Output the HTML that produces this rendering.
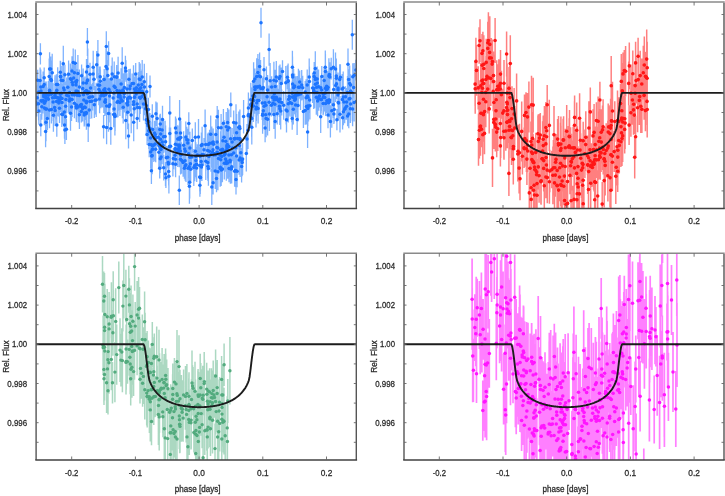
<!DOCTYPE html>
<html><head><meta charset="utf-8"><title>Transit light curves</title>
<style>html,body{margin:0;padding:0;background:#fff;width:725px;height:496px;overflow:hidden}svg{display:block}text{font-family:"Liberation Sans",sans-serif}</style>
</head><body>
<svg width="725" height="496" viewBox="0 0 725 496" font-family="Liberation Sans, sans-serif" font-size="10"><rect width="725" height="496" fill="#fff"/><filter id="bl" x="0" y="0" width="725" height="496" filterUnits="userSpaceOnUse"><feGaussianBlur stdDeviation="0.4"/></filter><g filter="url(#bl)"><clipPath id="cTL"><rect x="36.0" y="2.0" width="320.3" height="206.5"/></clipPath>
<g clip-path="url(#cTL)">
<path d="M35.7 91.1V113.4M36.7 91.5V116.6M37.2 85.4V110M37.7 69.8V90.6M38.6 87V120.4M38.7 79.3V105M38.9 97.3V124.7M40.1 67.6V93.6M40.4 43.2V64.4M40.8 69.4V104.6M40.8 113.9V136.3M40.9 88.1V113.3M41 74.6V107.6M41.8 93.6V119.8M41.9 86.6V115.8M42.9 87.6V113.6M43.1 71.4V101.5M43.7 82.1V107.9M43.8 82.7V110.9M44.2 74.5V94.7M44.2 67.5V87.8M44.3 81.4V110.5M44.4 90.6V125.3M44.4 84.3V122.3M45.1 83.8V118.3M45.4 86.5V115.9M45.6 115.6V147.2M45.7 81.6V113.7M45.7 92.4V125.6M46 103.4V141.2M46.2 81.6V107.8M46.4 83.7V111.8M46.5 92V126M47.4 106.4V130.3M47.9 87.6V109.3M48.3 81.1V117.3M48.4 85.1V105.4M49.2 58.4V94.5M49.5 91.9V128.3M49.6 78.7V101.7M49.6 52.2V85.8M49.7 79.2V104.4M50.7 56.4V81.3M50.9 60.5V98.2M51.2 76.2V112.2M51.4 63.7V97.5M51.4 95.6V123.4M52.2 53.8V91.5M52.6 82.7V112.9M53.1 83.3V120.9M53.4 98.7V131.7M54.6 97V117.8M54.9 80.2V114.6M54.9 77.6V112.7M55 75.2V111.1M55.1 94.9V126.1M56.4 74.2V94.8M56.5 83.8V119.4M56.7 78.9V106.5M56.7 85.8V109.3M56.8 78.4V102.1M56.8 113.2V136.8M57.7 67.2V101.9M57.7 87.1V108.4M58 79.8V116.3M58.8 92.7V113M59.1 84.1V117.1M59.5 88.1V112.3M59.5 93.7V122.9M60.3 60.7V83.8M60.4 76.1V112.3M60.5 64.8V87.6M60.5 83.2V111.6M60.6 61.4V92.4M61.2 66.1V94.2M61.3 81.3V105.1M61.8 101.7V126.9M61.9 84V120.9M62 87.3V109.5M62.7 104.3V124.6M62.8 62.2V98.6M63.3 45.8V81.7M63.7 71.8V104.1M64.2 75.8V104.3M64.3 93.4V130.6M64.5 111.4V138.8M64.9 64.7V84.9M64.9 116.1V143.9M65.5 102V131.5M65.6 91.3V121.2M65.9 81.4V117.4M66.4 118.7V139.9M66.7 77.6V113M67.8 72.5V101.9M68.6 79.5V112.7M68.6 60.5V88M69.5 88.3V113.6M69.7 79.5V105.5M69.9 86.4V111.4M70.4 85.2V113.4M70.4 63.4V94.1M70.5 95.7V130.7M71.3 67.8V91M71.5 92.9V121M72 56.2V85.8M72.1 82.1V116.9M72.2 65.8V98.6M72.2 79.1V110.3M72.8 68.6V100.7M73.2 48.4V76.5M73.7 60.7V95.2M74.3 77.6V112.7M74.4 88.1V118.3M74.4 61.8V83.9M75.3 49.5V77.1M75.8 69.1V93.9M76 79.3V102.8M76 72.3V97.6M76.1 65V99.8M76.2 93.3V119.6M76.4 94.3V122M76.5 91.4V118.3M76.8 68.9V92.2M77.1 80.1V110.4M77.8 77.6V105.1M77.9 55V91.9M78.2 91.4V122.5M79.4 76.6V114.2M79.4 69.4V104.8M79.4 100.3V129.1M80.2 95.1V115.3M81.2 94.6V118.5M81.3 100.4V122.6M81.4 87.9V121.2M81.6 64.5V87M82.6 72.7V104.3M82.6 95.8V121.6M83.2 68.6V97.3M83.5 77.8V111.5M83.8 87.2V112.6M84.2 103.5V126.6M84.3 100.4V125.5M84.5 88.6V125.6M84.9 76.4V106.4M85.3 94.8V120M86.2 90.4V113.1M86.2 81.1V102.4M86.2 100.8V126.8M86.3 85.7V116.8M86.4 69V97.2M86.4 95.1V129.8M86.4 71.4V109.3M86.4 87.6V117.8M86.5 58.9V85.1M87.4 76.6V110.9M87.4 69.6V91.2M87.5 63.1V96.8M87.8 48.4V84.3M88.2 108.2V142.1M88.5 81V102.8M88.9 82.3V112.7M89.2 92.9V127.3M89.2 78.6V106M89.9 83.9V119.1M90 62.8V85.8M90.1 82.1V111.6M90.6 73V103.1M91.7 84.2V118.4M92.6 83V110.4M93.1 61.6V86.3M93.2 50.8V83.6M94 68.3V90.3M94.3 91.4V118M95 86V114.4M96.2 82.8V117M96.7 50.9V78.6M97.9 40V70.1M98 68.9V101.1M98.9 73.1V105.3M99.5 66.6V103.9M99.6 85V113.3M100.1 76.4V106.7M100.2 66.6V87M100.4 69.5V92.9M100.9 83.8V108.3M101.8 83.1V106.9M102.5 78.2V107.6M103.6 115V138.6M103.7 75V105.3M103.8 78.3V113.1M104.2 68.9V90.2M104.9 76.6V100.9M104.9 87.1V116M105.2 91.7V112.6M105.2 80.4V102.9M105.4 84.5V114.8M105.7 81.1V108.3M106 48.5V84.8M106.3 31.3V61.6M106.6 110.6V144.2M106.7 92.8V119.1M106.9 79.7V106.5M107.1 51V86.4M107.8 59.9V90.9M108.5 95.3V131.8M108.6 41.2V65.7M108.9 78.2V100.2M109.1 90.4V122.6M109.6 84.9V107.1M109.8 94.2V115.5M110.1 78.5V105.5M110.8 112.4V144.8M111.4 65.8V92.2M112.2 57.4V90.9M113.1 83.8V112M113.7 102.1V127.2M113.9 78.3V107.9M114.1 93.7V124.6M114.2 74.9V97.6M114.2 61.4V92M114.6 102.7V125.7M114.9 97.9V135.4M115.1 101.3V130.9M115.2 75.7V99.4M116.6 66.8V87.5M116.7 65V88.9M117 77.8V103.5M117.2 87.2V117.5M118 85.3V117.3M118.1 56.7V89.5M118.3 82.8V110.7M118.9 78.5V109.8M119.1 80.2V110.2M119.6 80.9V106.2M119.7 79V102.9M119.9 88.9V116.1M120 79.5V111.9M120.1 86V108.4M121.1 68.2V99.6M121.1 89.5V109.8M121.5 80.5V103.8M122.2 47.2V79.3M122.4 83.6V118.2M122.8 73.2V107M123.2 91.2V123.5M123.5 79.3V103.8M123.6 73.6V111.4M124.2 81.6V112.4M124.3 75.5V111.9M124.4 69V105.8M125.4 55.8V80M125.8 101.9V139.3M125.9 60.3V81.7M126.9 73.2V104.7M127 91.1V115.7M127.5 88.6V110.3M127.7 87V117.3M127.7 93.1V117M127.7 95.1V129.3M127.8 84.1V112.4M128.5 123.6V148.5M128.9 69.1V89.3M129.3 81V113.4M129.8 72.9V104.4M130.3 68.7V103.2M130.6 84.6V111.5M131.2 96.8V133.3M132.1 73.4V93.8M133.5 65.3V101.9M133.5 87.5V121.3M133.6 90.9V112.7M133.7 103.4V141.2M134.2 98V119.6M134.4 80.5V114M134.4 76.9V101.3M134.7 80.8V113.2M135.2 73.8V108.9M135.7 63V85.2M136.1 81.1V106.9M136.2 73.3V109.4M136.5 76.2V104.8M136.5 76.3V99.1M137.2 107.6V129.2M137.2 92.9V115.1M137.6 96.5V118.4M138.3 71.9V98.3M139.2 62.1V96.1M139.5 75.7V103.9M139.6 86.6V108.3M139.6 75.7V102.1M139.6 76.8V105.5M139.6 93.8V121.9M140.2 82.5V114M140.2 63.5V95.8M140.8 71V104.4M141.9 69.5V99.2M141.9 86.3V106.8M142.2 60V93.9M142.2 74.3V108.4M143.5 87.4V120.5M143.6 80.4V108.3M144.3 63.8V99.7M144.5 76.1V97.9M144.7 82V115.3M145.5 93.4V124.1M146.3 103.4V136M146.3 95V116.2M146.7 73V110.5M147.1 124.3V144.9M147.4 109.1V132.2M147.5 109V138.3M148 110.6V140.9M148.4 97.8V121M148.6 108.8V134M148.8 112.6V149.1M149.2 131.6V157.3M149.6 117.4V145.5M150 75.4V97.4M150 113V143.3M150.6 121.8V154.4M150.7 135.4V168.7M151.3 132.7V156.9M151.4 157.5V184.1M151.7 140V171.8M152.1 136.8V174.3M152.2 132.9V166.8M152.3 104.3V128.2M152.6 138.5V159.7M152.6 132.6V158.5M152.6 114.6V144.1M152.7 133.2V158.1M153.8 127.8V162M154.5 120.8V145.4M154.9 127.4V149.6M154.9 121.1V152M155.2 127.2V160.9M155.2 122.7V146.4M155.7 136.2V162.2M155.9 101.4V126.1M156.2 127.6V148.1M157.1 102.4V134.7M158.3 126.7V147.6M158.9 136.7V167.7M158.9 129.4V160.7M159 128.4V158M159.3 135.7V156.4M159.7 157.9V178.5M159.8 114.8V144.1M160.2 144.3V173.1M160.3 113.8V134.1M160.5 129.2V149.4M160.6 131.6V165.5M160.7 121V146.8M161 133V165.9M161.1 145.3V168.9M162.1 117.6V142.3M162.1 128.1V164.3M162.3 130.2V153.7M162.5 105.7V133.1M162.9 130.7V159.6M163.5 120.2V153.1M163.7 154.9V180.6M165.1 120.7V152.4M165.5 162.1V186.1M165.6 125.6V157.9M165.9 167.6V188M166.3 146V169.4M167.7 146.7V167.8M168.2 151.6V173.5M168.4 147.3V180.8M168.7 157.3V185.6M168.9 159.3V193.4M169.4 127.6V165.2M169.8 121.8V145.1M169.8 96V129.8M170.6 127.6V165.1M172.9 151.1V176.6M173.4 147.8V169.2M175.1 141.1V169.4M175.3 133.6V163.4M175.4 128.2V160.5M175.4 134.4V164.7M175.5 146.6V172M175.5 116.6V139.5M175.6 151.2V177.3M176.2 118.5V146.9M177.3 140.2V163.6M177.7 132.4V157.7M177.7 131V166.9M177.7 125.3V152.9M179.2 126.7V149M179.2 135.3V167.3M179.2 125.7V152.1M179.3 175.6V204.9M179.3 135V162.1M179.4 134.1V156.1M179.4 130V163.3M179.5 124V154.2M179.6 100.1V137.9M180.3 141V161.1M180.5 144.1V174.5M180.5 119.2V146.9M180.6 141V168.8M180.8 120.9V153.9M181.4 142.3V166.7M181.5 146.6V173.8M183 151.2V173.6M183.1 146.5V176.7M183.6 131.3V159.1M184.4 157.9V178.7M184.7 137V161.2M185.1 147.2V174.3M185.2 151.1V180.7M185.4 140.5V162.1M185.8 121.6V152.7M186 147.3V182M186.8 126.7V152.7M187.8 132.5V153.7M187.8 128.7V151.3M188 151.4V185.1M188.6 138.9V168.5M188.8 112.3V134.7M189.2 155.3V178.3M189.4 168.7V203.7M189.7 166.2V198.4M189.9 131.7V164.3M189.9 146.1V168.6M190.4 144.7V182.6M190.7 157V181.5M191.9 143.7V170.1M192.3 128.4V152.7M193.8 149V185.9M194.7 149.8V181.2M195.3 122.3V152.3M195.4 137.5V165M195.8 144V176.9M195.8 142.3V170.8M196.3 150V178.4M196.6 156.8V179.5M196.7 147V181.9M197.3 144.3V165.5M198.5 118.9V155.2M199.7 147.3V183.8M199.7 162.2V191.6M199.9 173.8V196.7M200 144.2V168.1M200 144.8V167.4M200.3 161.3V193.9M200.4 164.2V190.7M201.2 142.7V180.4M201.4 153.8V180M201.4 132.6V158.5M201.9 148.9V181.1M202.1 126.7V162.5M202.1 139.7V169.2M203.7 143.6V165.8M204 138.1V161.2M205.1 109.4V142.2M205.7 127.5V161.3M205.8 142.3V180.1M207.4 140.2V170.5M207.6 133.5V167.5M207.7 146.4V178.5M207.9 151.2V181.1M208.4 151.2V185.7M208.4 132.6V156.3M209 145V167.8M209.4 138.4V164M209.6 129.8V156.7M210.7 115.6V152.7M211 137V171.8M211.8 126.4V159.8M211.8 168.9V205M212.3 140.8V167.7M212.6 133.5V171.2M213 131.6V168M213.1 171.1V194.4M213.2 128.5V155.3M213.3 140.4V165.9M213.5 132.6V156.1M213.7 135.2V172.1M213.8 141.4V168.4M215.2 153.3V188.9M215.8 119.2V149.9M215.8 144.2V165.3M216.5 164.5V192.3M216.9 130.4V164.5M217 139.4V165.1M217.1 129.3V154.6M217.2 106V127.7M217.9 138.9V167.4M217.9 153.2V190.2M217.9 137.7V158M218.4 109.8V145.7M218.5 143V173.8M220.2 142.7V167.8M220.2 150.5V186.7M220.3 148.9V185.6M220.6 131.3V168.8M220.7 145.6V173.9M221.1 114V141.5M221.2 154V186M221.6 138.4V174.4M221.8 156.3V182.6M222.4 155.9V181.9M222.5 135.6V163M222.8 141V161.4M222.9 123.1V158.2M223.4 109.1V137.3M223.8 137V165.4M224.1 139.5V170.9M224.1 119.9V154.5M224.3 146.9V179.6M225.2 141V167M225.5 146.4V171.7M225.8 128.2V154.2M226.2 111.9V141.5M226.3 146.2V180.8M226.3 151V171.1M226.5 135.1V166M226.8 128.3V163.5M226.9 132.9V163M227.1 136.5V163.3M227.3 130.2V158.7M227.6 107.9V137.2M227.7 147.4V178.7M227.7 119.3V140.6M228.7 129.3V163.5M228.7 131.8V161.7M228.9 142.4V167.4M228.9 109.5V146M229 155V182.2M230 143.2V177.1M230.1 149.1V174.5M230.4 153.9V183.8M230.6 127.1V150.5M230.8 92.4V117.3M231.4 141.9V167.8M231.4 157.7V180.3M231.7 149.8V183.5M232.1 127.9V156M232.6 134.9V161.2M233.7 137.7V168.2M233.7 110.5V134.6M234.4 124.7V152.6M234.4 124V154.2M234.6 155.6V186.7M235.2 124.6V152.2M235.5 153.8V187.1M235.6 129.9V165.5M236 104.3V141.7M236 164.4V194.5M236.6 114.1V151.5M236.6 137.4V174.3M237.1 155.4V187.2M237.6 127.2V149.6M238.8 111.5V143.1M239.1 145.2V174.8M239.3 129.3V162M239.6 114.2V139.1M239.9 109.5V147.4M239.9 125.4V151.6M240.1 138.9V176.9M240.1 127.3V152.3M240.8 138.5V167.1M241.6 150.2V182.5M241.9 148.1V172.8M242.2 148.9V176.2M242.6 143.1V175M243.6 99.9V133.4M246.3 135.1V171.6M247 124V153.9M248 111.6V148.9M248.2 103.3V128.3M248.4 92.4V123.4M248.6 97.6V131.2M250.7 106.3V127.8M250.8 82.7V116.9M250.9 86.9V121.7M251 90.5V120.6M251.7 100.2V136.8M251.8 87.5V120.1M251.8 92.6V119.2M251.8 109.9V144.4M252.8 81.3V110.6M253.4 89.8V122.1M253.6 62.3V100.1M253.7 84.3V116.8M254.3 78.8V112.8M254.6 79.1V113.8M254.7 75.3V98.9M254.9 68.6V89.3M255 78.9V100.2M255.8 72.9V101.3M256 90.2V127.6M256.4 93V121.1M256.7 58.2V94.8M256.7 90.4V115.6M257.3 75.7V98.2M257.5 86.9V114.2M257.7 69.3V104.5M257.9 53.9V91.3M258.1 93.8V123.5M259 87V113.9M259.1 59V93.2M259.6 52.6V80.3M259.6 73.4V98.9M260.5 60V93.6M260.8 77.9V99.4M262.2 85.9V119.9M262.6 96.6V133.8M262.6 77.8V99.7M262.7 96.8V130.9M263.3 100.6V121M263.3 76.5V98.7M264 57.1V82.4M264.1 87.3V125.3M265 92.3V113.2M265.1 113.9V142.2M265.7 100.7V128.6M265.9 93.7V116.9M266.1 99.6V137.2M266.4 66.6V90.9M267.1 78.6V114.9M267.6 75.1V104.9M267.6 102.8V135.6M269.1 85.5V118.9M269.1 33.5V65.7M269.4 96.6V131.1M270.1 62.9V98.8M271.3 94V116.6M271.6 76.3V97.9M272.5 83.5V111.7M273 92.3V114.2M273 81.6V112.2M273.9 61.8V98.7M273.9 99.7V129M274 88.3V111.4M274.3 82.8V104.9M274.8 89.6V119.1M275.2 69.7V103M275.2 104.2V138.7M275.2 80.6V114.2M275.4 85.3V113.6M275.4 81.3V117.1M276.3 66V95.8M276.3 61V93.3M276.4 87.3V107.3M277.2 84.9V113.7M277.2 102.9V124.5M278.3 88.8V112.6M279.1 65.7V91.1M279.4 86.6V117M279.5 95.5V116.9M279.8 92.3V125.1M279.9 85.5V112.6M280 64.5V88.4M280.7 92.4V129.6M281.3 67.6V99.5M281.7 89.5V115.5M282.5 60.3V82.5M283.7 90.9V119.7M285.8 65.9V99.7M286.1 95.3V124.5M286.5 107V132.5M287.1 100.1V122.1M287.4 65.2V89.2M288.1 63.4V97.6M288.2 70.1V93M288.3 84.9V122.6M288.7 82.6V115.7M289.3 82.8V110.1M289.3 86.9V110.3M290.1 88.4V116.7M291.7 85V122.2M292.2 107.6V129.7M292.2 81.1V105.5M292.4 86.4V107.8M292.4 50.7V83.7M292.5 56.4V93.5M292.6 69V99.1M292.7 64.2V89.6M293.2 78.6V116M293.3 93.9V124.5M293.6 69.1V106.4M294.1 73.6V100.4M294.3 75.3V97.9M294.5 85.3V106.6M294.6 73.7V98.5M294.7 86.3V114.1M295.2 81.5V115.2M295.4 84.8V113.2M295.6 92.6V117.5M295.9 76.3V112.5M296 80.9V111.2M297.1 104V134.9M297.3 75.9V110.7M298 89.5V121.5M298.4 82.5V106.9M298.4 68.7V105.8M299.5 75.8V98.7M299.7 70.6V93.4M300.5 78.2V109.9M301.7 69.9V100.4M302.7 75.7V99.8M303.4 95.2V127.9M305.2 81.1V102.8M305.2 96.1V124.7M306.1 79.2V116.3M306.5 88.3V124.4M307.2 69.6V100.5M307.4 78.9V113.1M307.6 116.1V148.1M307.8 93.8V118M307.8 90.7V126.1M307.9 81.7V112.7M308.5 90.9V121.6M309.2 58.4V95.6M309.4 66.5V96.5M309.6 87.1V113M309.9 91.9V119.5M312.6 72.9V102.9M313.7 73.2V108.9M313.8 71V106.1M313.8 77.5V104.7M314.2 62V90.8M314.3 62.6V83.4M314.6 76.8V108.3M315.3 51.3V85.8M315.3 67.8V91.3M315.4 68.4V99.9M315.5 67.2V89.7M316.3 79.6V114.7M316.7 70.6V103.8M317 74.1V110.9M317.2 66.4V91.6M317.3 71.3V94.4M317.6 85.9V116.2M318.3 88.3V109.4M318.5 69.5V104.2M318.8 87V110.7M319.3 85.1V107.5M319.5 84.5V107.2M320.7 100.3V133M320.8 77.3V98.2M321.1 85.8V113.4M321.4 88V111.2M321.7 73.1V107.1M321.8 66.1V87.1M323.1 91.7V115.2M323.4 80.3V114.2M323.4 79.5V108.8M323.5 82.7V104.8M323.6 74.8V112.6M324.2 67.1V93.8M324.8 83.8V111.4M325.3 50.5V83.9M325.3 78.5V107.4M325.4 54.1V89.1M325.5 73.4V103M325.6 91.4V115.9M326.4 74.7V104.3M326.6 68.7V103.8M326.8 88.1V113.2M327.1 73.6V105M327.8 72.1V102.5M327.8 71.2V103.7M328 101.9V128.3M328.5 90.8V114.8M328.7 84.1V116.1M328.9 58.2V93.5M329.4 87.9V116.3M329.4 63.1V85.6M329.6 82.8V117.3M329.8 62.2V91.7M330.4 105.2V137.5M331.2 57.7V79.6M331.8 93.7V127.8M333.4 91.3V118M333.4 49.3V85.3M333.7 77.3V101.8M333.9 103.9V124M334.2 96.6V122.4M335.5 52.5V85.5M335.7 69V102M336.3 58.4V93.6M336.4 66.3V90M336.5 68.3V99M336.9 109V130.3M338 82.9V106.9M338 79.3V100.1M338 72.5V103.8M338.2 84.6V120.7M338.6 87.6V118.4M339.7 64.2V95.1M340 96.1V132.4M340.4 64.3V90.2M342.2 73.9V104M342.4 82.2V116.8M342.6 106V129.5M343.2 71.6V104.3M343.3 86.4V107.8M343.4 98.5V125.2M343.9 90.3V113.7M344.7 95.4V123.2M345.2 96.2V119.8M345.5 86.2V107.3M346.6 88.1V116.1M346.6 92.7V119.8M347.5 75.9V109.2M347.6 106V126.3M348 48.4V79.9M348.6 69.2V90M348.8 99.5V128.3M349 89V109.3M349.7 65.4V101.8M350 84.1V112.8M350.4 94.4V123M350.6 74.2V95.5M350.7 87V121.2M350.7 78.8V103.6M350.9 77.1V105.6M350.9 75.5V108.5M352.6 92V126.2M352.8 63.3V90.2M353.6 77.1V98.2M354.1 83.7V121.5M354.2 63V87.6M355.9 59.7V80.4M356.6 85.6V116.8M261 7.8V37.8M352.3 19.8V49.8M87.4 28V56" stroke="#2a7fff" stroke-opacity="0.6" stroke-width="1.3" fill="none"/>
<g fill="#1f74ff"><circle cx="35.7" cy="102.2" r="1.75"/><circle cx="36.7" cy="104.1" r="1.75"/><circle cx="37.2" cy="97.7" r="1.75"/><circle cx="37.7" cy="80.2" r="1.75"/><circle cx="38.6" cy="103.7" r="1.75"/><circle cx="38.7" cy="92.1" r="1.75"/><circle cx="38.9" cy="111" r="1.75"/><circle cx="40.1" cy="80.6" r="1.75"/><circle cx="40.4" cy="53.8" r="1.75"/><circle cx="40.8" cy="87" r="1.75"/><circle cx="40.8" cy="125.1" r="1.75"/><circle cx="40.9" cy="100.7" r="1.75"/><circle cx="41" cy="91.1" r="1.75"/><circle cx="41.8" cy="106.7" r="1.75"/><circle cx="41.9" cy="101.2" r="1.75"/><circle cx="42.9" cy="100.6" r="1.75"/><circle cx="43.1" cy="86.5" r="1.75"/><circle cx="43.7" cy="95" r="1.75"/><circle cx="43.8" cy="96.8" r="1.75"/><circle cx="44.2" cy="84.6" r="1.75"/><circle cx="44.2" cy="77.7" r="1.75"/><circle cx="44.3" cy="95.9" r="1.75"/><circle cx="44.4" cy="107.9" r="1.75"/><circle cx="44.4" cy="103.3" r="1.75"/><circle cx="45.1" cy="101.1" r="1.75"/><circle cx="45.4" cy="101.2" r="1.75"/><circle cx="45.6" cy="131.4" r="1.75"/><circle cx="45.7" cy="97.7" r="1.75"/><circle cx="45.7" cy="109" r="1.75"/><circle cx="46" cy="122.3" r="1.75"/><circle cx="46.2" cy="94.7" r="1.75"/><circle cx="46.4" cy="97.7" r="1.75"/><circle cx="46.5" cy="109" r="1.75"/><circle cx="47.4" cy="118.4" r="1.75"/><circle cx="47.9" cy="98.4" r="1.75"/><circle cx="48.3" cy="99.2" r="1.75"/><circle cx="48.4" cy="95.2" r="1.75"/><circle cx="49.2" cy="76.4" r="1.75"/><circle cx="49.5" cy="110.1" r="1.75"/><circle cx="49.6" cy="90.2" r="1.75"/><circle cx="49.6" cy="69" r="1.75"/><circle cx="49.7" cy="91.8" r="1.75"/><circle cx="50.7" cy="68.9" r="1.75"/><circle cx="50.9" cy="79.3" r="1.75"/><circle cx="51.2" cy="94.2" r="1.75"/><circle cx="51.4" cy="80.6" r="1.75"/><circle cx="51.4" cy="109.5" r="1.75"/><circle cx="52.2" cy="72.7" r="1.75"/><circle cx="52.6" cy="97.8" r="1.75"/><circle cx="53.1" cy="102.1" r="1.75"/><circle cx="53.4" cy="115.2" r="1.75"/><circle cx="54.6" cy="107.4" r="1.75"/><circle cx="54.9" cy="97.4" r="1.75"/><circle cx="54.9" cy="95.2" r="1.75"/><circle cx="55" cy="93.2" r="1.75"/><circle cx="55.1" cy="110.5" r="1.75"/><circle cx="56.4" cy="84.5" r="1.75"/><circle cx="56.5" cy="101.6" r="1.75"/><circle cx="56.7" cy="92.7" r="1.75"/><circle cx="56.7" cy="97.5" r="1.75"/><circle cx="56.8" cy="90.2" r="1.75"/><circle cx="56.8" cy="125" r="1.75"/><circle cx="57.7" cy="84.5" r="1.75"/><circle cx="57.7" cy="97.7" r="1.75"/><circle cx="58" cy="98.1" r="1.75"/><circle cx="58.8" cy="102.9" r="1.75"/><circle cx="59.1" cy="100.6" r="1.75"/><circle cx="59.5" cy="100.2" r="1.75"/><circle cx="59.5" cy="108.3" r="1.75"/><circle cx="60.3" cy="72.2" r="1.75"/><circle cx="60.4" cy="94.2" r="1.75"/><circle cx="60.5" cy="76.2" r="1.75"/><circle cx="60.5" cy="97.4" r="1.75"/><circle cx="60.6" cy="76.9" r="1.75"/><circle cx="61.2" cy="80.2" r="1.75"/><circle cx="61.3" cy="93.2" r="1.75"/><circle cx="61.8" cy="114.3" r="1.75"/><circle cx="61.9" cy="102.5" r="1.75"/><circle cx="62" cy="98.4" r="1.75"/><circle cx="62.7" cy="114.4" r="1.75"/><circle cx="62.8" cy="80.4" r="1.75"/><circle cx="63.3" cy="63.8" r="1.75"/><circle cx="63.7" cy="87.9" r="1.75"/><circle cx="64.2" cy="90.1" r="1.75"/><circle cx="64.3" cy="112" r="1.75"/><circle cx="64.5" cy="125.1" r="1.75"/><circle cx="64.9" cy="74.8" r="1.75"/><circle cx="64.9" cy="130" r="1.75"/><circle cx="65.5" cy="116.8" r="1.75"/><circle cx="65.6" cy="106.3" r="1.75"/><circle cx="65.9" cy="99.4" r="1.75"/><circle cx="66.4" cy="129.3" r="1.75"/><circle cx="66.7" cy="95.3" r="1.75"/><circle cx="67.8" cy="87.2" r="1.75"/><circle cx="68.6" cy="96.1" r="1.75"/><circle cx="68.6" cy="74.2" r="1.75"/><circle cx="69.5" cy="100.9" r="1.75"/><circle cx="69.7" cy="92.5" r="1.75"/><circle cx="69.9" cy="98.9" r="1.75"/><circle cx="70.4" cy="99.3" r="1.75"/><circle cx="70.4" cy="78.8" r="1.75"/><circle cx="70.5" cy="113.2" r="1.75"/><circle cx="71.3" cy="79.4" r="1.75"/><circle cx="71.5" cy="107" r="1.75"/><circle cx="72" cy="71" r="1.75"/><circle cx="72.1" cy="99.5" r="1.75"/><circle cx="72.2" cy="82.2" r="1.75"/><circle cx="72.2" cy="94.7" r="1.75"/><circle cx="72.8" cy="84.7" r="1.75"/><circle cx="73.2" cy="62.5" r="1.75"/><circle cx="73.7" cy="78" r="1.75"/><circle cx="74.3" cy="95.1" r="1.75"/><circle cx="74.4" cy="103.2" r="1.75"/><circle cx="74.4" cy="72.8" r="1.75"/><circle cx="75.3" cy="63.3" r="1.75"/><circle cx="75.8" cy="81.5" r="1.75"/><circle cx="76" cy="91.1" r="1.75"/><circle cx="76" cy="84.9" r="1.75"/><circle cx="76.1" cy="82.4" r="1.75"/><circle cx="76.2" cy="106.5" r="1.75"/><circle cx="76.4" cy="108.1" r="1.75"/><circle cx="76.5" cy="104.9" r="1.75"/><circle cx="76.8" cy="80.5" r="1.75"/><circle cx="77.1" cy="95.2" r="1.75"/><circle cx="77.8" cy="91.3" r="1.75"/><circle cx="77.9" cy="73.4" r="1.75"/><circle cx="78.2" cy="106.9" r="1.75"/><circle cx="79.4" cy="95.4" r="1.75"/><circle cx="79.4" cy="87.1" r="1.75"/><circle cx="79.4" cy="114.7" r="1.75"/><circle cx="80.2" cy="105.2" r="1.75"/><circle cx="81.2" cy="106.5" r="1.75"/><circle cx="81.3" cy="111.5" r="1.75"/><circle cx="81.4" cy="104.5" r="1.75"/><circle cx="81.6" cy="75.8" r="1.75"/><circle cx="82.6" cy="88.5" r="1.75"/><circle cx="82.6" cy="108.7" r="1.75"/><circle cx="83.2" cy="83" r="1.75"/><circle cx="83.5" cy="94.7" r="1.75"/><circle cx="83.8" cy="99.9" r="1.75"/><circle cx="84.2" cy="115" r="1.75"/><circle cx="84.3" cy="112.9" r="1.75"/><circle cx="84.5" cy="107.1" r="1.75"/><circle cx="84.9" cy="91.4" r="1.75"/><circle cx="85.3" cy="107.4" r="1.75"/><circle cx="86.2" cy="101.8" r="1.75"/><circle cx="86.2" cy="91.8" r="1.75"/><circle cx="86.2" cy="113.8" r="1.75"/><circle cx="86.3" cy="101.3" r="1.75"/><circle cx="86.4" cy="83.1" r="1.75"/><circle cx="86.4" cy="112.5" r="1.75"/><circle cx="86.4" cy="90.4" r="1.75"/><circle cx="86.4" cy="102.7" r="1.75"/><circle cx="86.5" cy="72" r="1.75"/><circle cx="87.4" cy="93.8" r="1.75"/><circle cx="87.4" cy="80.4" r="1.75"/><circle cx="87.5" cy="80" r="1.75"/><circle cx="87.8" cy="66.4" r="1.75"/><circle cx="88.2" cy="125.1" r="1.75"/><circle cx="88.5" cy="91.9" r="1.75"/><circle cx="88.9" cy="97.5" r="1.75"/><circle cx="89.2" cy="110.1" r="1.75"/><circle cx="89.2" cy="92.3" r="1.75"/><circle cx="89.9" cy="101.5" r="1.75"/><circle cx="90" cy="74.3" r="1.75"/><circle cx="90.1" cy="96.9" r="1.75"/><circle cx="90.6" cy="88" r="1.75"/><circle cx="91.7" cy="101.3" r="1.75"/><circle cx="92.6" cy="96.7" r="1.75"/><circle cx="93.1" cy="73.9" r="1.75"/><circle cx="93.2" cy="67.2" r="1.75"/><circle cx="94" cy="79.3" r="1.75"/><circle cx="94.3" cy="104.7" r="1.75"/><circle cx="95" cy="100.2" r="1.75"/><circle cx="96.2" cy="99.9" r="1.75"/><circle cx="96.7" cy="64.7" r="1.75"/><circle cx="97.9" cy="55" r="1.75"/><circle cx="98" cy="85" r="1.75"/><circle cx="98.9" cy="89.2" r="1.75"/><circle cx="99.5" cy="85.2" r="1.75"/><circle cx="99.6" cy="99.1" r="1.75"/><circle cx="100.1" cy="91.5" r="1.75"/><circle cx="100.2" cy="76.8" r="1.75"/><circle cx="100.4" cy="81.2" r="1.75"/><circle cx="100.9" cy="96" r="1.75"/><circle cx="101.8" cy="95" r="1.75"/><circle cx="102.5" cy="92.9" r="1.75"/><circle cx="103.6" cy="126.8" r="1.75"/><circle cx="103.7" cy="90.1" r="1.75"/><circle cx="103.8" cy="95.7" r="1.75"/><circle cx="104.2" cy="79.5" r="1.75"/><circle cx="104.9" cy="88.7" r="1.75"/><circle cx="104.9" cy="101.5" r="1.75"/><circle cx="105.2" cy="102.2" r="1.75"/><circle cx="105.2" cy="91.6" r="1.75"/><circle cx="105.4" cy="99.7" r="1.75"/><circle cx="105.7" cy="94.7" r="1.75"/><circle cx="106" cy="66.6" r="1.75"/><circle cx="106.3" cy="46.4" r="1.75"/><circle cx="106.6" cy="127.4" r="1.75"/><circle cx="106.7" cy="105.9" r="1.75"/><circle cx="106.9" cy="93.1" r="1.75"/><circle cx="107.1" cy="68.7" r="1.75"/><circle cx="107.8" cy="75.4" r="1.75"/><circle cx="108.5" cy="113.6" r="1.75"/><circle cx="108.6" cy="53.5" r="1.75"/><circle cx="108.9" cy="89.2" r="1.75"/><circle cx="109.1" cy="106.5" r="1.75"/><circle cx="109.6" cy="96" r="1.75"/><circle cx="109.8" cy="104.8" r="1.75"/><circle cx="110.1" cy="92" r="1.75"/><circle cx="110.8" cy="128.6" r="1.75"/><circle cx="111.4" cy="79" r="1.75"/><circle cx="112.2" cy="74.1" r="1.75"/><circle cx="113.1" cy="97.9" r="1.75"/><circle cx="113.7" cy="114.6" r="1.75"/><circle cx="113.9" cy="93.1" r="1.75"/><circle cx="114.1" cy="109.1" r="1.75"/><circle cx="114.2" cy="86.2" r="1.75"/><circle cx="114.2" cy="76.7" r="1.75"/><circle cx="114.6" cy="114.2" r="1.75"/><circle cx="114.9" cy="116.6" r="1.75"/><circle cx="115.1" cy="116.1" r="1.75"/><circle cx="115.2" cy="87.5" r="1.75"/><circle cx="116.6" cy="77.1" r="1.75"/><circle cx="116.7" cy="76.9" r="1.75"/><circle cx="117" cy="90.6" r="1.75"/><circle cx="117.2" cy="102.3" r="1.75"/><circle cx="118" cy="101.3" r="1.75"/><circle cx="118.1" cy="73.1" r="1.75"/><circle cx="118.3" cy="96.7" r="1.75"/><circle cx="118.9" cy="94.2" r="1.75"/><circle cx="119.1" cy="95.2" r="1.75"/><circle cx="119.6" cy="93.6" r="1.75"/><circle cx="119.7" cy="91" r="1.75"/><circle cx="119.9" cy="102.5" r="1.75"/><circle cx="120" cy="95.7" r="1.75"/><circle cx="120.1" cy="97.2" r="1.75"/><circle cx="121.1" cy="83.9" r="1.75"/><circle cx="121.1" cy="99.6" r="1.75"/><circle cx="121.5" cy="92.1" r="1.75"/><circle cx="122.2" cy="63.2" r="1.75"/><circle cx="122.4" cy="100.9" r="1.75"/><circle cx="122.8" cy="90.1" r="1.75"/><circle cx="123.2" cy="107.3" r="1.75"/><circle cx="123.5" cy="91.5" r="1.75"/><circle cx="123.6" cy="92.5" r="1.75"/><circle cx="124.2" cy="97" r="1.75"/><circle cx="124.3" cy="93.7" r="1.75"/><circle cx="124.4" cy="87.4" r="1.75"/><circle cx="125.4" cy="67.9" r="1.75"/><circle cx="125.8" cy="120.6" r="1.75"/><circle cx="125.9" cy="71" r="1.75"/><circle cx="126.9" cy="88.9" r="1.75"/><circle cx="127" cy="103.4" r="1.75"/><circle cx="127.5" cy="99.4" r="1.75"/><circle cx="127.7" cy="102.1" r="1.75"/><circle cx="127.7" cy="105.1" r="1.75"/><circle cx="127.7" cy="112.2" r="1.75"/><circle cx="127.8" cy="98.2" r="1.75"/><circle cx="128.5" cy="136" r="1.75"/><circle cx="128.9" cy="79.2" r="1.75"/><circle cx="129.3" cy="97.2" r="1.75"/><circle cx="129.8" cy="88.7" r="1.75"/><circle cx="130.3" cy="86" r="1.75"/><circle cx="130.6" cy="98.1" r="1.75"/><circle cx="131.2" cy="115" r="1.75"/><circle cx="132.1" cy="83.6" r="1.75"/><circle cx="133.5" cy="83.6" r="1.75"/><circle cx="133.5" cy="104.4" r="1.75"/><circle cx="133.6" cy="101.8" r="1.75"/><circle cx="133.7" cy="122.3" r="1.75"/><circle cx="134.2" cy="108.8" r="1.75"/><circle cx="134.4" cy="97.2" r="1.75"/><circle cx="134.4" cy="89.1" r="1.75"/><circle cx="134.7" cy="97" r="1.75"/><circle cx="135.2" cy="91.4" r="1.75"/><circle cx="135.7" cy="74.1" r="1.75"/><circle cx="136.1" cy="94" r="1.75"/><circle cx="136.2" cy="91.4" r="1.75"/><circle cx="136.5" cy="90.5" r="1.75"/><circle cx="136.5" cy="87.7" r="1.75"/><circle cx="137.2" cy="118.4" r="1.75"/><circle cx="137.2" cy="104" r="1.75"/><circle cx="137.6" cy="107.5" r="1.75"/><circle cx="138.3" cy="85.1" r="1.75"/><circle cx="139.2" cy="79.1" r="1.75"/><circle cx="139.5" cy="89.8" r="1.75"/><circle cx="139.6" cy="97.4" r="1.75"/><circle cx="139.6" cy="88.9" r="1.75"/><circle cx="139.6" cy="91.2" r="1.75"/><circle cx="139.6" cy="107.8" r="1.75"/><circle cx="140.2" cy="98.2" r="1.75"/><circle cx="140.2" cy="79.6" r="1.75"/><circle cx="140.8" cy="87.7" r="1.75"/><circle cx="141.9" cy="84.4" r="1.75"/><circle cx="141.9" cy="96.5" r="1.75"/><circle cx="142.2" cy="77" r="1.75"/><circle cx="142.2" cy="91.3" r="1.75"/><circle cx="143.5" cy="103.9" r="1.75"/><circle cx="143.6" cy="94.3" r="1.75"/><circle cx="144.3" cy="81.7" r="1.75"/><circle cx="144.5" cy="87" r="1.75"/><circle cx="144.7" cy="98.6" r="1.75"/><circle cx="145.5" cy="108.7" r="1.75"/><circle cx="146.3" cy="119.7" r="1.75"/><circle cx="146.3" cy="105.6" r="1.75"/><circle cx="146.7" cy="91.8" r="1.75"/><circle cx="147.1" cy="134.6" r="1.75"/><circle cx="147.4" cy="120.6" r="1.75"/><circle cx="147.5" cy="123.7" r="1.75"/><circle cx="148" cy="125.8" r="1.75"/><circle cx="148.4" cy="109.4" r="1.75"/><circle cx="148.6" cy="121.4" r="1.75"/><circle cx="148.8" cy="130.8" r="1.75"/><circle cx="149.2" cy="144.5" r="1.75"/><circle cx="149.6" cy="131.5" r="1.75"/><circle cx="150" cy="86.4" r="1.75"/><circle cx="150" cy="128.2" r="1.75"/><circle cx="150.6" cy="138.1" r="1.75"/><circle cx="150.7" cy="152.1" r="1.75"/><circle cx="151.3" cy="144.8" r="1.75"/><circle cx="151.4" cy="170.8" r="1.75"/><circle cx="151.7" cy="155.9" r="1.75"/><circle cx="152.1" cy="155.5" r="1.75"/><circle cx="152.2" cy="149.8" r="1.75"/><circle cx="152.3" cy="116.3" r="1.75"/><circle cx="152.6" cy="149.1" r="1.75"/><circle cx="152.6" cy="145.5" r="1.75"/><circle cx="152.6" cy="129.4" r="1.75"/><circle cx="152.7" cy="145.7" r="1.75"/><circle cx="153.8" cy="144.9" r="1.75"/><circle cx="154.5" cy="133.1" r="1.75"/><circle cx="154.9" cy="138.5" r="1.75"/><circle cx="154.9" cy="136.6" r="1.75"/><circle cx="155.2" cy="144" r="1.75"/><circle cx="155.2" cy="134.6" r="1.75"/><circle cx="155.7" cy="149.2" r="1.75"/><circle cx="155.9" cy="113.8" r="1.75"/><circle cx="156.2" cy="137.8" r="1.75"/><circle cx="157.1" cy="118.5" r="1.75"/><circle cx="158.3" cy="137.2" r="1.75"/><circle cx="158.9" cy="152.2" r="1.75"/><circle cx="158.9" cy="145" r="1.75"/><circle cx="159" cy="143.2" r="1.75"/><circle cx="159.3" cy="146" r="1.75"/><circle cx="159.7" cy="168.2" r="1.75"/><circle cx="159.8" cy="129.4" r="1.75"/><circle cx="160.2" cy="158.7" r="1.75"/><circle cx="160.3" cy="124" r="1.75"/><circle cx="160.5" cy="139.3" r="1.75"/><circle cx="160.6" cy="148.5" r="1.75"/><circle cx="160.7" cy="133.9" r="1.75"/><circle cx="161" cy="149.4" r="1.75"/><circle cx="161.1" cy="157.1" r="1.75"/><circle cx="162.1" cy="130" r="1.75"/><circle cx="162.1" cy="146.2" r="1.75"/><circle cx="162.3" cy="142" r="1.75"/><circle cx="162.5" cy="119.4" r="1.75"/><circle cx="162.9" cy="145.2" r="1.75"/><circle cx="163.5" cy="136.7" r="1.75"/><circle cx="163.7" cy="167.8" r="1.75"/><circle cx="165.1" cy="136.5" r="1.75"/><circle cx="165.5" cy="174.1" r="1.75"/><circle cx="165.6" cy="141.8" r="1.75"/><circle cx="165.9" cy="177.8" r="1.75"/><circle cx="166.3" cy="157.7" r="1.75"/><circle cx="167.7" cy="157.2" r="1.75"/><circle cx="168.2" cy="162.6" r="1.75"/><circle cx="168.4" cy="164.1" r="1.75"/><circle cx="168.7" cy="171.4" r="1.75"/><circle cx="168.9" cy="176.3" r="1.75"/><circle cx="169.4" cy="146.4" r="1.75"/><circle cx="169.8" cy="133.5" r="1.75"/><circle cx="169.8" cy="112.9" r="1.75"/><circle cx="170.6" cy="146.3" r="1.75"/><circle cx="172.9" cy="163.8" r="1.75"/><circle cx="173.4" cy="158.5" r="1.75"/><circle cx="175.1" cy="155.2" r="1.75"/><circle cx="175.3" cy="148.5" r="1.75"/><circle cx="175.4" cy="144.3" r="1.75"/><circle cx="175.4" cy="149.5" r="1.75"/><circle cx="175.5" cy="159.3" r="1.75"/><circle cx="175.5" cy="128.1" r="1.75"/><circle cx="175.6" cy="164.3" r="1.75"/><circle cx="176.2" cy="132.7" r="1.75"/><circle cx="177.3" cy="151.9" r="1.75"/><circle cx="177.7" cy="145.1" r="1.75"/><circle cx="177.7" cy="148.9" r="1.75"/><circle cx="177.7" cy="139.1" r="1.75"/><circle cx="179.2" cy="137.9" r="1.75"/><circle cx="179.2" cy="151.3" r="1.75"/><circle cx="179.2" cy="138.9" r="1.75"/><circle cx="179.3" cy="190.3" r="1.75"/><circle cx="179.3" cy="148.6" r="1.75"/><circle cx="179.4" cy="145.1" r="1.75"/><circle cx="179.4" cy="146.6" r="1.75"/><circle cx="179.5" cy="139.1" r="1.75"/><circle cx="179.6" cy="119" r="1.75"/><circle cx="180.3" cy="151.1" r="1.75"/><circle cx="180.5" cy="159.3" r="1.75"/><circle cx="180.5" cy="133" r="1.75"/><circle cx="180.6" cy="154.9" r="1.75"/><circle cx="180.8" cy="137.4" r="1.75"/><circle cx="181.4" cy="154.5" r="1.75"/><circle cx="181.5" cy="160.2" r="1.75"/><circle cx="183" cy="162.4" r="1.75"/><circle cx="183.1" cy="161.6" r="1.75"/><circle cx="183.6" cy="145.2" r="1.75"/><circle cx="184.4" cy="168.3" r="1.75"/><circle cx="184.7" cy="149.1" r="1.75"/><circle cx="185.1" cy="160.7" r="1.75"/><circle cx="185.2" cy="165.9" r="1.75"/><circle cx="185.4" cy="151.3" r="1.75"/><circle cx="185.8" cy="137.1" r="1.75"/><circle cx="186" cy="164.7" r="1.75"/><circle cx="186.8" cy="139.7" r="1.75"/><circle cx="187.8" cy="143.1" r="1.75"/><circle cx="187.8" cy="140" r="1.75"/><circle cx="188" cy="168.3" r="1.75"/><circle cx="188.6" cy="153.7" r="1.75"/><circle cx="188.8" cy="123.5" r="1.75"/><circle cx="189.2" cy="166.8" r="1.75"/><circle cx="189.4" cy="186.2" r="1.75"/><circle cx="189.7" cy="182.3" r="1.75"/><circle cx="189.9" cy="148" r="1.75"/><circle cx="189.9" cy="157.3" r="1.75"/><circle cx="190.4" cy="163.7" r="1.75"/><circle cx="190.7" cy="169.3" r="1.75"/><circle cx="191.9" cy="156.9" r="1.75"/><circle cx="192.3" cy="140.5" r="1.75"/><circle cx="193.8" cy="167.4" r="1.75"/><circle cx="194.7" cy="165.5" r="1.75"/><circle cx="195.3" cy="137.3" r="1.75"/><circle cx="195.4" cy="151.2" r="1.75"/><circle cx="195.8" cy="160.5" r="1.75"/><circle cx="195.8" cy="156.5" r="1.75"/><circle cx="196.3" cy="164.2" r="1.75"/><circle cx="196.6" cy="168.1" r="1.75"/><circle cx="196.7" cy="164.5" r="1.75"/><circle cx="197.3" cy="154.9" r="1.75"/><circle cx="198.5" cy="137.1" r="1.75"/><circle cx="199.7" cy="165.5" r="1.75"/><circle cx="199.7" cy="176.9" r="1.75"/><circle cx="199.9" cy="185.3" r="1.75"/><circle cx="200" cy="156.1" r="1.75"/><circle cx="200" cy="156.1" r="1.75"/><circle cx="200.3" cy="177.6" r="1.75"/><circle cx="200.4" cy="177.5" r="1.75"/><circle cx="201.2" cy="161.5" r="1.75"/><circle cx="201.4" cy="166.9" r="1.75"/><circle cx="201.4" cy="145.5" r="1.75"/><circle cx="201.9" cy="165" r="1.75"/><circle cx="202.1" cy="144.6" r="1.75"/><circle cx="202.1" cy="154.4" r="1.75"/><circle cx="203.7" cy="154.7" r="1.75"/><circle cx="204" cy="149.7" r="1.75"/><circle cx="205.1" cy="125.8" r="1.75"/><circle cx="205.7" cy="144.4" r="1.75"/><circle cx="205.8" cy="161.2" r="1.75"/><circle cx="207.4" cy="155.4" r="1.75"/><circle cx="207.6" cy="150.5" r="1.75"/><circle cx="207.7" cy="162.4" r="1.75"/><circle cx="207.9" cy="166.2" r="1.75"/><circle cx="208.4" cy="168.4" r="1.75"/><circle cx="208.4" cy="144.4" r="1.75"/><circle cx="209" cy="156.4" r="1.75"/><circle cx="209.4" cy="151.2" r="1.75"/><circle cx="209.6" cy="143.3" r="1.75"/><circle cx="210.7" cy="134.2" r="1.75"/><circle cx="211" cy="154.4" r="1.75"/><circle cx="211.8" cy="143.1" r="1.75"/><circle cx="211.8" cy="186.9" r="1.75"/><circle cx="212.3" cy="154.2" r="1.75"/><circle cx="212.6" cy="152.3" r="1.75"/><circle cx="213" cy="149.8" r="1.75"/><circle cx="213.1" cy="182.7" r="1.75"/><circle cx="213.2" cy="141.9" r="1.75"/><circle cx="213.3" cy="153.2" r="1.75"/><circle cx="213.5" cy="144.3" r="1.75"/><circle cx="213.7" cy="153.6" r="1.75"/><circle cx="213.8" cy="154.9" r="1.75"/><circle cx="215.2" cy="171.1" r="1.75"/><circle cx="215.8" cy="134.5" r="1.75"/><circle cx="215.8" cy="154.8" r="1.75"/><circle cx="216.5" cy="178.4" r="1.75"/><circle cx="216.9" cy="147.5" r="1.75"/><circle cx="217" cy="152.3" r="1.75"/><circle cx="217.1" cy="142" r="1.75"/><circle cx="217.2" cy="116.8" r="1.75"/><circle cx="217.9" cy="153.1" r="1.75"/><circle cx="217.9" cy="171.7" r="1.75"/><circle cx="217.9" cy="147.9" r="1.75"/><circle cx="218.4" cy="127.8" r="1.75"/><circle cx="218.5" cy="158.4" r="1.75"/><circle cx="220.2" cy="155.3" r="1.75"/><circle cx="220.2" cy="168.6" r="1.75"/><circle cx="220.3" cy="167.3" r="1.75"/><circle cx="220.6" cy="150.1" r="1.75"/><circle cx="220.7" cy="159.8" r="1.75"/><circle cx="221.1" cy="127.8" r="1.75"/><circle cx="221.2" cy="170" r="1.75"/><circle cx="221.6" cy="156.4" r="1.75"/><circle cx="221.8" cy="169.4" r="1.75"/><circle cx="222.4" cy="168.9" r="1.75"/><circle cx="222.5" cy="149.3" r="1.75"/><circle cx="222.8" cy="151.2" r="1.75"/><circle cx="222.9" cy="140.7" r="1.75"/><circle cx="223.4" cy="123.2" r="1.75"/><circle cx="223.8" cy="151.2" r="1.75"/><circle cx="224.1" cy="155.2" r="1.75"/><circle cx="224.1" cy="137.2" r="1.75"/><circle cx="224.3" cy="163.2" r="1.75"/><circle cx="225.2" cy="154" r="1.75"/><circle cx="225.5" cy="159.1" r="1.75"/><circle cx="225.8" cy="141.2" r="1.75"/><circle cx="226.2" cy="126.7" r="1.75"/><circle cx="226.3" cy="163.5" r="1.75"/><circle cx="226.3" cy="161.1" r="1.75"/><circle cx="226.5" cy="150.5" r="1.75"/><circle cx="226.8" cy="145.9" r="1.75"/><circle cx="226.9" cy="148" r="1.75"/><circle cx="227.1" cy="149.9" r="1.75"/><circle cx="227.3" cy="144.4" r="1.75"/><circle cx="227.6" cy="122.5" r="1.75"/><circle cx="227.7" cy="163" r="1.75"/><circle cx="227.7" cy="130" r="1.75"/><circle cx="228.7" cy="146.4" r="1.75"/><circle cx="228.7" cy="146.8" r="1.75"/><circle cx="228.9" cy="154.9" r="1.75"/><circle cx="228.9" cy="127.7" r="1.75"/><circle cx="229" cy="168.6" r="1.75"/><circle cx="230" cy="160.2" r="1.75"/><circle cx="230.1" cy="161.8" r="1.75"/><circle cx="230.4" cy="168.8" r="1.75"/><circle cx="230.6" cy="138.8" r="1.75"/><circle cx="230.8" cy="104.8" r="1.75"/><circle cx="231.4" cy="154.8" r="1.75"/><circle cx="231.4" cy="169" r="1.75"/><circle cx="231.7" cy="166.7" r="1.75"/><circle cx="232.1" cy="141.9" r="1.75"/><circle cx="232.6" cy="148" r="1.75"/><circle cx="233.7" cy="152.9" r="1.75"/><circle cx="233.7" cy="122.5" r="1.75"/><circle cx="234.4" cy="138.6" r="1.75"/><circle cx="234.4" cy="139.1" r="1.75"/><circle cx="234.6" cy="171.2" r="1.75"/><circle cx="235.2" cy="138.4" r="1.75"/><circle cx="235.5" cy="170.4" r="1.75"/><circle cx="235.6" cy="147.7" r="1.75"/><circle cx="236" cy="123" r="1.75"/><circle cx="236" cy="179.4" r="1.75"/><circle cx="236.6" cy="132.8" r="1.75"/><circle cx="236.6" cy="155.9" r="1.75"/><circle cx="237.1" cy="171.3" r="1.75"/><circle cx="237.6" cy="138.4" r="1.75"/><circle cx="238.8" cy="127.3" r="1.75"/><circle cx="239.1" cy="160" r="1.75"/><circle cx="239.3" cy="145.6" r="1.75"/><circle cx="239.6" cy="126.7" r="1.75"/><circle cx="239.9" cy="128.5" r="1.75"/><circle cx="239.9" cy="138.5" r="1.75"/><circle cx="240.1" cy="157.9" r="1.75"/><circle cx="240.1" cy="139.8" r="1.75"/><circle cx="240.8" cy="152.8" r="1.75"/><circle cx="241.6" cy="166.4" r="1.75"/><circle cx="241.9" cy="160.5" r="1.75"/><circle cx="242.2" cy="162.5" r="1.75"/><circle cx="242.6" cy="159" r="1.75"/><circle cx="243.6" cy="116.6" r="1.75"/><circle cx="246.3" cy="153.4" r="1.75"/><circle cx="247" cy="139" r="1.75"/><circle cx="248" cy="130.3" r="1.75"/><circle cx="248.2" cy="115.8" r="1.75"/><circle cx="248.4" cy="107.9" r="1.75"/><circle cx="248.6" cy="114.4" r="1.75"/><circle cx="250.7" cy="117" r="1.75"/><circle cx="250.8" cy="99.8" r="1.75"/><circle cx="250.9" cy="104.3" r="1.75"/><circle cx="251" cy="105.6" r="1.75"/><circle cx="251.7" cy="118.5" r="1.75"/><circle cx="251.8" cy="103.8" r="1.75"/><circle cx="251.8" cy="105.9" r="1.75"/><circle cx="251.8" cy="127.2" r="1.75"/><circle cx="252.8" cy="95.9" r="1.75"/><circle cx="253.4" cy="105.9" r="1.75"/><circle cx="253.6" cy="81.2" r="1.75"/><circle cx="253.7" cy="100.6" r="1.75"/><circle cx="254.3" cy="95.8" r="1.75"/><circle cx="254.6" cy="96.4" r="1.75"/><circle cx="254.7" cy="87.1" r="1.75"/><circle cx="254.9" cy="79" r="1.75"/><circle cx="255" cy="89.6" r="1.75"/><circle cx="255.8" cy="87.1" r="1.75"/><circle cx="256" cy="108.9" r="1.75"/><circle cx="256.4" cy="107.1" r="1.75"/><circle cx="256.7" cy="76.5" r="1.75"/><circle cx="256.7" cy="103" r="1.75"/><circle cx="257.3" cy="86.9" r="1.75"/><circle cx="257.5" cy="100.6" r="1.75"/><circle cx="257.7" cy="86.9" r="1.75"/><circle cx="257.9" cy="72.6" r="1.75"/><circle cx="258.1" cy="108.6" r="1.75"/><circle cx="259" cy="100.5" r="1.75"/><circle cx="259.1" cy="76.1" r="1.75"/><circle cx="259.6" cy="66.5" r="1.75"/><circle cx="259.6" cy="86.2" r="1.75"/><circle cx="260.5" cy="76.8" r="1.75"/><circle cx="260.8" cy="88.6" r="1.75"/><circle cx="262.2" cy="102.9" r="1.75"/><circle cx="262.6" cy="115.2" r="1.75"/><circle cx="262.6" cy="88.7" r="1.75"/><circle cx="262.7" cy="113.9" r="1.75"/><circle cx="263.3" cy="110.8" r="1.75"/><circle cx="263.3" cy="87.6" r="1.75"/><circle cx="264" cy="69.7" r="1.75"/><circle cx="264.1" cy="106.3" r="1.75"/><circle cx="265" cy="102.8" r="1.75"/><circle cx="265.1" cy="128" r="1.75"/><circle cx="265.7" cy="114.7" r="1.75"/><circle cx="265.9" cy="105.3" r="1.75"/><circle cx="266.1" cy="118.4" r="1.75"/><circle cx="266.4" cy="78.7" r="1.75"/><circle cx="267.1" cy="96.8" r="1.75"/><circle cx="267.6" cy="90" r="1.75"/><circle cx="267.6" cy="119.2" r="1.75"/><circle cx="269.1" cy="102.2" r="1.75"/><circle cx="269.1" cy="49.6" r="1.75"/><circle cx="269.4" cy="113.9" r="1.75"/><circle cx="270.1" cy="80.8" r="1.75"/><circle cx="271.3" cy="105.3" r="1.75"/><circle cx="271.6" cy="87.1" r="1.75"/><circle cx="272.5" cy="97.6" r="1.75"/><circle cx="273" cy="103.3" r="1.75"/><circle cx="273" cy="96.9" r="1.75"/><circle cx="273.9" cy="80.2" r="1.75"/><circle cx="273.9" cy="114.4" r="1.75"/><circle cx="274" cy="99.9" r="1.75"/><circle cx="274.3" cy="93.9" r="1.75"/><circle cx="274.8" cy="104.3" r="1.75"/><circle cx="275.2" cy="86.4" r="1.75"/><circle cx="275.2" cy="121.5" r="1.75"/><circle cx="275.2" cy="97.4" r="1.75"/><circle cx="275.4" cy="99.4" r="1.75"/><circle cx="275.4" cy="99.2" r="1.75"/><circle cx="276.3" cy="80.9" r="1.75"/><circle cx="276.3" cy="77.1" r="1.75"/><circle cx="276.4" cy="97.3" r="1.75"/><circle cx="277.2" cy="99.3" r="1.75"/><circle cx="277.2" cy="113.7" r="1.75"/><circle cx="278.3" cy="100.7" r="1.75"/><circle cx="279.1" cy="78.4" r="1.75"/><circle cx="279.4" cy="101.8" r="1.75"/><circle cx="279.5" cy="106.2" r="1.75"/><circle cx="279.8" cy="108.7" r="1.75"/><circle cx="279.9" cy="99" r="1.75"/><circle cx="280" cy="76.5" r="1.75"/><circle cx="280.7" cy="111" r="1.75"/><circle cx="281.3" cy="83.6" r="1.75"/><circle cx="281.7" cy="102.5" r="1.75"/><circle cx="282.5" cy="71.4" r="1.75"/><circle cx="283.7" cy="105.3" r="1.75"/><circle cx="285.8" cy="82.8" r="1.75"/><circle cx="286.1" cy="109.9" r="1.75"/><circle cx="286.5" cy="119.8" r="1.75"/><circle cx="287.1" cy="111.1" r="1.75"/><circle cx="287.4" cy="77.2" r="1.75"/><circle cx="288.1" cy="80.5" r="1.75"/><circle cx="288.2" cy="81.5" r="1.75"/><circle cx="288.3" cy="103.8" r="1.75"/><circle cx="288.7" cy="99.2" r="1.75"/><circle cx="289.3" cy="96.5" r="1.75"/><circle cx="289.3" cy="98.6" r="1.75"/><circle cx="290.1" cy="102.6" r="1.75"/><circle cx="291.7" cy="103.6" r="1.75"/><circle cx="292.2" cy="118.6" r="1.75"/><circle cx="292.2" cy="93.3" r="1.75"/><circle cx="292.4" cy="97.1" r="1.75"/><circle cx="292.4" cy="67.2" r="1.75"/><circle cx="292.5" cy="74.9" r="1.75"/><circle cx="292.6" cy="84" r="1.75"/><circle cx="292.7" cy="76.9" r="1.75"/><circle cx="293.2" cy="97.3" r="1.75"/><circle cx="293.3" cy="109.2" r="1.75"/><circle cx="293.6" cy="87.7" r="1.75"/><circle cx="294.1" cy="87" r="1.75"/><circle cx="294.3" cy="86.6" r="1.75"/><circle cx="294.5" cy="95.9" r="1.75"/><circle cx="294.6" cy="86.1" r="1.75"/><circle cx="294.7" cy="100.2" r="1.75"/><circle cx="295.2" cy="98.4" r="1.75"/><circle cx="295.4" cy="99" r="1.75"/><circle cx="295.6" cy="105.1" r="1.75"/><circle cx="295.9" cy="94.4" r="1.75"/><circle cx="296" cy="96" r="1.75"/><circle cx="297.1" cy="119.5" r="1.75"/><circle cx="297.3" cy="93.3" r="1.75"/><circle cx="298" cy="105.5" r="1.75"/><circle cx="298.4" cy="94.7" r="1.75"/><circle cx="298.4" cy="87.3" r="1.75"/><circle cx="299.5" cy="87.3" r="1.75"/><circle cx="299.7" cy="82" r="1.75"/><circle cx="300.5" cy="94.1" r="1.75"/><circle cx="301.7" cy="85.1" r="1.75"/><circle cx="302.7" cy="87.8" r="1.75"/><circle cx="303.4" cy="111.6" r="1.75"/><circle cx="305.2" cy="91.9" r="1.75"/><circle cx="305.2" cy="110.4" r="1.75"/><circle cx="306.1" cy="97.7" r="1.75"/><circle cx="306.5" cy="106.4" r="1.75"/><circle cx="307.2" cy="85" r="1.75"/><circle cx="307.4" cy="96" r="1.75"/><circle cx="307.6" cy="132.1" r="1.75"/><circle cx="307.8" cy="105.9" r="1.75"/><circle cx="307.8" cy="108.4" r="1.75"/><circle cx="307.9" cy="97.2" r="1.75"/><circle cx="308.5" cy="106.3" r="1.75"/><circle cx="309.2" cy="77" r="1.75"/><circle cx="309.4" cy="81.5" r="1.75"/><circle cx="309.6" cy="100" r="1.75"/><circle cx="309.9" cy="105.7" r="1.75"/><circle cx="312.6" cy="87.9" r="1.75"/><circle cx="313.7" cy="91.1" r="1.75"/><circle cx="313.8" cy="88.6" r="1.75"/><circle cx="313.8" cy="91.1" r="1.75"/><circle cx="314.2" cy="76.4" r="1.75"/><circle cx="314.3" cy="73" r="1.75"/><circle cx="314.6" cy="92.6" r="1.75"/><circle cx="315.3" cy="68.6" r="1.75"/><circle cx="315.3" cy="79.6" r="1.75"/><circle cx="315.4" cy="84.2" r="1.75"/><circle cx="315.5" cy="78.5" r="1.75"/><circle cx="316.3" cy="97.2" r="1.75"/><circle cx="316.7" cy="87.2" r="1.75"/><circle cx="317" cy="92.5" r="1.75"/><circle cx="317.2" cy="79" r="1.75"/><circle cx="317.3" cy="82.9" r="1.75"/><circle cx="317.6" cy="101" r="1.75"/><circle cx="318.3" cy="98.9" r="1.75"/><circle cx="318.5" cy="86.8" r="1.75"/><circle cx="318.8" cy="98.8" r="1.75"/><circle cx="319.3" cy="96.3" r="1.75"/><circle cx="319.5" cy="95.9" r="1.75"/><circle cx="320.7" cy="116.7" r="1.75"/><circle cx="320.8" cy="87.7" r="1.75"/><circle cx="321.1" cy="99.6" r="1.75"/><circle cx="321.4" cy="99.6" r="1.75"/><circle cx="321.7" cy="90.1" r="1.75"/><circle cx="321.8" cy="76.6" r="1.75"/><circle cx="323.1" cy="103.5" r="1.75"/><circle cx="323.4" cy="97.2" r="1.75"/><circle cx="323.4" cy="94.2" r="1.75"/><circle cx="323.5" cy="93.8" r="1.75"/><circle cx="323.6" cy="93.7" r="1.75"/><circle cx="324.2" cy="80.4" r="1.75"/><circle cx="324.8" cy="97.6" r="1.75"/><circle cx="325.3" cy="67.2" r="1.75"/><circle cx="325.3" cy="93" r="1.75"/><circle cx="325.4" cy="71.6" r="1.75"/><circle cx="325.5" cy="88.2" r="1.75"/><circle cx="325.6" cy="103.6" r="1.75"/><circle cx="326.4" cy="89.5" r="1.75"/><circle cx="326.6" cy="86.3" r="1.75"/><circle cx="326.8" cy="100.7" r="1.75"/><circle cx="327.1" cy="89.3" r="1.75"/><circle cx="327.8" cy="87.3" r="1.75"/><circle cx="327.8" cy="87.5" r="1.75"/><circle cx="328" cy="115.1" r="1.75"/><circle cx="328.5" cy="102.8" r="1.75"/><circle cx="328.7" cy="100.1" r="1.75"/><circle cx="328.9" cy="75.9" r="1.75"/><circle cx="329.4" cy="102.1" r="1.75"/><circle cx="329.4" cy="74.4" r="1.75"/><circle cx="329.6" cy="100.1" r="1.75"/><circle cx="329.8" cy="76.9" r="1.75"/><circle cx="330.4" cy="121.4" r="1.75"/><circle cx="331.2" cy="68.7" r="1.75"/><circle cx="331.8" cy="110.8" r="1.75"/><circle cx="333.4" cy="104.7" r="1.75"/><circle cx="333.4" cy="67.3" r="1.75"/><circle cx="333.7" cy="89.5" r="1.75"/><circle cx="333.9" cy="114" r="1.75"/><circle cx="334.2" cy="109.5" r="1.75"/><circle cx="335.5" cy="69" r="1.75"/><circle cx="335.7" cy="85.5" r="1.75"/><circle cx="336.3" cy="76" r="1.75"/><circle cx="336.4" cy="78.2" r="1.75"/><circle cx="336.5" cy="83.7" r="1.75"/><circle cx="336.9" cy="119.7" r="1.75"/><circle cx="338" cy="94.9" r="1.75"/><circle cx="338" cy="89.7" r="1.75"/><circle cx="338" cy="88.1" r="1.75"/><circle cx="338.2" cy="102.6" r="1.75"/><circle cx="338.6" cy="103" r="1.75"/><circle cx="339.7" cy="79.6" r="1.75"/><circle cx="340" cy="114.2" r="1.75"/><circle cx="340.4" cy="77.3" r="1.75"/><circle cx="342.2" cy="89" r="1.75"/><circle cx="342.4" cy="99.5" r="1.75"/><circle cx="342.6" cy="117.8" r="1.75"/><circle cx="343.2" cy="87.9" r="1.75"/><circle cx="343.3" cy="97.1" r="1.75"/><circle cx="343.4" cy="111.8" r="1.75"/><circle cx="343.9" cy="102" r="1.75"/><circle cx="344.7" cy="109.3" r="1.75"/><circle cx="345.2" cy="108" r="1.75"/><circle cx="345.5" cy="96.7" r="1.75"/><circle cx="346.6" cy="102.1" r="1.75"/><circle cx="346.6" cy="106.2" r="1.75"/><circle cx="347.5" cy="92.6" r="1.75"/><circle cx="347.6" cy="116.1" r="1.75"/><circle cx="348" cy="64.2" r="1.75"/><circle cx="348.6" cy="79.6" r="1.75"/><circle cx="348.8" cy="113.9" r="1.75"/><circle cx="349" cy="99.1" r="1.75"/><circle cx="349.7" cy="83.6" r="1.75"/><circle cx="350" cy="98.4" r="1.75"/><circle cx="350.4" cy="108.7" r="1.75"/><circle cx="350.6" cy="84.9" r="1.75"/><circle cx="350.7" cy="104.1" r="1.75"/><circle cx="350.7" cy="91.2" r="1.75"/><circle cx="350.9" cy="91.3" r="1.75"/><circle cx="350.9" cy="92" r="1.75"/><circle cx="352.6" cy="109.1" r="1.75"/><circle cx="352.8" cy="76.7" r="1.75"/><circle cx="353.6" cy="87.6" r="1.75"/><circle cx="354.1" cy="102.6" r="1.75"/><circle cx="354.2" cy="75.3" r="1.75"/><circle cx="355.9" cy="70.1" r="1.75"/><circle cx="356.6" cy="101.2" r="1.75"/><circle cx="261" cy="22.8" r="1.75"/><circle cx="352.3" cy="34.8" r="1.75"/><circle cx="87.4" cy="42" r="1.75"/></g>
<path d="M36.0 92.90 L36.8 92.90 L37.6 92.90 L38.4 92.90 L39.2 92.90 L40.0 92.90 L40.8 92.90 L41.6 92.90 L42.4 92.90 L43.2 92.90 L44.0 92.90 L44.8 92.90 L45.6 92.90 L46.4 92.90 L47.2 92.90 L48.0 92.90 L48.8 92.90 L49.6 92.90 L50.4 92.90 L51.3 92.90 L52.1 92.90 L52.9 92.90 L53.7 92.90 L54.5 92.90 L55.3 92.90 L56.1 92.90 L56.9 92.90 L57.7 92.90 L58.5 92.90 L59.3 92.90 L60.1 92.90 L60.9 92.90 L61.7 92.90 L62.5 92.90 L63.3 92.90 L64.1 92.90 L64.9 92.90 L65.7 92.90 L66.5 92.90 L67.3 92.90 L68.1 92.90 L68.9 92.90 L69.7 92.90 L70.5 92.90 L71.3 92.90 L72.1 92.90 L72.9 92.90 L73.7 92.90 L74.5 92.90 L75.3 92.90 L76.1 92.90 L76.9 92.90 L77.7 92.90 L78.5 92.90 L79.3 92.90 L80.2 92.90 L81.0 92.90 L81.8 92.90 L82.6 92.90 L83.4 92.90 L84.2 92.90 L85.0 92.90 L85.8 92.90 L86.6 92.90 L87.4 92.90 L88.2 92.90 L89.0 92.90 L89.8 92.90 L90.6 92.90 L91.4 92.90 L92.2 92.90 L93.0 92.90 L93.8 92.90 L94.6 92.90 L95.4 92.90 L96.2 92.90 L97.0 92.90 L97.8 92.90 L98.6 92.90 L99.4 92.90 L100.2 92.90 L101.0 92.90 L101.8 92.90 L102.6 92.90 L103.4 92.90 L104.2 92.90 L105.0 92.90 L105.8 92.90 L106.6 92.90 L107.4 92.90 L108.2 92.90 L109.1 92.90 L109.9 92.90 L110.7 92.90 L111.5 92.90 L112.3 92.90 L113.1 92.90 L113.9 92.90 L114.7 92.90 L115.5 92.90 L116.3 92.90 L117.1 92.90 L117.9 92.90 L118.7 92.90 L119.5 92.90 L120.3 92.90 L121.1 92.90 L121.9 92.90 L122.7 92.90 L123.5 92.90 L124.3 92.90 L125.1 92.90 L125.9 92.90 L126.7 92.90 L127.5 92.90 L128.3 92.90 L129.1 92.90 L129.9 92.90 L130.7 92.90 L131.5 92.90 L132.3 92.90 L133.1 92.90 L133.9 92.90 L134.7 92.90 L135.5 92.90 L136.3 92.90 L137.1 92.90 L138.0 92.90 L138.8 92.90 L139.6 92.90 L140.4 92.90 L141.2 92.90 L142.0 92.90 L142.8 92.90 L143.6 92.90 L144.4 94.39 L145.2 98.41 L146.0 103.93 L146.8 110.38 L147.6 117.17 L148.4 123.59 L149.2 128.35 L150.0 130.56 L150.8 132.45 L151.6 134.10 L152.4 135.57 L153.2 136.90 L154.0 138.11 L154.8 139.21 L155.6 140.23 L156.4 141.17 L157.2 142.05 L158.0 142.86 L158.8 143.63 L159.6 144.34 L160.4 145.01 L161.2 145.65 L162.0 146.24 L162.8 146.80 L163.6 147.34 L164.4 147.84 L165.2 148.32 L166.0 148.77 L166.8 149.20 L167.7 149.60 L168.5 149.99 L169.3 150.36 L170.1 150.71 L170.9 151.04 L171.7 151.35 L172.5 151.65 L173.3 151.94 L174.1 152.21 L174.9 152.46 L175.7 152.71 L176.5 152.94 L177.3 153.16 L178.1 153.37 L178.9 153.57 L179.7 153.76 L180.5 153.93 L181.3 154.10 L182.1 154.26 L182.9 154.41 L183.7 154.55 L184.5 154.68 L185.3 154.80 L186.1 154.92 L186.9 155.03 L187.7 155.13 L188.5 155.22 L189.3 155.30 L190.1 155.38 L190.9 155.45 L191.7 155.52 L192.5 155.57 L193.3 155.62 L194.1 155.67 L194.9 155.70 L195.7 155.73 L196.6 155.76 L197.4 155.77 L198.2 155.79 L199.0 155.79 L199.8 155.79 L200.6 155.78 L201.4 155.76 L202.2 155.74 L203.0 155.72 L203.8 155.68 L204.6 155.64 L205.4 155.59 L206.2 155.54 L207.0 155.48 L207.8 155.41 L208.6 155.33 L209.4 155.25 L210.2 155.16 L211.0 155.06 L211.8 154.96 L212.6 154.85 L213.4 154.73 L214.2 154.60 L215.0 154.46 L215.8 154.31 L216.6 154.16 L217.4 153.99 L218.2 153.82 L219.0 153.64 L219.8 153.44 L220.6 153.24 L221.4 153.02 L222.2 152.79 L223.0 152.55 L223.8 152.30 L224.6 152.03 L225.5 151.75 L226.3 151.46 L227.1 151.15 L227.9 150.82 L228.7 150.48 L229.5 150.12 L230.3 149.74 L231.1 149.34 L231.9 148.92 L232.7 148.48 L233.5 148.01 L234.3 147.52 L235.1 146.99 L235.9 146.44 L236.7 145.86 L237.5 145.24 L238.3 144.58 L239.1 143.88 L239.9 143.14 L240.7 142.34 L241.5 141.48 L242.3 140.57 L243.1 139.58 L243.9 138.50 L244.7 137.34 L245.5 136.05 L246.3 134.63 L247.1 133.05 L247.9 131.25 L248.7 129.16 L249.5 125.55 L250.3 119.50 L251.1 112.75 L251.9 106.11 L252.7 100.20 L253.5 95.58 L254.3 93.00 L255.2 92.90 L256.0 92.90 L256.8 92.90 L257.6 92.90 L258.4 92.90 L259.2 92.90 L260.0 92.90 L260.8 92.90 L261.6 92.90 L262.4 92.90 L263.2 92.90 L264.0 92.90 L264.8 92.90 L265.6 92.90 L266.4 92.90 L267.2 92.90 L268.0 92.90 L268.8 92.90 L269.6 92.90 L270.4 92.90 L271.2 92.90 L272.0 92.90 L272.8 92.90 L273.6 92.90 L274.4 92.90 L275.2 92.90 L276.0 92.90 L276.8 92.90 L277.6 92.90 L278.4 92.90 L279.2 92.90 L280.0 92.90 L280.8 92.90 L281.6 92.90 L282.4 92.90 L283.2 92.90 L284.1 92.90 L284.9 92.90 L285.7 92.90 L286.5 92.90 L287.3 92.90 L288.1 92.90 L288.9 92.90 L289.7 92.90 L290.5 92.90 L291.3 92.90 L292.1 92.90 L292.9 92.90 L293.7 92.90 L294.5 92.90 L295.3 92.90 L296.1 92.90 L296.9 92.90 L297.7 92.90 L298.5 92.90 L299.3 92.90 L300.1 92.90 L300.9 92.90 L301.7 92.90 L302.5 92.90 L303.3 92.90 L304.1 92.90 L304.9 92.90 L305.7 92.90 L306.5 92.90 L307.3 92.90 L308.1 92.90 L308.9 92.90 L309.7 92.90 L310.5 92.90 L311.3 92.90 L312.1 92.90 L313.0 92.90 L313.8 92.90 L314.6 92.90 L315.4 92.90 L316.2 92.90 L317.0 92.90 L317.8 92.90 L318.6 92.90 L319.4 92.90 L320.2 92.90 L321.0 92.90 L321.8 92.90 L322.6 92.90 L323.4 92.90 L324.2 92.90 L325.0 92.90 L325.8 92.90 L326.6 92.90 L327.4 92.90 L328.2 92.90 L329.0 92.90 L329.8 92.90 L330.6 92.90 L331.4 92.90 L332.2 92.90 L333.0 92.90 L333.8 92.90 L334.6 92.90 L335.4 92.90 L336.2 92.90 L337.0 92.90 L337.8 92.90 L338.6 92.90 L339.4 92.90 L340.2 92.90 L341.0 92.90 L341.9 92.90 L342.7 92.90 L343.5 92.90 L344.3 92.90 L345.1 92.90 L345.9 92.90 L346.7 92.90 L347.5 92.90 L348.3 92.90 L349.1 92.90 L349.9 92.90 L350.7 92.90 L351.5 92.90 L352.3 92.90 L353.1 92.90 L353.9 92.90 L354.7 92.90 L355.5 92.90 L356.3 92.90" stroke="#1a1a1a" stroke-width="1.9" fill="none" stroke-linejoin="round"/>
</g>
<path d="M35.3 2.0H357.0" stroke="#8a8a8a" stroke-width="1.6" fill="none"/>
<path d="M36.0 2.8V208.5" stroke="#555" stroke-width="1.4" fill="none"/>
<path d="M356.3 2.8V208.5" stroke="#555" stroke-width="1.4" fill="none"/>
<path d="M35.2 208.5H357.1" stroke="#424242" stroke-width="1.5" fill="none"/>
<path d="M71.7 208.5v-3.5M71.7 2.0v3.5M135.4 208.5v-3.5M135.4 2.0v3.5M199.1 208.5v-3.5M199.1 2.0v3.5M262.8 208.5v-3.5M262.8 2.0v3.5M326.5 208.5v-3.5M326.5 2.0v3.5M36.0 190.9h2.5M356.3 190.9h-2.5M36.0 171.3h2.5M356.3 171.3h-2.5M36.0 151.7h2.5M356.3 151.7h-2.5M36.0 132.1h2.5M356.3 132.1h-2.5M36.0 112.5h2.5M356.3 112.5h-2.5M36.0 92.9h2.5M356.3 92.9h-2.5M36.0 73.3h2.5M356.3 73.3h-2.5M36.0 53.7h2.5M356.3 53.7h-2.5M36.0 34.1h2.5M356.3 34.1h-2.5M36.0 14.5h2.5M356.3 14.5h-2.5" stroke="#666" stroke-width="0.9" fill="none"/>
<g fill="#2b2b2b" stroke="#2b2b2b" stroke-width="0.28" style="will-change:transform"><text x="71.7" y="224.1" font-size="9" text-anchor="middle" textLength="13.3" lengthAdjust="spacingAndGlyphs">-0.2</text><text x="135.4" y="224.1" font-size="9" text-anchor="middle" textLength="13.3" lengthAdjust="spacingAndGlyphs">-0.1</text><text x="199.1" y="224.1" font-size="9" text-anchor="middle" textLength="11.6" lengthAdjust="spacingAndGlyphs">0.0</text><text x="262.8" y="224.1" font-size="9" text-anchor="middle" textLength="11.6" lengthAdjust="spacingAndGlyphs">0.1</text><text x="326.5" y="224.1" font-size="9" text-anchor="middle" textLength="11.6" lengthAdjust="spacingAndGlyphs">0.2</text><text x="27.0" y="17.6" font-size="9" text-anchor="end" textLength="19.5" lengthAdjust="spacingAndGlyphs">1.004</text><text x="27.0" y="56.8" font-size="9" text-anchor="end" textLength="19.5" lengthAdjust="spacingAndGlyphs">1.002</text><text x="27.0" y="96.0" font-size="9" text-anchor="end" textLength="15.1" lengthAdjust="spacingAndGlyphs">1.00</text><text x="27.0" y="135.2" font-size="9" text-anchor="end" textLength="19.8" lengthAdjust="spacingAndGlyphs">0.998</text><text x="27.0" y="174.4" font-size="9" text-anchor="end" textLength="19.8" lengthAdjust="spacingAndGlyphs">0.996</text><text x="197.7" y="240.6" font-size="8.4" text-anchor="middle" textLength="45.8" lengthAdjust="spacingAndGlyphs">phase [days]</text><text transform="translate(9.1 105.2) rotate(-90)" font-size="8.2" text-anchor="middle" textLength="32.3" lengthAdjust="spacingAndGlyphs">Rel. Flux</text></g><clipPath id="cTR"><rect x="404.0" y="2.0" width="320.0" height="206.5"/></clipPath>
<g clip-path="url(#cTR)">
<path d="M475.1 62.3V105.9M475.2 63.9V113.7M475.9 37.7V85.1M476.5 45V95.8M478.2 66.2V109.5M478.5 113.4V165.8M479.1 27.2V63.7M479.1 80.3V126.1M479.4 102.1V158.4M480 19.3V62.4M480.2 108.8V145M480.5 96.2V155.8M480.7 63.1V108.6M481 92.7V133.8M481.5 111.2V147.3M481.9 54.5V106.9M481.9 74V110.4M482 34.1V72.8M482.2 39.4V90.9M482.4 63.8V112.5M482.7 59.5V108M482.8 105.6V163.9M482.8 59.3V100.8M482.9 31.7V69.7M483.2 85.2V141.8M483.4 96.5V132.9M483.5 74.9V123.5M483.7 57.7V109.2M483.8 35.2V93.2M483.8 39.9V97M484.5 112.5V154.2M484.6 90.7V132.3M485.8 68.1V116.7M485.8 76.1V127.3M486 56V102.7M486.2 38.7V86.1M487 53.1V99.6M487.7 64.7V113.5M487.8 23.3V62.1M487.8 21.8V75M488.4 12.3V68.7M488.8 53.5V102.2M489.2 84.5V133.4M489.6 31.2V73.7M489.6 39.4V76.4M489.8 16.2V72.7M490.8 50.9V105.9M491.3 37.9V78.1M492.1 45.3V82.9M492.4 39.6V83.6M492.5 128.8V186.9M493.2 71.6V111.2M493.5 51.6V99.6M493.6 54.8V108.3M493.8 89.7V149.1M493.8 100.2V144.7M493.9 80.9V124M495.1 18.1V63M495.3 97.3V151.4M495.6 109V145.1M495.7 92.9V145.1M496 88.2V133.4M496.2 80.4V119.2M496.7 106.9V157.2M496.7 60.3V119.3M497.8 106.6V151M497.8 64.3V108.2M498.5 64.6V114.9M498.8 59.2V117.7M499.3 60.3V111.6M500.2 69.6V108.4M500.3 101.9V145.4M500.4 125.4V166.4M500.4 58.6V107.9M500.5 50V98.2M500.7 117.3V158M501.4 70.8V118.7M502.8 88.8V137.4M503.9 84.7V137.2M503.9 104.1V158.5M504 60V106.6M504 115.7V159.8M505.8 111.2V150.7M506.6 31.4V76.6M506.6 87.3V127.8M506.9 75.9V128.7M506.9 103.4V141.1M507 90.8V130.7M507.1 63.5V122.6M507.3 83.7V124.3M507.3 96.1V148.2M507.5 86.2V142.9M507.7 87.7V132.4M508.9 151V195.9M509 102.5V158.2M509 67.1V109.4M509.4 94.2V147.1M509.6 105.2V147.6M509.7 65.5V120.9M509.8 93.5V149.5M510 72.1V123.1M510.3 35.3V91.8M511.1 103.5V156.6M511.1 116.5V158.1M511.5 110.5V165.1M511.5 98.3V139.1M512 86.3V130.8M512.5 107.6V153.3M512.8 111.4V160.3M513.3 130.8V166.9M513.3 134.1V184.5M513.4 120.1V172.9M514.1 88V140.2M514.7 106V150.3M516.6 73.6V128.2M517.8 126.4V181.5M518 124.7V177.9M519.1 142.7V193.4M519.5 123.8V181.7M520 157.4V200.2M521.7 101.4V161.4M522.4 138.1V174.6M524.1 127.6V167.9M524.3 130.3V167.1M524.5 94.5V136.3M524.8 110.3V166.7M526 92.3V132.8M526.4 125.8V171.9M526.6 116.5V165.4M526.9 133.2V185M527.5 93.1V140.6M527.7 119.1V171.3M527.8 129.9V172.2M528.9 81.5V132.6M529.3 172.4V213.5M530 147.4V189M530.9 121.4V161.7M531.2 179.7V219.1M531.2 167.2V208.4M531.5 75.8V133.7M531.5 133.8V170.3M531.8 119.3V170.9M531.8 135.1V184.1M532.5 112.1V164.7M532.5 125.2V181.7M533.1 133.9V188.4M533.2 77.8V132.5M533.3 143.8V180.7M533.5 170.4V210.2M533.9 138.5V186.9M534 161V209.3M534.5 169.2V220.9M534.6 138.8V195.1M534.9 147.4V191.6M535.6 151.1V189.5M535.8 132.7V172.2M536.1 181.8V241.3M536.6 148.9V195.2M536.6 149.4V200.1M537 159.1V208.1M537 176.6V213.7M537.9 115.5V152.1M538.3 114.2V168.6M538.3 144.3V189.6M539.1 148.7V202.8M539.4 113.9V162.4M540.3 112.9V157M540.9 159.7V203.9M541.1 156.7V204.8M541.9 140.4V177M542.5 135V182.4M542.6 121.3V180.8M543.2 116.3V162.1M543.3 115.6V175.6M543.7 145.3V191.5M543.7 135.2V186M544.3 156.9V214.6M544.4 106V165.3M545.9 101.9V153.1M545.9 155.7V198.2M545.9 122.7V165.1M546 134.5V180.5M546.4 144.9V185.1M546.6 113.5V160M546.7 106.5V154.9M547.1 152V188.2M547.2 85V124.5M547.3 151.9V203.3M549.3 99.7V151.1M549.4 159.8V203.8M549.8 149.8V192.2M551.8 150.8V188.3M552.9 146.4V204.2M553.4 140V195.4M554 105.9V163.6M554.5 152.9V212.8M554.9 143.2V192.3M555.3 153.4V196.8M555.6 135.2V189.2M556 134.1V184.8M557.1 158.7V212.1M557.2 158.7V212.9M557.2 143.8V197M557.6 118.9V159.3M558.5 116V174.2M558.5 123.6V163.5M558.6 165.3V215M559.5 152.9V201.2M559.7 149.5V185.8M560.6 138.9V187.6M560.6 122.7V178.2M560.8 162.7V206.3M560.9 116.5V171.6M561 125.7V171M561.3 157.3V213.7M562.1 152.9V209.1M562.6 140.3V191.5M563.1 118.7V161.1M563.6 116.3V163.8M563.7 167.4V205.2M564.4 151.4V200.8M564.6 178.4V222.6M564.8 136.1V179.7M565.2 137.5V195.4M565.3 128.8V166.6M566.1 183.5V225.1M566.7 105.1V157.6M567.5 154.3V208.9M567.6 181.1V225.7M568.3 125.9V168.4M569.2 118.3V154.6M569.3 119.3V172.3M569.5 110.1V163.3M569.9 156.5V194.3M570.6 137.7V193.6M570.6 127.3V168.3M571.1 142.5V180.5M571.1 181.1V220.3M571.4 133.7V190.5M572.3 140.6V177M572.9 185.8V234M573.1 126.6V169.2M573.7 139V175.1M574.1 170V228.8M574.5 149.6V186.2M574.5 101.3V149.1M574.5 127.8V167.9M574.6 95.4V139.5M575.3 130.1V174.8M576.6 144.1V202.8M576.7 102.4V158M576.9 177.9V221.8M577.2 173.1V214.5M577.2 165.2V202.3M577.3 126.2V173.9M578 146.2V187.1M578 151.3V205M578.1 158.3V215.8M579.4 167.1V220.7M579.6 93.3V143.3M580 122.2V178M580.4 119.7V160.7M580.7 133.2V183.2M581.5 142.2V198M581.9 194.7V237.2M582.3 139.2V187.4M582.7 160.5V210.2M582.7 138.6V197M583 140.2V189M583.2 179.7V227.8M583.2 121.7V159.9M583.2 156.3V204.1M583.9 186.4V235.4M584.2 216.8V264.5M584.9 129.5V178.1M585.7 118.1V171M585.8 111.2V163.4M587.5 136.5V175.1M587.7 135.6V193.9M587.8 142.2V187.9M588.5 163.9V215.2M588.6 138.2V177.2M588.7 153.3V189.9M588.9 101.3V154.8M590 129.7V169.8M590.1 138.2V183.5M590.3 87.5V136.4M590.7 144.7V188.3M590.7 157.8V208.7M591.3 143.2V187.1M592.4 148.2V186.7M592.9 140.9V183.6M593 109.3V162.5M593.5 136.2V189.8M593.5 130.1V168.9M593.9 137.9V189.7M594 135V191.4M594 140.1V188.3M594.1 103.9V160.9M594.6 135.1V184.7M594.7 176.1V223.4M594.7 152.1V211.4M595.1 133.8V177.7M595.2 126.6V162.7M595.5 156.7V208M596.3 141.7V178.1M596.4 102.2V139.1M596.7 126.8V172.7M597.7 170.3V221.8M598.1 96.4V146M598.4 139.6V179.8M598.9 111.6V170.8M599.5 132.8V179.1M599.6 126.9V169.2M599.7 108.9V166.4M599.9 81.7V118.2M599.9 128.7V175.3M600.2 134.8V179.7M601.1 133.9V172M601.2 109.3V155.1M601.3 120.6V163.6M602.2 182V226.3M602.5 105.4V154.5M602.7 124.9V170M603.1 99.3V154.2M603.2 124.2V174.6M604.2 135V183.4M604.2 153.5V207.6M604.2 140.2V177.1M604.8 126.7V180.3M604.9 141.2V181.4M605.2 135.5V195.4M606.2 123.3V177.6M607.8 120.8V175.4M607.9 149.7V201.6M608.2 103.4V160.7M608.3 117.9V174.1M608.6 106.6V147.2M609.9 105.3V162M610 148V207.6M610.6 98.8V157.4M610.9 125.3V184.1M610.9 163.3V217.4M611 134.2V175.4M611.1 111.3V167.5M611.1 106.1V144.9M611.2 55.9V115.6M611.5 99.6V142M611.7 100.7V141.4M612.4 133.5V190.8M612.4 131.6V180.6M612.5 81.8V140.2M614.2 131.1V172M614.8 101.3V141.7M615.8 148.6V204M616.2 149.2V185.5M617 123.6V170M617.5 90.6V150.4M617.7 150.3V192.1M617.8 131.2V169.4M617.8 129.2V185.1M618.7 120.9V160.1M618.8 97.3V145.4M619.3 117.2V173.6M620.5 83.9V123M620.9 116.4V167.1M621 101.1V152.3M621.3 54V108.7M621.5 103.4V162.3M621.6 90.8V148.1M621.8 90V131.5M621.8 92V143.9M622 111.3V166M622.3 63V118.3M622.5 67.4V116.1M622.7 109.2V162.1M622.7 100V144.1M623 52.4V95.5M623.4 95.8V141.2M624.3 50.1V91.1M624.7 105.1V153.6M624.8 89V148.4M625.1 97.1V149M625.6 46V96.5M628.7 61.6V105.3M629.1 105.3V145M629.3 42.6V89.2M630.9 88.6V136.8M631 64.4V122M632.4 75.3V124.8M632.8 50.5V97M633.5 85V134.7M633.7 84V124.4M634.3 96.1V134.1M634.7 136.2V178.4M635.2 60.9V110.2M635.2 67.1V119.4M635.6 41.8V84M635.6 115.7V158M636.1 57.6V103.6M637.6 83.2V132.2M638.1 37.7V74.7M638.2 51.5V107.6M639.3 75.7V125.1M639.7 74.5V118.6M640.2 50.7V100.5M640.8 79.4V133.1M641.8 58.6V109.4M641.9 85.6V132.9M643.3 45.8V99.6M644.1 71.2V119.7M644.3 36.5V93.6M645.4 90.1V131.2M645.5 51.9V100.7M646.1 51.8V102.1M646.7 29.5V88.7M647 77.8V125.1M647.1 51.9V104.7M647.2 41.7V93.9M647.2 81.4V137.6" stroke="#ff0000" stroke-opacity="0.5" stroke-width="1.5" fill="none"/>
<g fill="#ff1414"><circle cx="475.1" cy="84.1" r="1.8"/><circle cx="475.2" cy="88.8" r="1.8"/><circle cx="475.9" cy="61.4" r="1.8"/><circle cx="476.5" cy="70.4" r="1.8"/><circle cx="478.2" cy="87.9" r="1.8"/><circle cx="478.5" cy="139.6" r="1.8"/><circle cx="479.1" cy="45.5" r="1.8"/><circle cx="479.1" cy="103.2" r="1.8"/><circle cx="479.4" cy="130.2" r="1.8"/><circle cx="480" cy="40.8" r="1.8"/><circle cx="480.2" cy="126.9" r="1.8"/><circle cx="480.5" cy="126" r="1.8"/><circle cx="480.7" cy="85.9" r="1.8"/><circle cx="481" cy="113.2" r="1.8"/><circle cx="481.5" cy="129.2" r="1.8"/><circle cx="481.9" cy="80.7" r="1.8"/><circle cx="481.9" cy="92.2" r="1.8"/><circle cx="482" cy="53.4" r="1.8"/><circle cx="482.2" cy="65.2" r="1.8"/><circle cx="482.4" cy="88.2" r="1.8"/><circle cx="482.7" cy="83.7" r="1.8"/><circle cx="482.8" cy="134.7" r="1.8"/><circle cx="482.8" cy="80" r="1.8"/><circle cx="482.9" cy="50.7" r="1.8"/><circle cx="483.2" cy="113.5" r="1.8"/><circle cx="483.4" cy="114.7" r="1.8"/><circle cx="483.5" cy="99.2" r="1.8"/><circle cx="483.7" cy="83.5" r="1.8"/><circle cx="483.8" cy="64.2" r="1.8"/><circle cx="483.8" cy="68.5" r="1.8"/><circle cx="484.5" cy="133.4" r="1.8"/><circle cx="484.6" cy="111.5" r="1.8"/><circle cx="485.8" cy="92.4" r="1.8"/><circle cx="485.8" cy="101.7" r="1.8"/><circle cx="486" cy="79.4" r="1.8"/><circle cx="486.2" cy="62.4" r="1.8"/><circle cx="487" cy="76.4" r="1.8"/><circle cx="487.7" cy="89.1" r="1.8"/><circle cx="487.8" cy="42.7" r="1.8"/><circle cx="487.8" cy="48.4" r="1.8"/><circle cx="488.4" cy="40.5" r="1.8"/><circle cx="488.8" cy="77.9" r="1.8"/><circle cx="489.2" cy="108.9" r="1.8"/><circle cx="489.6" cy="52.4" r="1.8"/><circle cx="489.6" cy="57.9" r="1.8"/><circle cx="489.8" cy="44.4" r="1.8"/><circle cx="490.8" cy="78.4" r="1.8"/><circle cx="491.3" cy="58" r="1.8"/><circle cx="492.1" cy="64.1" r="1.8"/><circle cx="492.4" cy="61.6" r="1.8"/><circle cx="492.5" cy="157.9" r="1.8"/><circle cx="493.2" cy="91.4" r="1.8"/><circle cx="493.5" cy="75.6" r="1.8"/><circle cx="493.6" cy="81.5" r="1.8"/><circle cx="493.8" cy="119.4" r="1.8"/><circle cx="493.8" cy="122.4" r="1.8"/><circle cx="493.9" cy="102.5" r="1.8"/><circle cx="495.1" cy="40.5" r="1.8"/><circle cx="495.3" cy="124.4" r="1.8"/><circle cx="495.6" cy="127.1" r="1.8"/><circle cx="495.7" cy="119" r="1.8"/><circle cx="496" cy="110.8" r="1.8"/><circle cx="496.2" cy="99.8" r="1.8"/><circle cx="496.7" cy="132.1" r="1.8"/><circle cx="496.7" cy="89.8" r="1.8"/><circle cx="497.8" cy="128.8" r="1.8"/><circle cx="497.8" cy="86.2" r="1.8"/><circle cx="498.5" cy="89.8" r="1.8"/><circle cx="498.8" cy="88.5" r="1.8"/><circle cx="499.3" cy="85.9" r="1.8"/><circle cx="500.2" cy="89" r="1.8"/><circle cx="500.3" cy="123.6" r="1.8"/><circle cx="500.4" cy="145.9" r="1.8"/><circle cx="500.4" cy="83.3" r="1.8"/><circle cx="500.5" cy="74.1" r="1.8"/><circle cx="500.7" cy="137.6" r="1.8"/><circle cx="501.4" cy="94.8" r="1.8"/><circle cx="502.8" cy="113.1" r="1.8"/><circle cx="503.9" cy="110.9" r="1.8"/><circle cx="503.9" cy="131.3" r="1.8"/><circle cx="504" cy="83.3" r="1.8"/><circle cx="504" cy="137.7" r="1.8"/><circle cx="505.8" cy="131" r="1.8"/><circle cx="506.6" cy="54" r="1.8"/><circle cx="506.6" cy="107.6" r="1.8"/><circle cx="506.9" cy="102.3" r="1.8"/><circle cx="506.9" cy="122.3" r="1.8"/><circle cx="507" cy="110.8" r="1.8"/><circle cx="507.1" cy="93.1" r="1.8"/><circle cx="507.3" cy="104" r="1.8"/><circle cx="507.3" cy="122.1" r="1.8"/><circle cx="507.5" cy="114.6" r="1.8"/><circle cx="507.7" cy="110" r="1.8"/><circle cx="508.9" cy="173.4" r="1.8"/><circle cx="509" cy="130.3" r="1.8"/><circle cx="509" cy="88.2" r="1.8"/><circle cx="509.4" cy="120.6" r="1.8"/><circle cx="509.6" cy="126.4" r="1.8"/><circle cx="509.7" cy="93.2" r="1.8"/><circle cx="509.8" cy="121.5" r="1.8"/><circle cx="510" cy="97.6" r="1.8"/><circle cx="510.3" cy="63.6" r="1.8"/><circle cx="511.1" cy="130" r="1.8"/><circle cx="511.1" cy="137.3" r="1.8"/><circle cx="511.5" cy="137.8" r="1.8"/><circle cx="511.5" cy="118.7" r="1.8"/><circle cx="512" cy="108.6" r="1.8"/><circle cx="512.5" cy="130.5" r="1.8"/><circle cx="512.8" cy="135.8" r="1.8"/><circle cx="513.3" cy="148.8" r="1.8"/><circle cx="513.3" cy="159.3" r="1.8"/><circle cx="513.4" cy="146.5" r="1.8"/><circle cx="514.1" cy="114.1" r="1.8"/><circle cx="514.7" cy="128.1" r="1.8"/><circle cx="516.6" cy="100.9" r="1.8"/><circle cx="517.8" cy="154" r="1.8"/><circle cx="518" cy="151.3" r="1.8"/><circle cx="519.1" cy="168.1" r="1.8"/><circle cx="519.5" cy="152.8" r="1.8"/><circle cx="520" cy="178.8" r="1.8"/><circle cx="521.7" cy="131.4" r="1.8"/><circle cx="522.4" cy="156.3" r="1.8"/><circle cx="524.1" cy="147.7" r="1.8"/><circle cx="524.3" cy="148.7" r="1.8"/><circle cx="524.5" cy="115.4" r="1.8"/><circle cx="524.8" cy="138.5" r="1.8"/><circle cx="526" cy="112.5" r="1.8"/><circle cx="526.4" cy="148.8" r="1.8"/><circle cx="526.6" cy="140.9" r="1.8"/><circle cx="526.9" cy="159.1" r="1.8"/><circle cx="527.5" cy="116.9" r="1.8"/><circle cx="527.7" cy="145.2" r="1.8"/><circle cx="527.8" cy="151" r="1.8"/><circle cx="528.9" cy="107.1" r="1.8"/><circle cx="529.3" cy="192.9" r="1.8"/><circle cx="530" cy="168.2" r="1.8"/><circle cx="530.9" cy="141.6" r="1.8"/><circle cx="531.2" cy="199.4" r="1.8"/><circle cx="531.2" cy="187.8" r="1.8"/><circle cx="531.5" cy="104.7" r="1.8"/><circle cx="531.5" cy="152" r="1.8"/><circle cx="531.8" cy="145.1" r="1.8"/><circle cx="531.8" cy="159.6" r="1.8"/><circle cx="532.5" cy="138.4" r="1.8"/><circle cx="532.5" cy="153.4" r="1.8"/><circle cx="533.1" cy="161.2" r="1.8"/><circle cx="533.2" cy="105.1" r="1.8"/><circle cx="533.3" cy="162.2" r="1.8"/><circle cx="533.5" cy="190.3" r="1.8"/><circle cx="533.9" cy="162.7" r="1.8"/><circle cx="534" cy="185.2" r="1.8"/><circle cx="534.5" cy="195" r="1.8"/><circle cx="534.6" cy="167" r="1.8"/><circle cx="534.9" cy="169.5" r="1.8"/><circle cx="535.6" cy="170.3" r="1.8"/><circle cx="535.8" cy="152.4" r="1.8"/><circle cx="536.1" cy="211.6" r="1.8"/><circle cx="536.6" cy="172.1" r="1.8"/><circle cx="536.6" cy="174.7" r="1.8"/><circle cx="537" cy="183.6" r="1.8"/><circle cx="537" cy="195.2" r="1.8"/><circle cx="537.9" cy="133.8" r="1.8"/><circle cx="538.3" cy="141.4" r="1.8"/><circle cx="538.3" cy="166.9" r="1.8"/><circle cx="539.1" cy="175.7" r="1.8"/><circle cx="539.4" cy="138.1" r="1.8"/><circle cx="540.3" cy="135" r="1.8"/><circle cx="540.9" cy="181.8" r="1.8"/><circle cx="541.1" cy="180.7" r="1.8"/><circle cx="541.9" cy="158.7" r="1.8"/><circle cx="542.5" cy="158.7" r="1.8"/><circle cx="542.6" cy="151" r="1.8"/><circle cx="543.2" cy="139.2" r="1.8"/><circle cx="543.3" cy="145.6" r="1.8"/><circle cx="543.7" cy="168.4" r="1.8"/><circle cx="543.7" cy="160.6" r="1.8"/><circle cx="544.3" cy="185.7" r="1.8"/><circle cx="544.4" cy="135.7" r="1.8"/><circle cx="545.9" cy="127.5" r="1.8"/><circle cx="545.9" cy="177" r="1.8"/><circle cx="545.9" cy="143.9" r="1.8"/><circle cx="546" cy="157.5" r="1.8"/><circle cx="546.4" cy="165" r="1.8"/><circle cx="546.6" cy="136.8" r="1.8"/><circle cx="546.7" cy="130.7" r="1.8"/><circle cx="547.1" cy="170.1" r="1.8"/><circle cx="547.2" cy="104.8" r="1.8"/><circle cx="547.3" cy="177.6" r="1.8"/><circle cx="549.3" cy="125.4" r="1.8"/><circle cx="549.4" cy="181.8" r="1.8"/><circle cx="549.8" cy="171" r="1.8"/><circle cx="551.8" cy="169.6" r="1.8"/><circle cx="552.9" cy="175.3" r="1.8"/><circle cx="553.4" cy="167.7" r="1.8"/><circle cx="554" cy="134.7" r="1.8"/><circle cx="554.5" cy="182.9" r="1.8"/><circle cx="554.9" cy="167.7" r="1.8"/><circle cx="555.3" cy="175.1" r="1.8"/><circle cx="555.6" cy="162.2" r="1.8"/><circle cx="556" cy="159.4" r="1.8"/><circle cx="557.1" cy="185.4" r="1.8"/><circle cx="557.2" cy="185.8" r="1.8"/><circle cx="557.2" cy="170.4" r="1.8"/><circle cx="557.6" cy="139.1" r="1.8"/><circle cx="558.5" cy="145.1" r="1.8"/><circle cx="558.5" cy="143.6" r="1.8"/><circle cx="558.6" cy="190.1" r="1.8"/><circle cx="559.5" cy="177" r="1.8"/><circle cx="559.7" cy="167.7" r="1.8"/><circle cx="560.6" cy="163.2" r="1.8"/><circle cx="560.6" cy="150.5" r="1.8"/><circle cx="560.8" cy="184.5" r="1.8"/><circle cx="560.9" cy="144.1" r="1.8"/><circle cx="561" cy="148.4" r="1.8"/><circle cx="561.3" cy="185.5" r="1.8"/><circle cx="562.1" cy="181" r="1.8"/><circle cx="562.6" cy="165.9" r="1.8"/><circle cx="563.1" cy="139.9" r="1.8"/><circle cx="563.6" cy="140.1" r="1.8"/><circle cx="563.7" cy="186.3" r="1.8"/><circle cx="564.4" cy="176.1" r="1.8"/><circle cx="564.6" cy="200.5" r="1.8"/><circle cx="564.8" cy="157.9" r="1.8"/><circle cx="565.2" cy="166.5" r="1.8"/><circle cx="565.3" cy="147.7" r="1.8"/><circle cx="566.1" cy="204.3" r="1.8"/><circle cx="566.7" cy="131.3" r="1.8"/><circle cx="567.5" cy="181.6" r="1.8"/><circle cx="567.6" cy="203.4" r="1.8"/><circle cx="568.3" cy="147.1" r="1.8"/><circle cx="569.2" cy="136.4" r="1.8"/><circle cx="569.3" cy="145.8" r="1.8"/><circle cx="569.5" cy="136.7" r="1.8"/><circle cx="569.9" cy="175.4" r="1.8"/><circle cx="570.6" cy="165.7" r="1.8"/><circle cx="570.6" cy="147.8" r="1.8"/><circle cx="571.1" cy="161.5" r="1.8"/><circle cx="571.1" cy="200.7" r="1.8"/><circle cx="571.4" cy="162.1" r="1.8"/><circle cx="572.3" cy="158.8" r="1.8"/><circle cx="572.9" cy="209.9" r="1.8"/><circle cx="573.1" cy="147.9" r="1.8"/><circle cx="573.7" cy="157" r="1.8"/><circle cx="574.1" cy="199.4" r="1.8"/><circle cx="574.5" cy="167.9" r="1.8"/><circle cx="574.5" cy="125.2" r="1.8"/><circle cx="574.5" cy="147.9" r="1.8"/><circle cx="574.6" cy="117.4" r="1.8"/><circle cx="575.3" cy="152.4" r="1.8"/><circle cx="576.6" cy="173.4" r="1.8"/><circle cx="576.7" cy="130.2" r="1.8"/><circle cx="576.9" cy="199.8" r="1.8"/><circle cx="577.2" cy="193.8" r="1.8"/><circle cx="577.2" cy="183.7" r="1.8"/><circle cx="577.3" cy="150" r="1.8"/><circle cx="578" cy="166.6" r="1.8"/><circle cx="578" cy="178.2" r="1.8"/><circle cx="578.1" cy="187" r="1.8"/><circle cx="579.4" cy="193.9" r="1.8"/><circle cx="579.6" cy="118.3" r="1.8"/><circle cx="580" cy="150.1" r="1.8"/><circle cx="580.4" cy="140.2" r="1.8"/><circle cx="580.7" cy="158.2" r="1.8"/><circle cx="581.5" cy="170.1" r="1.8"/><circle cx="581.9" cy="216" r="1.8"/><circle cx="582.3" cy="163.3" r="1.8"/><circle cx="582.7" cy="185.3" r="1.8"/><circle cx="582.7" cy="167.8" r="1.8"/><circle cx="583" cy="164.6" r="1.8"/><circle cx="583.2" cy="203.8" r="1.8"/><circle cx="583.2" cy="140.8" r="1.8"/><circle cx="583.2" cy="180.2" r="1.8"/><circle cx="583.9" cy="210.9" r="1.8"/><circle cx="584.2" cy="240.7" r="1.8"/><circle cx="584.9" cy="153.8" r="1.8"/><circle cx="585.7" cy="144.6" r="1.8"/><circle cx="585.8" cy="137.3" r="1.8"/><circle cx="587.5" cy="155.8" r="1.8"/><circle cx="587.7" cy="164.8" r="1.8"/><circle cx="587.8" cy="165.1" r="1.8"/><circle cx="588.5" cy="189.5" r="1.8"/><circle cx="588.6" cy="157.7" r="1.8"/><circle cx="588.7" cy="171.6" r="1.8"/><circle cx="588.9" cy="128" r="1.8"/><circle cx="590" cy="149.8" r="1.8"/><circle cx="590.1" cy="160.8" r="1.8"/><circle cx="590.3" cy="111.9" r="1.8"/><circle cx="590.7" cy="166.5" r="1.8"/><circle cx="590.7" cy="183.3" r="1.8"/><circle cx="591.3" cy="165.1" r="1.8"/><circle cx="592.4" cy="167.5" r="1.8"/><circle cx="592.9" cy="162.2" r="1.8"/><circle cx="593" cy="135.9" r="1.8"/><circle cx="593.5" cy="163" r="1.8"/><circle cx="593.5" cy="149.5" r="1.8"/><circle cx="593.9" cy="163.8" r="1.8"/><circle cx="594" cy="163.2" r="1.8"/><circle cx="594" cy="164.2" r="1.8"/><circle cx="594.1" cy="132.4" r="1.8"/><circle cx="594.6" cy="159.9" r="1.8"/><circle cx="594.7" cy="199.8" r="1.8"/><circle cx="594.7" cy="181.8" r="1.8"/><circle cx="595.1" cy="155.7" r="1.8"/><circle cx="595.2" cy="144.6" r="1.8"/><circle cx="595.5" cy="182.4" r="1.8"/><circle cx="596.3" cy="159.9" r="1.8"/><circle cx="596.4" cy="120.6" r="1.8"/><circle cx="596.7" cy="149.7" r="1.8"/><circle cx="597.7" cy="196" r="1.8"/><circle cx="598.1" cy="121.2" r="1.8"/><circle cx="598.4" cy="159.7" r="1.8"/><circle cx="598.9" cy="141.2" r="1.8"/><circle cx="599.5" cy="155.9" r="1.8"/><circle cx="599.6" cy="148.1" r="1.8"/><circle cx="599.7" cy="137.7" r="1.8"/><circle cx="599.9" cy="100" r="1.8"/><circle cx="599.9" cy="152" r="1.8"/><circle cx="600.2" cy="157.2" r="1.8"/><circle cx="601.1" cy="152.9" r="1.8"/><circle cx="601.2" cy="132.2" r="1.8"/><circle cx="601.3" cy="142.1" r="1.8"/><circle cx="602.2" cy="204.1" r="1.8"/><circle cx="602.5" cy="129.9" r="1.8"/><circle cx="602.7" cy="147.4" r="1.8"/><circle cx="603.1" cy="126.8" r="1.8"/><circle cx="603.2" cy="149.4" r="1.8"/><circle cx="604.2" cy="159.2" r="1.8"/><circle cx="604.2" cy="180.6" r="1.8"/><circle cx="604.2" cy="158.7" r="1.8"/><circle cx="604.8" cy="153.5" r="1.8"/><circle cx="604.9" cy="161.3" r="1.8"/><circle cx="605.2" cy="165.4" r="1.8"/><circle cx="606.2" cy="150.5" r="1.8"/><circle cx="607.8" cy="148.1" r="1.8"/><circle cx="607.9" cy="175.7" r="1.8"/><circle cx="608.2" cy="132.1" r="1.8"/><circle cx="608.3" cy="146" r="1.8"/><circle cx="608.6" cy="126.9" r="1.8"/><circle cx="609.9" cy="133.6" r="1.8"/><circle cx="610" cy="177.8" r="1.8"/><circle cx="610.6" cy="128.1" r="1.8"/><circle cx="610.9" cy="154.7" r="1.8"/><circle cx="610.9" cy="190.3" r="1.8"/><circle cx="611" cy="154.8" r="1.8"/><circle cx="611.1" cy="139.4" r="1.8"/><circle cx="611.1" cy="125.5" r="1.8"/><circle cx="611.2" cy="85.7" r="1.8"/><circle cx="611.5" cy="120.8" r="1.8"/><circle cx="611.7" cy="121.1" r="1.8"/><circle cx="612.4" cy="162.2" r="1.8"/><circle cx="612.4" cy="156.1" r="1.8"/><circle cx="612.5" cy="111" r="1.8"/><circle cx="614.2" cy="151.6" r="1.8"/><circle cx="614.8" cy="121.5" r="1.8"/><circle cx="615.8" cy="176.3" r="1.8"/><circle cx="616.2" cy="167.3" r="1.8"/><circle cx="617" cy="146.8" r="1.8"/><circle cx="617.5" cy="120.5" r="1.8"/><circle cx="617.7" cy="171.2" r="1.8"/><circle cx="617.8" cy="150.3" r="1.8"/><circle cx="617.8" cy="157.1" r="1.8"/><circle cx="618.7" cy="140.5" r="1.8"/><circle cx="618.8" cy="121.4" r="1.8"/><circle cx="619.3" cy="145.4" r="1.8"/><circle cx="620.5" cy="103.5" r="1.8"/><circle cx="620.9" cy="141.7" r="1.8"/><circle cx="621" cy="126.7" r="1.8"/><circle cx="621.3" cy="81.4" r="1.8"/><circle cx="621.5" cy="132.9" r="1.8"/><circle cx="621.6" cy="119.4" r="1.8"/><circle cx="621.8" cy="110.7" r="1.8"/><circle cx="621.8" cy="118" r="1.8"/><circle cx="622" cy="138.6" r="1.8"/><circle cx="622.3" cy="90.7" r="1.8"/><circle cx="622.5" cy="91.8" r="1.8"/><circle cx="622.7" cy="135.7" r="1.8"/><circle cx="622.7" cy="122" r="1.8"/><circle cx="623" cy="73.9" r="1.8"/><circle cx="623.4" cy="118.5" r="1.8"/><circle cx="624.3" cy="70.6" r="1.8"/><circle cx="624.7" cy="129.4" r="1.8"/><circle cx="624.8" cy="118.7" r="1.8"/><circle cx="625.1" cy="123.1" r="1.8"/><circle cx="625.6" cy="71.2" r="1.8"/><circle cx="628.7" cy="83.4" r="1.8"/><circle cx="629.1" cy="125.1" r="1.8"/><circle cx="629.3" cy="65.9" r="1.8"/><circle cx="630.9" cy="112.7" r="1.8"/><circle cx="631" cy="93.2" r="1.8"/><circle cx="632.4" cy="100" r="1.8"/><circle cx="632.8" cy="73.8" r="1.8"/><circle cx="633.5" cy="109.9" r="1.8"/><circle cx="633.7" cy="104.2" r="1.8"/><circle cx="634.3" cy="115.1" r="1.8"/><circle cx="634.7" cy="157.3" r="1.8"/><circle cx="635.2" cy="85.6" r="1.8"/><circle cx="635.2" cy="93.2" r="1.8"/><circle cx="635.6" cy="62.9" r="1.8"/><circle cx="635.6" cy="136.8" r="1.8"/><circle cx="636.1" cy="80.6" r="1.8"/><circle cx="637.6" cy="107.7" r="1.8"/><circle cx="638.1" cy="56.2" r="1.8"/><circle cx="638.2" cy="79.6" r="1.8"/><circle cx="639.3" cy="100.4" r="1.8"/><circle cx="639.7" cy="96.6" r="1.8"/><circle cx="640.2" cy="75.6" r="1.8"/><circle cx="640.8" cy="106.3" r="1.8"/><circle cx="641.8" cy="84" r="1.8"/><circle cx="641.9" cy="109.2" r="1.8"/><circle cx="643.3" cy="72.7" r="1.8"/><circle cx="644.1" cy="95.4" r="1.8"/><circle cx="644.3" cy="65" r="1.8"/><circle cx="645.4" cy="110.6" r="1.8"/><circle cx="645.5" cy="76.3" r="1.8"/><circle cx="646.1" cy="77" r="1.8"/><circle cx="646.7" cy="59.1" r="1.8"/><circle cx="647" cy="101.4" r="1.8"/><circle cx="647.1" cy="78.3" r="1.8"/><circle cx="647.2" cy="67.8" r="1.8"/><circle cx="647.2" cy="109.5" r="1.8"/></g>
<path d="M404.0 92.90 L404.8 92.90 L405.6 92.90 L406.4 92.90 L407.2 92.90 L408.0 92.90 L408.8 92.90 L409.6 92.90 L410.4 92.90 L411.2 92.90 L412.0 92.90 L412.8 92.90 L413.6 92.90 L414.4 92.90 L415.2 92.90 L416.0 92.90 L416.8 92.90 L417.6 92.90 L418.4 92.90 L419.2 92.90 L420.0 92.90 L420.8 92.90 L421.6 92.90 L422.4 92.90 L423.2 92.90 L424.1 92.90 L424.9 92.90 L425.7 92.90 L426.5 92.90 L427.3 92.90 L428.1 92.90 L428.9 92.90 L429.7 92.90 L430.5 92.90 L431.3 92.90 L432.1 92.90 L432.9 92.90 L433.7 92.90 L434.5 92.90 L435.3 92.90 L436.1 92.90 L436.9 92.90 L437.7 92.90 L438.5 92.90 L439.3 92.90 L440.1 92.90 L440.9 92.90 L441.7 92.90 L442.5 92.90 L443.3 92.90 L444.1 92.90 L444.9 92.90 L445.7 92.90 L446.5 92.90 L447.3 92.90 L448.1 92.90 L448.9 92.90 L449.7 92.90 L450.5 92.90 L451.3 92.90 L452.1 92.90 L452.9 92.90 L453.7 92.90 L454.5 92.90 L455.3 92.90 L456.1 92.90 L456.9 92.90 L457.7 92.90 L458.5 92.90 L459.3 92.90 L460.1 92.90 L460.9 92.90 L461.7 92.90 L462.5 92.90 L463.3 92.90 L464.2 92.90 L465.0 92.90 L465.8 92.90 L466.6 92.90 L467.4 92.90 L468.2 92.90 L469.0 92.90 L469.8 92.90 L470.6 92.90 L471.4 92.90 L472.2 92.90 L473.0 92.90 L473.8 92.90 L474.6 92.90 L475.4 92.90 L476.2 92.90 L477.0 92.90 L477.8 92.90 L478.6 92.90 L479.4 92.90 L480.2 92.90 L481.0 92.90 L481.8 92.90 L482.6 92.90 L483.4 92.90 L484.2 92.90 L485.0 92.90 L485.8 92.90 L486.6 92.90 L487.4 92.90 L488.2 92.90 L489.0 92.90 L489.8 92.90 L490.6 92.90 L491.4 92.90 L492.2 92.90 L493.0 92.90 L493.8 92.90 L494.6 92.90 L495.4 92.90 L496.2 92.90 L497.0 92.90 L497.8 92.90 L498.6 92.90 L499.4 92.90 L500.2 92.90 L501.0 92.90 L501.8 92.90 L502.6 92.90 L503.4 92.90 L504.3 92.90 L505.1 92.90 L505.9 92.90 L506.7 92.90 L507.5 92.90 L508.3 92.90 L509.1 92.90 L509.9 92.90 L510.7 92.90 L511.5 93.02 L512.3 95.66 L513.1 100.31 L513.9 106.24 L514.7 112.88 L515.5 119.62 L516.3 125.64 L517.1 129.20 L517.9 131.28 L518.7 133.07 L519.5 134.66 L520.3 136.07 L521.1 137.35 L521.9 138.52 L522.7 139.59 L523.5 140.58 L524.3 141.49 L525.1 142.34 L525.9 143.14 L526.7 143.88 L527.5 144.58 L528.3 145.24 L529.1 145.86 L529.9 146.44 L530.7 146.99 L531.5 147.52 L532.3 148.01 L533.1 148.48 L533.9 148.92 L534.7 149.34 L535.5 149.74 L536.3 150.12 L537.1 150.48 L537.9 150.82 L538.7 151.15 L539.5 151.46 L540.3 151.75 L541.1 152.03 L541.9 152.30 L542.7 152.55 L543.5 152.79 L544.4 153.02 L545.2 153.23 L546.0 153.44 L546.8 153.63 L547.6 153.82 L548.4 153.99 L549.2 154.15 L550.0 154.31 L550.8 154.46 L551.6 154.59 L552.4 154.72 L553.2 154.84 L554.0 154.96 L554.8 155.06 L555.6 155.16 L556.4 155.25 L557.2 155.33 L558.0 155.41 L558.8 155.47 L559.6 155.54 L560.4 155.59 L561.2 155.64 L562.0 155.68 L562.8 155.71 L563.6 155.74 L564.4 155.76 L565.2 155.78 L566.0 155.79 L566.8 155.79 L567.6 155.79 L568.4 155.78 L569.2 155.76 L570.0 155.74 L570.8 155.71 L571.6 155.67 L572.4 155.63 L573.2 155.58 L574.0 155.52 L574.8 155.46 L575.6 155.39 L576.4 155.31 L577.2 155.22 L578.0 155.13 L578.8 155.03 L579.6 154.93 L580.4 154.81 L581.2 154.69 L582.0 154.56 L582.8 154.42 L583.6 154.27 L584.5 154.11 L585.3 153.94 L586.1 153.77 L586.9 153.58 L587.7 153.38 L588.5 153.18 L589.3 152.96 L590.1 152.73 L590.9 152.48 L591.7 152.23 L592.5 151.96 L593.3 151.67 L594.1 151.38 L594.9 151.06 L595.7 150.73 L596.5 150.38 L597.3 150.02 L598.1 149.64 L598.9 149.23 L599.7 148.80 L600.5 148.35 L601.3 147.88 L602.1 147.38 L602.9 146.85 L603.7 146.29 L604.5 145.70 L605.3 145.07 L606.1 144.40 L606.9 143.69 L607.7 142.93 L608.5 142.12 L609.3 141.25 L610.1 140.32 L610.9 139.31 L611.7 138.21 L612.5 137.02 L613.3 135.71 L614.1 134.25 L614.9 132.62 L615.7 130.76 L616.5 128.59 L617.3 124.17 L618.1 117.85 L618.9 111.07 L619.7 104.57 L620.5 98.92 L621.3 94.72 L622.1 92.90 L622.9 92.90 L623.7 92.90 L624.6 92.90 L625.4 92.90 L626.2 92.90 L627.0 92.90 L627.8 92.90 L628.6 92.90 L629.4 92.90 L630.2 92.90 L631.0 92.90 L631.8 92.90 L632.6 92.90 L633.4 92.90 L634.2 92.90 L635.0 92.90 L635.8 92.90 L636.6 92.90 L637.4 92.90 L638.2 92.90 L639.0 92.90 L639.8 92.90 L640.6 92.90 L641.4 92.90 L642.2 92.90 L643.0 92.90 L643.8 92.90 L644.6 92.90 L645.4 92.90 L646.2 92.90 L647.0 92.90 L647.8 92.90 L648.6 92.90 L649.4 92.90 L650.2 92.90 L651.0 92.90 L651.8 92.90 L652.6 92.90 L653.4 92.90 L654.2 92.90 L655.0 92.90 L655.8 92.90 L656.6 92.90 L657.4 92.90 L658.2 92.90 L659.0 92.90 L659.8 92.90 L660.6 92.90 L661.4 92.90 L662.2 92.90 L663.0 92.90 L663.8 92.90 L664.7 92.90 L665.5 92.90 L666.3 92.90 L667.1 92.90 L667.9 92.90 L668.7 92.90 L669.5 92.90 L670.3 92.90 L671.1 92.90 L671.9 92.90 L672.7 92.90 L673.5 92.90 L674.3 92.90 L675.1 92.90 L675.9 92.90 L676.7 92.90 L677.5 92.90 L678.3 92.90 L679.1 92.90 L679.9 92.90 L680.7 92.90 L681.5 92.90 L682.3 92.90 L683.1 92.90 L683.9 92.90 L684.7 92.90 L685.5 92.90 L686.3 92.90 L687.1 92.90 L687.9 92.90 L688.7 92.90 L689.5 92.90 L690.3 92.90 L691.1 92.90 L691.9 92.90 L692.7 92.90 L693.5 92.90 L694.3 92.90 L695.1 92.90 L695.9 92.90 L696.7 92.90 L697.5 92.90 L698.3 92.90 L699.1 92.90 L699.9 92.90 L700.7 92.90 L701.5 92.90 L702.3 92.90 L703.1 92.90 L703.9 92.90 L704.8 92.90 L705.6 92.90 L706.4 92.90 L707.2 92.90 L708.0 92.90 L708.8 92.90 L709.6 92.90 L710.4 92.90 L711.2 92.90 L712.0 92.90 L712.8 92.90 L713.6 92.90 L714.4 92.90 L715.2 92.90 L716.0 92.90 L716.8 92.90 L717.6 92.90 L718.4 92.90 L719.2 92.90 L720.0 92.90 L720.8 92.90 L721.6 92.90 L722.4 92.90 L723.2 92.90 L724.0 92.90" stroke="#1a1a1a" stroke-width="1.9" fill="none" stroke-linejoin="round"/>
</g>
<path d="M403.3 2.0H724.7" stroke="#8a8a8a" stroke-width="1.6" fill="none"/>
<path d="M404.0 2.8V208.5" stroke="#555" stroke-width="1.4" fill="none"/>
<path d="M724.0 2.8V208.5" stroke="#555" stroke-width="1.4" fill="none"/>
<path d="M403.2 208.5H724.8" stroke="#424242" stroke-width="1.5" fill="none"/>
<path d="M439.3 208.5v-3.5M439.3 2.0v3.5M503.0 208.5v-3.5M503.0 2.0v3.5M566.7 208.5v-3.5M566.7 2.0v3.5M630.4 208.5v-3.5M630.4 2.0v3.5M694.1 208.5v-3.5M694.1 2.0v3.5M404.0 190.9h2.5M724.0 190.9h-2.5M404.0 171.3h2.5M724.0 171.3h-2.5M404.0 151.7h2.5M724.0 151.7h-2.5M404.0 132.1h2.5M724.0 132.1h-2.5M404.0 112.5h2.5M724.0 112.5h-2.5M404.0 92.9h2.5M724.0 92.9h-2.5M404.0 73.3h2.5M724.0 73.3h-2.5M404.0 53.7h2.5M724.0 53.7h-2.5M404.0 34.1h2.5M724.0 34.1h-2.5M404.0 14.5h2.5M724.0 14.5h-2.5" stroke="#666" stroke-width="0.9" fill="none"/>
<g fill="#2b2b2b" stroke="#2b2b2b" stroke-width="0.28" style="will-change:transform"><text x="439.3" y="224.1" font-size="9" text-anchor="middle" textLength="13.3" lengthAdjust="spacingAndGlyphs">-0.2</text><text x="503.0" y="224.1" font-size="9" text-anchor="middle" textLength="13.3" lengthAdjust="spacingAndGlyphs">-0.1</text><text x="566.7" y="224.1" font-size="9" text-anchor="middle" textLength="11.6" lengthAdjust="spacingAndGlyphs">0.0</text><text x="630.4" y="224.1" font-size="9" text-anchor="middle" textLength="11.6" lengthAdjust="spacingAndGlyphs">0.1</text><text x="694.1" y="224.1" font-size="9" text-anchor="middle" textLength="11.6" lengthAdjust="spacingAndGlyphs">0.2</text><text x="395.0" y="17.6" font-size="9" text-anchor="end" textLength="19.5" lengthAdjust="spacingAndGlyphs">1.004</text><text x="395.0" y="56.8" font-size="9" text-anchor="end" textLength="19.5" lengthAdjust="spacingAndGlyphs">1.002</text><text x="395.0" y="96.0" font-size="9" text-anchor="end" textLength="15.1" lengthAdjust="spacingAndGlyphs">1.00</text><text x="395.0" y="135.2" font-size="9" text-anchor="end" textLength="19.8" lengthAdjust="spacingAndGlyphs">0.998</text><text x="395.0" y="174.4" font-size="9" text-anchor="end" textLength="19.8" lengthAdjust="spacingAndGlyphs">0.996</text><text x="565.5" y="240.6" font-size="8.4" text-anchor="middle" textLength="45.8" lengthAdjust="spacingAndGlyphs">phase [days]</text><text transform="translate(377.1 105.2) rotate(-90)" font-size="8.2" text-anchor="middle" textLength="32.3" lengthAdjust="spacingAndGlyphs">Rel. Flux</text></g><clipPath id="cBL"><rect x="36.1" y="253.2" width="320.2" height="206.8"/></clipPath>
<g clip-path="url(#cBL)">
<path d="M102.5 255.9V312.6M103.1 315.6V375.2M103.2 323.2V372.4M103.8 271.4V330.7M103.9 336.6V402.2M104 352.8V404.9M104.5 313.3V381.1M104.5 273.1V319.4M104.5 348.7V400.4M104.6 300.6V353.7M104.6 310.3V350.9M104.8 322.9V379.1M104.9 283.7V345.4M106.6 352.3V413.1M107.2 289V344.5M107.5 340.7V397.1M107.9 338.5V381.2M108 366.8V414.6M108.1 324.1V379.1M108.9 331.7V393.7M109.1 292V356M109.1 300.3V357.5M111.2 296.5V338.1M111.3 328.5V390.3M111.4 282.3V349.9M112.5 362.1V403.6M112.9 309.9V355.8M113.2 271.2V328.1M113.4 290V341.6M114.9 342V402.2M115.7 288.3V354.6M116.7 324.4V384.7M118.8 261.6V313.6M120 318.2V382.1M120.9 333.8V386.5M121.8 328.2V375.8M122.4 329V392.3M122.9 280.6V331.6M123.8 252.4V318.6M125.9 269.8V322.3M126 330.3V394.6M126.1 324.4V373.6M126.2 333.2V389.7M126.7 289.4V349.5M127.5 339.4V383.7M128.8 265.8V312.7M129.3 323.1V375.8M129.4 278.2V331.5M129.6 297.7V349.7M129.9 332.8V381.6M130.2 333.6V394.3M130.3 307.6V356.8M130.7 293V359.3M130.7 352.1V405.5M131 348.2V390.3M131.1 285.4V347.6M131.7 325.2V367.5M131.7 310.3V351.6M131.9 336.8V397.8M132.3 318.5V384.7M132.5 324.7V377.3M132.5 313.8V367.4M132.9 294.4V348M133.6 347.2V395.9M134.5 321.1V379.7M134.6 242.6V290.7M135.2 302V350.3M137.1 316.6V375.2M137.1 281V348.9M138.6 276.9V341.6M138.6 287.9V348.3M139.5 318.5V378.1M139.5 287.1V329.3M140 319V378.6M140 355.3V403.4M140.5 347.2V389.7M141.5 347.7V398.7M142.3 314.5V364.4M142.6 359.8V406.7M143.1 327.2V371.4M143.4 348.8V403.9M144.6 291.4V352.1M144.8 360.1V419.4M145.1 312.8V366.7M146.6 333.2V399.3M146.7 360.9V425.4M146.7 333V399.8M147.1 330.9V382.4M147.1 333.1V396.2M147.2 373.8V418.7M147.2 366.1V427.4M148.1 370.1V411.1M148.4 340.6V384.5M149.1 347.5V397.4M149.3 370.1V423.2M149.4 365.5V433.1M150.1 349.1V395.3M150.3 348.3V396.9M150.3 370.8V432.6M150.3 378.2V441.6M151.1 367.1V412.3M151.4 343.3V383.7M151.5 397.7V445.2M151.8 367.5V411.5M151.9 373.5V423.2M152.3 321.9V367M153.4 352.9V397.3M153.7 365.3V407.5M153.8 368.6V425.1M153.8 346.6V397M153.9 337.3V379.4M154.3 333.5V379.1M154.3 354.4V410.4M154.7 375.9V417.3M155.4 376.1V416.7M156.7 326.5V387.1M157 354.9V401.2M157.2 365.8V415.7M158.4 383.9V445M158.5 381V429.9M159 375.8V423.7M159 329.7V390.1M159.2 383.3V450.5M159.2 360.4V425.1M159.5 365.7V432.8M159.5 353.2V408.9M159.5 369.3V412M160.9 361.8V416.8M161.2 367.4V409M162.1 348.1V410.6M162.7 390.9V433M162.9 396.3V437.2M163.6 364.4V411.8M164 357.3V407.7M164.1 354.1V411.6M164.3 371V416.1M164.3 394.8V462.7M165.1 377.6V418.1M165.2 404.1V471.7M165.6 348.5V402.3M165.8 353.4V405M166.1 361.1V410.4M166.7 359.6V410M167.3 388.7V430.3M167.7 410V467.2M168 368V409.5M169.6 389.8V434.9M170.2 411.6V453.7M170.3 432.2V476.6M170.6 384.3V436.1M170.8 392.6V459.2M171.1 403.5V462.2M171.3 386.4V429.8M172.5 385.1V450.4M172.6 374.2V424.3M172.8 363.6V413.5M172.8 363.9V425.1M173.1 397.6V461.8M174 409.6V457.5M174 388.6V434.7M174.4 358V406.3M175.2 409.6V453.5M175.2 381.4V432.2M175.4 412.6V461.3M175.5 383.7V434.2M176 362.9V404.9M176.3 370.3V432.4M176.9 362.4V425.1M177 415.4V462.6M177 330.1V393.2M177.3 363V427.8M178.5 371.8V430.3M179 335.3V397.9M179.3 382.8V449.1M179.5 395V444.5M179.7 403.9V445M179.7 395.1V453.2M179.8 380V431.2M180 400V452.7M180 369.7V427.6M181.4 374.9V441.7M182.1 383.3V441.1M182.3 380.3V438.1M183.1 394.3V441.8M183.6 369.6V420.1M185.4 381.6V429.7M185.5 366V426.8M186.2 376.6V442.4M186.6 392.8V436M186.9 363.9V422.8M187 405.4V468.5M187.9 417.4V476.1M188.7 388.7V450.3M188.8 378.3V442.6M188.9 375.8V416.7M188.9 374.4V436.1M189 372.2V436.6M189.3 389.8V454.9M191 388.7V428.8M191 396.2V449.4M191.2 391.5V448.7M191.5 379.3V419.7M192 350.5V415.4M192.5 365.2V406.8M193.1 367V409.6M193.7 382.1V435.4M193.9 412.4V452.6M195 361.7V421M195.3 388.3V456.1M195.5 379.4V432.8M195.7 406.7V461.8M195.7 427.9V479.2M195.9 398.4V462.5M196.1 395.7V436.9M196.9 391V448.4M197 404.1V466.9M197.9 370.5V438.2M198.1 368.9V421M198.2 388.9V438M198.3 408.9V474.2M198.5 372V420.8M199.3 405.8V458.2M199.6 394.9V459.9M199.9 380.6V431.5M200.1 372.5V417.4M200.2 353.8V403.3M200.8 363.1V412.4M201.2 391.4V435.7M202.1 401.1V448.3M202.2 369.2V427M202.8 365.8V432.7M203.1 375.3V415.3M203.1 432.2V483.1M204.2 352.1V415.2M204.4 359.7V403.5M204.8 406.8V454.9M206.7 362.7V415.5M206.8 408.6V450.7M206.9 371.6V416.8M207.2 400.1V460.1M207.3 409.2V464.6M207.4 380V422.4M207.8 388.7V430.8M208.1 370.4V411.6M208.1 405.8V448.5M208.1 380.8V427.3M209.6 368.3V415.6M209.8 390.2V447.2M210 395.1V439.6M210 386.5V432.1M210.1 379.5V424.1M210.5 401.4V456.1M211.4 368.3V426.9M211.9 373V414.3M212.1 382.3V428.7M212.5 386.9V453.6M212.5 372.5V433M212.6 370.5V425.6M213.2 360.4V420.6M214 374.2V415.6M214.5 377.1V417.8M215 423.5V473.7M215.6 349.5V402.6M215.6 368.4V434.6M216.2 390.9V432.3M217.1 362.8V424.1M217.2 359.9V415.3M217.6 391.8V450.6M217.6 412.6V461.4M218.7 400.1V463.4M219.1 379.4V442.6M219.6 377.1V427.4M219.7 395.2V451.6M221.6 355.9V402.9M221.8 374.2V415.5M221.8 414.2V463.8M221.9 399V439.4M222 390.5V437.7M222 374.7V440.1M222.3 380.5V427M222.8 364.4V425.5M222.9 397.8V446.5M223.4 389.1V452.6M224 387.8V454.5M224.1 343.6V385.9M225.2 404.1V467.6M227.2 396.2V459.6M227.4 418V464.9M227.8 378.9V423.1M229.9 337V404.4" stroke="#45a877" stroke-opacity="0.45" stroke-width="1.5" fill="none"/>
<g fill="#52ab7e"><circle cx="102.5" cy="284.2" r="1.7"/><circle cx="103.1" cy="345.4" r="1.7"/><circle cx="103.2" cy="347.8" r="1.7"/><circle cx="103.8" cy="301" r="1.7"/><circle cx="103.9" cy="369.4" r="1.7"/><circle cx="104" cy="378.8" r="1.7"/><circle cx="104.5" cy="347.2" r="1.7"/><circle cx="104.5" cy="296.2" r="1.7"/><circle cx="104.5" cy="374.5" r="1.7"/><circle cx="104.6" cy="327.2" r="1.7"/><circle cx="104.6" cy="330.6" r="1.7"/><circle cx="104.8" cy="351" r="1.7"/><circle cx="104.9" cy="314.5" r="1.7"/><circle cx="106.6" cy="382.7" r="1.7"/><circle cx="107.2" cy="316.7" r="1.7"/><circle cx="107.5" cy="368.9" r="1.7"/><circle cx="107.9" cy="359.8" r="1.7"/><circle cx="108" cy="390.7" r="1.7"/><circle cx="108.1" cy="351.6" r="1.7"/><circle cx="108.9" cy="362.7" r="1.7"/><circle cx="109.1" cy="324" r="1.7"/><circle cx="109.1" cy="328.9" r="1.7"/><circle cx="111.2" cy="317.3" r="1.7"/><circle cx="111.3" cy="359.4" r="1.7"/><circle cx="111.4" cy="316.1" r="1.7"/><circle cx="112.5" cy="382.8" r="1.7"/><circle cx="112.9" cy="332.8" r="1.7"/><circle cx="113.2" cy="299.7" r="1.7"/><circle cx="113.4" cy="315.8" r="1.7"/><circle cx="114.9" cy="372.1" r="1.7"/><circle cx="115.7" cy="321.4" r="1.7"/><circle cx="116.7" cy="354.6" r="1.7"/><circle cx="118.8" cy="287.6" r="1.7"/><circle cx="120" cy="350.1" r="1.7"/><circle cx="120.9" cy="360.1" r="1.7"/><circle cx="121.8" cy="352" r="1.7"/><circle cx="122.4" cy="360.6" r="1.7"/><circle cx="122.9" cy="306.1" r="1.7"/><circle cx="123.8" cy="285.5" r="1.7"/><circle cx="125.9" cy="296.1" r="1.7"/><circle cx="126" cy="362.4" r="1.7"/><circle cx="126.1" cy="349" r="1.7"/><circle cx="126.2" cy="361.4" r="1.7"/><circle cx="126.7" cy="319.5" r="1.7"/><circle cx="127.5" cy="361.6" r="1.7"/><circle cx="128.8" cy="289.2" r="1.7"/><circle cx="129.3" cy="349.4" r="1.7"/><circle cx="129.4" cy="304.9" r="1.7"/><circle cx="129.6" cy="323.7" r="1.7"/><circle cx="129.9" cy="357.2" r="1.7"/><circle cx="130.2" cy="364" r="1.7"/><circle cx="130.3" cy="332.2" r="1.7"/><circle cx="130.7" cy="326.2" r="1.7"/><circle cx="130.7" cy="378.8" r="1.7"/><circle cx="131" cy="369.2" r="1.7"/><circle cx="131.1" cy="316.5" r="1.7"/><circle cx="131.7" cy="346.4" r="1.7"/><circle cx="131.7" cy="331" r="1.7"/><circle cx="131.9" cy="367.3" r="1.7"/><circle cx="132.3" cy="351.6" r="1.7"/><circle cx="132.5" cy="351" r="1.7"/><circle cx="132.5" cy="340.6" r="1.7"/><circle cx="132.9" cy="321.2" r="1.7"/><circle cx="133.6" cy="371.6" r="1.7"/><circle cx="134.5" cy="350.4" r="1.7"/><circle cx="134.6" cy="266.6" r="1.7"/><circle cx="135.2" cy="326.1" r="1.7"/><circle cx="137.1" cy="345.9" r="1.7"/><circle cx="137.1" cy="315" r="1.7"/><circle cx="138.6" cy="309.3" r="1.7"/><circle cx="138.6" cy="318.1" r="1.7"/><circle cx="139.5" cy="348.3" r="1.7"/><circle cx="139.5" cy="308.2" r="1.7"/><circle cx="140" cy="348.8" r="1.7"/><circle cx="140" cy="379.3" r="1.7"/><circle cx="140.5" cy="368.4" r="1.7"/><circle cx="141.5" cy="373.2" r="1.7"/><circle cx="142.3" cy="339.4" r="1.7"/><circle cx="142.6" cy="383.2" r="1.7"/><circle cx="143.1" cy="349.3" r="1.7"/><circle cx="143.4" cy="376.4" r="1.7"/><circle cx="144.6" cy="321.8" r="1.7"/><circle cx="144.8" cy="389.8" r="1.7"/><circle cx="145.1" cy="339.8" r="1.7"/><circle cx="146.6" cy="366.2" r="1.7"/><circle cx="146.7" cy="393.1" r="1.7"/><circle cx="146.7" cy="366.4" r="1.7"/><circle cx="147.1" cy="356.7" r="1.7"/><circle cx="147.1" cy="364.7" r="1.7"/><circle cx="147.2" cy="396.2" r="1.7"/><circle cx="147.2" cy="396.7" r="1.7"/><circle cx="148.1" cy="390.6" r="1.7"/><circle cx="148.4" cy="362.5" r="1.7"/><circle cx="149.1" cy="372.5" r="1.7"/><circle cx="149.3" cy="396.7" r="1.7"/><circle cx="149.4" cy="399.3" r="1.7"/><circle cx="150.1" cy="372.2" r="1.7"/><circle cx="150.3" cy="372.6" r="1.7"/><circle cx="150.3" cy="401.7" r="1.7"/><circle cx="150.3" cy="409.9" r="1.7"/><circle cx="151.1" cy="389.7" r="1.7"/><circle cx="151.4" cy="363.5" r="1.7"/><circle cx="151.5" cy="421.5" r="1.7"/><circle cx="151.8" cy="389.5" r="1.7"/><circle cx="151.9" cy="398.3" r="1.7"/><circle cx="152.3" cy="344.4" r="1.7"/><circle cx="153.4" cy="375.1" r="1.7"/><circle cx="153.7" cy="386.4" r="1.7"/><circle cx="153.8" cy="396.8" r="1.7"/><circle cx="153.8" cy="371.8" r="1.7"/><circle cx="153.9" cy="358.3" r="1.7"/><circle cx="154.3" cy="356.3" r="1.7"/><circle cx="154.3" cy="382.4" r="1.7"/><circle cx="154.7" cy="396.6" r="1.7"/><circle cx="155.4" cy="396.4" r="1.7"/><circle cx="156.7" cy="356.8" r="1.7"/><circle cx="157" cy="378.1" r="1.7"/><circle cx="157.2" cy="390.7" r="1.7"/><circle cx="158.4" cy="414.5" r="1.7"/><circle cx="158.5" cy="405.5" r="1.7"/><circle cx="159" cy="399.8" r="1.7"/><circle cx="159" cy="359.9" r="1.7"/><circle cx="159.2" cy="416.9" r="1.7"/><circle cx="159.2" cy="392.8" r="1.7"/><circle cx="159.5" cy="399.3" r="1.7"/><circle cx="159.5" cy="381.1" r="1.7"/><circle cx="159.5" cy="390.7" r="1.7"/><circle cx="160.9" cy="389.3" r="1.7"/><circle cx="161.2" cy="388.2" r="1.7"/><circle cx="162.1" cy="379.4" r="1.7"/><circle cx="162.7" cy="411.9" r="1.7"/><circle cx="162.9" cy="416.8" r="1.7"/><circle cx="163.6" cy="388.1" r="1.7"/><circle cx="164" cy="382.5" r="1.7"/><circle cx="164.1" cy="382.8" r="1.7"/><circle cx="164.3" cy="393.5" r="1.7"/><circle cx="164.3" cy="428.7" r="1.7"/><circle cx="165.1" cy="397.8" r="1.7"/><circle cx="165.2" cy="437.9" r="1.7"/><circle cx="165.6" cy="375.4" r="1.7"/><circle cx="165.8" cy="379.2" r="1.7"/><circle cx="166.1" cy="385.7" r="1.7"/><circle cx="166.7" cy="384.8" r="1.7"/><circle cx="167.3" cy="409.5" r="1.7"/><circle cx="167.7" cy="438.6" r="1.7"/><circle cx="168" cy="388.8" r="1.7"/><circle cx="169.6" cy="412.3" r="1.7"/><circle cx="170.2" cy="432.7" r="1.7"/><circle cx="170.3" cy="454.4" r="1.7"/><circle cx="170.6" cy="410.2" r="1.7"/><circle cx="170.8" cy="425.9" r="1.7"/><circle cx="171.1" cy="432.8" r="1.7"/><circle cx="171.3" cy="408.1" r="1.7"/><circle cx="172.5" cy="417.7" r="1.7"/><circle cx="172.6" cy="399.3" r="1.7"/><circle cx="172.8" cy="388.5" r="1.7"/><circle cx="172.8" cy="394.5" r="1.7"/><circle cx="173.1" cy="429.7" r="1.7"/><circle cx="174" cy="433.5" r="1.7"/><circle cx="174" cy="411.6" r="1.7"/><circle cx="174.4" cy="382.1" r="1.7"/><circle cx="175.2" cy="431.5" r="1.7"/><circle cx="175.2" cy="406.8" r="1.7"/><circle cx="175.4" cy="437" r="1.7"/><circle cx="175.5" cy="409" r="1.7"/><circle cx="176" cy="383.9" r="1.7"/><circle cx="176.3" cy="401.4" r="1.7"/><circle cx="176.9" cy="393.8" r="1.7"/><circle cx="177" cy="439" r="1.7"/><circle cx="177" cy="361.6" r="1.7"/><circle cx="177.3" cy="395.4" r="1.7"/><circle cx="178.5" cy="401.1" r="1.7"/><circle cx="179" cy="366.6" r="1.7"/><circle cx="179.3" cy="416" r="1.7"/><circle cx="179.5" cy="419.8" r="1.7"/><circle cx="179.7" cy="424.5" r="1.7"/><circle cx="179.7" cy="424.2" r="1.7"/><circle cx="179.8" cy="405.6" r="1.7"/><circle cx="180" cy="426.4" r="1.7"/><circle cx="180" cy="398.7" r="1.7"/><circle cx="181.4" cy="408.3" r="1.7"/><circle cx="182.1" cy="412.2" r="1.7"/><circle cx="182.3" cy="409.2" r="1.7"/><circle cx="183.1" cy="418.1" r="1.7"/><circle cx="183.6" cy="394.9" r="1.7"/><circle cx="185.4" cy="405.7" r="1.7"/><circle cx="185.5" cy="396.4" r="1.7"/><circle cx="186.2" cy="409.5" r="1.7"/><circle cx="186.6" cy="414.4" r="1.7"/><circle cx="186.9" cy="393.4" r="1.7"/><circle cx="187" cy="436.9" r="1.7"/><circle cx="187.9" cy="446.8" r="1.7"/><circle cx="188.7" cy="419.5" r="1.7"/><circle cx="188.8" cy="410.4" r="1.7"/><circle cx="188.9" cy="396.3" r="1.7"/><circle cx="188.9" cy="405.3" r="1.7"/><circle cx="189" cy="404.4" r="1.7"/><circle cx="189.3" cy="422.4" r="1.7"/><circle cx="191" cy="408.8" r="1.7"/><circle cx="191" cy="422.8" r="1.7"/><circle cx="191.2" cy="420.1" r="1.7"/><circle cx="191.5" cy="399.5" r="1.7"/><circle cx="192" cy="383" r="1.7"/><circle cx="192.5" cy="386" r="1.7"/><circle cx="193.1" cy="388.3" r="1.7"/><circle cx="193.7" cy="408.7" r="1.7"/><circle cx="193.9" cy="432.5" r="1.7"/><circle cx="195" cy="391.3" r="1.7"/><circle cx="195.3" cy="422.2" r="1.7"/><circle cx="195.5" cy="406.1" r="1.7"/><circle cx="195.7" cy="434.2" r="1.7"/><circle cx="195.7" cy="453.5" r="1.7"/><circle cx="195.9" cy="430.5" r="1.7"/><circle cx="196.1" cy="416.3" r="1.7"/><circle cx="196.9" cy="419.7" r="1.7"/><circle cx="197" cy="435.5" r="1.7"/><circle cx="197.9" cy="404.4" r="1.7"/><circle cx="198.1" cy="394.9" r="1.7"/><circle cx="198.2" cy="413.5" r="1.7"/><circle cx="198.3" cy="441.5" r="1.7"/><circle cx="198.5" cy="396.4" r="1.7"/><circle cx="199.3" cy="432" r="1.7"/><circle cx="199.6" cy="427.4" r="1.7"/><circle cx="199.9" cy="406" r="1.7"/><circle cx="200.1" cy="395" r="1.7"/><circle cx="200.2" cy="378.5" r="1.7"/><circle cx="200.8" cy="387.8" r="1.7"/><circle cx="201.2" cy="413.6" r="1.7"/><circle cx="202.1" cy="424.7" r="1.7"/><circle cx="202.2" cy="398.1" r="1.7"/><circle cx="202.8" cy="399.2" r="1.7"/><circle cx="203.1" cy="395.3" r="1.7"/><circle cx="203.1" cy="457.7" r="1.7"/><circle cx="204.2" cy="383.6" r="1.7"/><circle cx="204.4" cy="381.6" r="1.7"/><circle cx="204.8" cy="430.8" r="1.7"/><circle cx="206.7" cy="389.1" r="1.7"/><circle cx="206.8" cy="429.7" r="1.7"/><circle cx="206.9" cy="394.2" r="1.7"/><circle cx="207.2" cy="430.1" r="1.7"/><circle cx="207.3" cy="436.9" r="1.7"/><circle cx="207.4" cy="401.2" r="1.7"/><circle cx="207.8" cy="409.8" r="1.7"/><circle cx="208.1" cy="391" r="1.7"/><circle cx="208.1" cy="427.1" r="1.7"/><circle cx="208.1" cy="404" r="1.7"/><circle cx="209.6" cy="391.9" r="1.7"/><circle cx="209.8" cy="418.7" r="1.7"/><circle cx="210" cy="417.3" r="1.7"/><circle cx="210" cy="409.3" r="1.7"/><circle cx="210.1" cy="401.8" r="1.7"/><circle cx="210.5" cy="428.7" r="1.7"/><circle cx="211.4" cy="397.6" r="1.7"/><circle cx="211.9" cy="393.6" r="1.7"/><circle cx="212.1" cy="405.5" r="1.7"/><circle cx="212.5" cy="420.3" r="1.7"/><circle cx="212.5" cy="402.8" r="1.7"/><circle cx="212.6" cy="398" r="1.7"/><circle cx="213.2" cy="390.5" r="1.7"/><circle cx="214" cy="394.9" r="1.7"/><circle cx="214.5" cy="397.5" r="1.7"/><circle cx="215" cy="448.6" r="1.7"/><circle cx="215.6" cy="376" r="1.7"/><circle cx="215.6" cy="401.5" r="1.7"/><circle cx="216.2" cy="411.6" r="1.7"/><circle cx="217.1" cy="393.5" r="1.7"/><circle cx="217.2" cy="387.6" r="1.7"/><circle cx="217.6" cy="421.2" r="1.7"/><circle cx="217.6" cy="437" r="1.7"/><circle cx="218.7" cy="431.8" r="1.7"/><circle cx="219.1" cy="411" r="1.7"/><circle cx="219.6" cy="402.3" r="1.7"/><circle cx="219.7" cy="423.4" r="1.7"/><circle cx="221.6" cy="379.4" r="1.7"/><circle cx="221.8" cy="394.9" r="1.7"/><circle cx="221.8" cy="439" r="1.7"/><circle cx="221.9" cy="419.2" r="1.7"/><circle cx="222" cy="414.1" r="1.7"/><circle cx="222" cy="407.4" r="1.7"/><circle cx="222.3" cy="403.7" r="1.7"/><circle cx="222.8" cy="395" r="1.7"/><circle cx="222.9" cy="422.2" r="1.7"/><circle cx="223.4" cy="420.9" r="1.7"/><circle cx="224" cy="421.2" r="1.7"/><circle cx="224.1" cy="364.7" r="1.7"/><circle cx="225.2" cy="435.8" r="1.7"/><circle cx="227.2" cy="427.9" r="1.7"/><circle cx="227.4" cy="441.5" r="1.7"/><circle cx="227.8" cy="401" r="1.7"/><circle cx="229.9" cy="370.7" r="1.7"/></g>
<path d="M36.1 344.30 L36.9 344.30 L37.7 344.30 L38.5 344.30 L39.3 344.30 L40.1 344.30 L40.9 344.30 L41.7 344.30 L42.5 344.30 L43.3 344.30 L44.1 344.30 L44.9 344.30 L45.7 344.30 L46.5 344.30 L47.3 344.30 L48.1 344.30 L48.9 344.30 L49.7 344.30 L50.5 344.30 L51.3 344.30 L52.2 344.30 L53.0 344.30 L53.8 344.30 L54.6 344.30 L55.4 344.30 L56.2 344.30 L57.0 344.30 L57.8 344.30 L58.6 344.30 L59.4 344.30 L60.2 344.30 L61.0 344.30 L61.8 344.30 L62.6 344.30 L63.4 344.30 L64.2 344.30 L65.0 344.30 L65.8 344.30 L66.6 344.30 L67.4 344.30 L68.2 344.30 L69.0 344.30 L69.8 344.30 L70.6 344.30 L71.4 344.30 L72.2 344.30 L73.0 344.30 L73.8 344.30 L74.6 344.30 L75.4 344.30 L76.2 344.30 L77.0 344.30 L77.8 344.30 L78.6 344.30 L79.4 344.30 L80.2 344.30 L81.0 344.30 L81.8 344.30 L82.6 344.30 L83.4 344.30 L84.3 344.30 L85.1 344.30 L85.9 344.30 L86.7 344.30 L87.5 344.30 L88.3 344.30 L89.1 344.30 L89.9 344.30 L90.7 344.30 L91.5 344.30 L92.3 344.30 L93.1 344.30 L93.9 344.30 L94.7 344.30 L95.5 344.30 L96.3 344.30 L97.1 344.30 L97.9 344.30 L98.7 344.30 L99.5 344.30 L100.3 344.30 L101.1 344.30 L101.9 344.30 L102.7 344.30 L103.5 344.30 L104.3 344.30 L105.1 344.30 L105.9 344.30 L106.7 344.30 L107.5 344.30 L108.3 344.30 L109.1 344.30 L109.9 344.30 L110.7 344.30 L111.5 344.30 L112.3 344.30 L113.1 344.30 L113.9 344.30 L114.7 344.30 L115.5 344.30 L116.4 344.30 L117.2 344.30 L118.0 344.30 L118.8 344.30 L119.6 344.30 L120.4 344.30 L121.2 344.30 L122.0 344.30 L122.8 344.30 L123.6 344.30 L124.4 344.30 L125.2 344.30 L126.0 344.30 L126.8 344.30 L127.6 344.30 L128.4 344.30 L129.2 344.30 L130.0 344.30 L130.8 344.30 L131.6 344.30 L132.4 344.30 L133.2 344.30 L134.0 344.30 L134.8 344.30 L135.6 344.30 L136.4 344.30 L137.2 344.30 L138.0 344.30 L138.8 344.30 L139.6 344.30 L140.4 344.30 L141.2 344.30 L142.0 344.30 L142.8 344.30 L143.6 344.30 L144.4 346.05 L145.2 350.21 L146.0 355.83 L146.8 362.33 L147.6 369.12 L148.5 375.46 L149.3 379.95 L150.1 382.12 L150.9 383.99 L151.7 385.62 L152.5 387.08 L153.3 388.40 L154.1 389.60 L154.9 390.69 L155.7 391.71 L156.5 392.64 L157.3 393.51 L158.1 394.32 L158.9 395.08 L159.7 395.79 L160.5 396.46 L161.3 397.09 L162.1 397.69 L162.9 398.25 L163.7 398.78 L164.5 399.28 L165.3 399.75 L166.1 400.20 L166.9 400.63 L167.7 401.03 L168.5 401.42 L169.3 401.78 L170.1 402.13 L170.9 402.46 L171.7 402.77 L172.5 403.07 L173.3 403.36 L174.1 403.63 L174.9 403.88 L175.7 404.13 L176.5 404.36 L177.3 404.58 L178.1 404.78 L178.9 404.98 L179.7 405.17 L180.6 405.35 L181.4 405.51 L182.2 405.67 L183.0 405.82 L183.8 405.96 L184.6 406.09 L185.4 406.21 L186.2 406.33 L187.0 406.43 L187.8 406.53 L188.6 406.63 L189.4 406.71 L190.2 406.79 L191.0 406.86 L191.8 406.92 L192.6 406.98 L193.4 407.03 L194.2 407.07 L195.0 407.11 L195.8 407.14 L196.6 407.16 L197.4 407.18 L198.2 407.19 L199.0 407.19 L199.8 407.19 L200.6 407.18 L201.4 407.16 L202.2 407.14 L203.0 407.11 L203.8 407.08 L204.6 407.04 L205.4 406.99 L206.2 406.93 L207.0 406.87 L207.8 406.80 L208.6 406.73 L209.4 406.65 L210.2 406.56 L211.0 406.46 L211.8 406.35 L212.7 406.24 L213.5 406.12 L214.3 405.99 L215.1 405.85 L215.9 405.70 L216.7 405.55 L217.5 405.38 L218.3 405.21 L219.1 405.03 L219.9 404.83 L220.7 404.62 L221.5 404.41 L222.3 404.18 L223.1 403.94 L223.9 403.69 L224.7 403.42 L225.5 403.14 L226.3 402.84 L227.1 402.53 L227.9 402.21 L228.7 401.86 L229.5 401.50 L230.3 401.12 L231.1 400.72 L231.9 400.30 L232.7 399.86 L233.5 399.39 L234.3 398.89 L235.1 398.37 L235.9 397.82 L236.7 397.23 L237.5 396.61 L238.3 395.95 L239.1 395.25 L239.9 394.50 L240.7 393.70 L241.5 392.84 L242.3 391.92 L243.1 390.93 L243.9 389.86 L244.8 388.68 L245.6 387.39 L246.4 385.97 L247.2 384.38 L248.0 382.57 L248.8 380.47 L249.6 376.73 L250.4 370.63 L251.2 363.87 L252.0 357.25 L252.8 351.38 L253.6 346.83 L254.4 344.36 L255.2 344.30 L256.0 344.30 L256.8 344.30 L257.6 344.30 L258.4 344.30 L259.2 344.30 L260.0 344.30 L260.8 344.30 L261.6 344.30 L262.4 344.30 L263.2 344.30 L264.0 344.30 L264.8 344.30 L265.6 344.30 L266.4 344.30 L267.2 344.30 L268.0 344.30 L268.8 344.30 L269.6 344.30 L270.4 344.30 L271.2 344.30 L272.0 344.30 L272.8 344.30 L273.6 344.30 L274.4 344.30 L275.2 344.30 L276.0 344.30 L276.9 344.30 L277.7 344.30 L278.5 344.30 L279.3 344.30 L280.1 344.30 L280.9 344.30 L281.7 344.30 L282.5 344.30 L283.3 344.30 L284.1 344.30 L284.9 344.30 L285.7 344.30 L286.5 344.30 L287.3 344.30 L288.1 344.30 L288.9 344.30 L289.7 344.30 L290.5 344.30 L291.3 344.30 L292.1 344.30 L292.9 344.30 L293.7 344.30 L294.5 344.30 L295.3 344.30 L296.1 344.30 L296.9 344.30 L297.7 344.30 L298.5 344.30 L299.3 344.30 L300.1 344.30 L300.9 344.30 L301.7 344.30 L302.5 344.30 L303.3 344.30 L304.1 344.30 L304.9 344.30 L305.7 344.30 L306.5 344.30 L307.3 344.30 L308.1 344.30 L309.0 344.30 L309.8 344.30 L310.6 344.30 L311.4 344.30 L312.2 344.30 L313.0 344.30 L313.8 344.30 L314.6 344.30 L315.4 344.30 L316.2 344.30 L317.0 344.30 L317.8 344.30 L318.6 344.30 L319.4 344.30 L320.2 344.30 L321.0 344.30 L321.8 344.30 L322.6 344.30 L323.4 344.30 L324.2 344.30 L325.0 344.30 L325.8 344.30 L326.6 344.30 L327.4 344.30 L328.2 344.30 L329.0 344.30 L329.8 344.30 L330.6 344.30 L331.4 344.30 L332.2 344.30 L333.0 344.30 L333.8 344.30 L334.6 344.30 L335.4 344.30 L336.2 344.30 L337.0 344.30 L337.8 344.30 L338.6 344.30 L339.4 344.30 L340.2 344.30 L341.1 344.30 L341.9 344.30 L342.7 344.30 L343.5 344.30 L344.3 344.30 L345.1 344.30 L345.9 344.30 L346.7 344.30 L347.5 344.30 L348.3 344.30 L349.1 344.30 L349.9 344.30 L350.7 344.30 L351.5 344.30 L352.3 344.30 L353.1 344.30 L353.9 344.30 L354.7 344.30 L355.5 344.30 L356.3 344.30" stroke="#1a1a1a" stroke-width="1.9" fill="none" stroke-linejoin="round"/>
</g>
<path d="M35.4 253.2H357.0" stroke="#8a8a8a" stroke-width="1.6" fill="none"/>
<path d="M36.1 254.0V460.0" stroke="#555" stroke-width="1.4" fill="none"/>
<path d="M356.3 254.0V460.0" stroke="#555" stroke-width="1.4" fill="none"/>
<path d="M35.300000000000004 460.0H357.1" stroke="#424242" stroke-width="1.5" fill="none"/>
<path d="M71.7 460.0v-3.5M71.7 253.2v3.5M135.4 460.0v-3.5M135.4 253.2v3.5M199.1 460.0v-3.5M199.1 253.2v3.5M262.8 460.0v-3.5M262.8 253.2v3.5M326.5 460.0v-3.5M326.5 253.2v3.5M36.1 442.3h2.5M356.3 442.3h-2.5M36.1 422.7h2.5M356.3 422.7h-2.5M36.1 403.1h2.5M356.3 403.1h-2.5M36.1 383.5h2.5M356.3 383.5h-2.5M36.1 363.9h2.5M356.3 363.9h-2.5M36.1 344.3h2.5M356.3 344.3h-2.5M36.1 324.7h2.5M356.3 324.7h-2.5M36.1 305.1h2.5M356.3 305.1h-2.5M36.1 285.5h2.5M356.3 285.5h-2.5M36.1 265.9h2.5M356.3 265.9h-2.5" stroke="#666" stroke-width="0.9" fill="none"/>
<g fill="#2b2b2b" stroke="#2b2b2b" stroke-width="0.28" style="will-change:transform"><text x="71.7" y="475.6" font-size="9" text-anchor="middle" textLength="13.3" lengthAdjust="spacingAndGlyphs">-0.2</text><text x="135.4" y="475.6" font-size="9" text-anchor="middle" textLength="13.3" lengthAdjust="spacingAndGlyphs">-0.1</text><text x="199.1" y="475.6" font-size="9" text-anchor="middle" textLength="11.6" lengthAdjust="spacingAndGlyphs">0.0</text><text x="262.8" y="475.6" font-size="9" text-anchor="middle" textLength="11.6" lengthAdjust="spacingAndGlyphs">0.1</text><text x="326.5" y="475.6" font-size="9" text-anchor="middle" textLength="11.6" lengthAdjust="spacingAndGlyphs">0.2</text><text x="27.1" y="269.0" font-size="9" text-anchor="end" textLength="19.5" lengthAdjust="spacingAndGlyphs">1.004</text><text x="27.1" y="308.2" font-size="9" text-anchor="end" textLength="19.5" lengthAdjust="spacingAndGlyphs">1.002</text><text x="27.1" y="347.4" font-size="9" text-anchor="end" textLength="15.1" lengthAdjust="spacingAndGlyphs">1.00</text><text x="27.1" y="386.6" font-size="9" text-anchor="end" textLength="19.8" lengthAdjust="spacingAndGlyphs">0.998</text><text x="27.1" y="425.8" font-size="9" text-anchor="end" textLength="19.8" lengthAdjust="spacingAndGlyphs">0.996</text><text x="197.7" y="492.1" font-size="8.4" text-anchor="middle" textLength="45.8" lengthAdjust="spacingAndGlyphs">phase [days]</text><text transform="translate(9.2 356.6) rotate(-90)" font-size="8.2" text-anchor="middle" textLength="32.3" lengthAdjust="spacingAndGlyphs">Rel. Flux</text></g><clipPath id="cBR"><rect x="404.0" y="253.2" width="320.0" height="206.8"/></clipPath>
<g clip-path="url(#cBR)">
<path d="M472.1 258.5V339.9M472.2 288.3V349.7M472.7 309.6V402.2M473.4 338.8V401.9M474.8 294.3V360.9M475.8 301V366.3M476.2 276.8V361.8M476.5 344.8V402.9M477.2 278.8V336.8M479.4 281.1V348.9M480.2 295.4V374.3M481.4 272.6V344.3M481.9 315.5V372.6M482.8 380.5V440.7M483.1 298.9V359.8M484.3 373V431.1M484.6 341.8V409.6M485 310.4V367.9M485.1 334.8V393.9M485.1 364.9V437.5M485.2 249.6V328.5M486.2 317.9V412.4M486.2 351.4V431.3M486.4 252.9V336.5M486.6 352.5V440.3M487.6 332.5V393.7M488.2 255V328.4M489.3 318.9V387.8M490.8 229.5V295.8M491.6 242.1V301.9M494.3 218.4V298.9M496.3 306.2V380.3M496.9 277.1V348.3M497.1 247.2V341.3M497.1 266.9V343.2M499.6 288.9V363.3M500.5 268.7V361.1M500.5 260.2V353.9M501.6 307.9V371.4M501.6 254.3V319.9M503.1 271.6V345.8M503.6 353.9V424.5M505.1 324.6V381.7M505.1 207.5V297M505.3 367.4V452.1M505.6 259.8V335.5M505.7 375.3V454.9M506.2 311V375.1M506.5 344.7V423.3M506.7 223.1V289.4M506.7 256.2V349.1M507 276.7V341.3M507.4 278.4V348.1M508 261.5V346.1M508.4 278.2V344.3M508.7 289.9V380.8M509.5 280.1V347.2M510.1 291.3V380.6M510.5 311.4V405.3M510.5 231V294.2M510.9 295.4V370.7M510.9 269.1V330.8M511.2 309.1V370.1M513 344.7V403.3M514.7 254.5V339.9M514.8 304.7V371.7M515.4 355.9V427.2M516.2 361.5V434.3M516.2 299V376.8M516.3 356.7V428M517.1 326.6V416.8M517.5 323.1V404.9M517.7 313.3V376M518.1 341.5V405.8M518.2 352.4V424.4M519.2 307V382M519.6 347.1V421.5M519.6 285.5V373.5M520 294.5V365.9M520 344.1V432M520.1 333.3V391.9M520.8 316.8V375.7M520.9 338.2V429.1M521.4 359.6V433.1M521.5 346.7V405M521.6 390.1V450.9M522.1 323.7V386.4M522.3 317.7V396.5M522.8 366.1V445M523.3 315.2V386.5M523.4 370.5V431.1M523.4 305.4V362.1M523.7 306.5V398.8M523.7 339.4V412.9M523.8 330.3V409.5M524.3 383.3V467.1M524.6 321.2V394.3M525 349.8V418.5M525.5 350.8V428.8M526 339.1V427.7M526.1 369.9V464M526.2 336.4V406.2M526.3 334.8V410.8M526.6 321.9V399.4M526.9 369.2V452.7M527.4 351.3V438.7M527.4 361.7V429.3M528 351.5V437.5M528 322.7V395.4M528.1 371.3V433.5M528.9 361.7V435.3M529.4 386V471.9M530.1 364.2V441.5M530.2 333.4V408.1M530.9 356V412.9M531.5 396.7V486.1M531.6 323.2V399.7M531.7 323.1V391.5M532.1 356V444.8M532.2 397.3V468.4M532.5 352.6V440.5M532.7 335.2V392.2M533 407.8V499.6M533.1 340.1V410.1M533.6 375.7V460.2M533.6 401.5V467.8M533.9 365.8V432.2M534 378V447.5M534.1 403.8V468.4M534.1 333.8V391.1M534.1 382.2V453.3M534.4 400.4V457M534.5 400.4V461.2M534.6 343.9V428.6M535.2 369.3V451.1M535.3 348.1V417.7M535.7 353.1V412.3M535.9 329.2V419M536.2 374.7V457.4M536.3 376.4V433M536.8 398.3V462.5M538.2 295.9V380.9M539.1 347.2V411.3M539.5 379.3V445.2M540.1 420.4V480.8M540.4 349.7V421.6M540.5 316.1V399.2M540.5 345.3V433.6M540.9 362.8V444.3M541.1 396.8V458.6M541.2 391V481.5M541.9 393.5V458.8M542 357.1V452.2M543 419.4V509.3M543 361.2V419.1M543.5 367.6V450.9M543.8 397.2V453.6M544.2 362.6V430.4M544.3 364.2V444.4M544.7 383.6V472.5M545 352.3V422M545.6 363.3V449.6M546.8 373.7V441.4M547.2 426.3V518.3M548.1 402.3V465.7M548.3 362.1V425.9M548.5 401.7V463.2M549.2 341.6V427.4M549.2 376.1V471.8M549.3 332.7V405.4M549.7 391V473.6M550.2 364V453.5M550.7 330.1V425.6M551 392.8V456M551.2 391.1V480.5M552.4 395.1V452.7M552.6 380.3V456.4M553.1 335.4V422.6M554.1 393V477.8M554.3 323.8V389.3M555 359.2V438.8M555.1 436.5V496.5M555.2 346.6V408.2M555.6 332.6V401.4M556 361.5V417.7M556.2 377V471.2M556.6 367.6V456.3M556.7 406.2V474.7M556.8 369.3V461.4M557.5 347.6V425.2M558 409.2V468.2M558.2 363.4V435.2M558.9 396.7V467.3M559.1 409.7V492.5M559.5 382V473.7M559.8 409.4V488.5M560.1 343.3V422M560.1 373.6V433.5M560.2 391.4V448M560.2 349.4V418.3M560.5 421.6V478.4M560.8 412.1V483.2M560.9 393.8V461.5M561 393.8V468.4M561 380.5V443.4M561.4 352.6V422.1M561.4 370.3V428.1M561.6 380.1V437.4M562 379.7V463.6M562.4 378.7V445.5M562.6 391.6V454.6M562.8 346.2V415.7M562.8 349.8V442.1M563 388.4V452.2M563 405.2V477.2M563.2 339V407M563.6 393.1V456.6M563.9 391.1V479.5M564.4 381.2V447.7M564.5 382.9V453.8M564.6 361.9V449.4M564.9 372.7V457.8M565.1 376V437.1M565.2 334.1V419.3M565.3 404.1V500M565.5 391.7V458M565.6 372.5V432.8M566.6 420.5V482.5M567.1 377.7V441.3M567.6 388.2V478.8M568.1 333.3V412.1M569 371.4V430M571.8 415.2V473.5M571.9 411.3V498M572 419V511.8M572.1 410.7V496.5M572.6 432.4V494.4M572.9 357.2V438.5M573.3 333.6V424.1M573.9 306.6V398M574 376.2V460.9M575.3 370V448.4M575.4 427.1V485M575.5 362.3V456.7M575.6 411.7V505.8M576.1 334.8V412.8M577.9 426.6V497.7M578.3 377.7V449M578.4 418.4V485M578.4 399.3V483.8M578.5 356.8V427.7M580.1 408.5V469.8M580.2 364.1V433.9M580.7 398.4V479.4M581.9 386.9V474.4M582 390.1V462.4M582.7 373.3V447.8M582.8 368.5V448.1M583.7 383.4V449.3M583.7 310.3V390.6M583.9 407.8V474M584.1 371.4V453.8M584.2 376.2V464.7M584.4 355V424.5M584.5 376.4V469M585.2 354.4V449.7M585.3 416.5V497.2M585.4 347.3V405.9M586.1 410.6V484.7M586.6 356.4V428.9M586.7 385.4V462.3M587.5 375V439.2M588 342.2V433.3M588 327.9V389.1M588.3 394.8V472.3M589.1 323.1V411.4M589.4 368.5V433.2M589.9 414.6V482.3M590.6 407.1V490.5M591.3 383.6V456.7M591.3 327.9V409.6M592.5 373.2V443M592.7 366.7V459.9M593.3 342.7V436.2M594.1 414.3V478.8M594.8 376.7V456.2M594.9 376.9V460.1M595.3 376.8V436.9M595.4 337V408.9M595.5 338V431M596.3 341.7V423.8M596.3 402.5V481M596.3 365.7V454.5M596.3 386.8V455.6M596.6 376.9V463.1M596.8 386.8V452.4M597.2 416.2V490.9M597.5 384.6V477.9M597.8 384.1V448.5M598.3 368.6V455.3M598.3 414.1V480.3M599 317.1V400.9M599.2 406.4V480.6M599.4 358.7V427.7M599.5 390.4V450.4M599.9 359.1V440.4M600 370.9V444.8M600.7 371.8V427.9M601.2 278.1V338.7M601.4 341.7V408.7M601.7 346.4V419.9M601.8 338.5V399.7M602.1 317.6V390.4M602.4 382.6V453.8M602.5 332.5V420.1M602.5 362.4V450.9M603.1 398.1V473.2M604.6 334.8V411.8M604.6 366.4V428.7M604.8 400.9V464.9M605.3 353.6V433.4M605.6 350.7V432.3M606.7 306.4V380.5M607 406.2V467.7M607.1 357.1V430.3M607.1 321V406.9M607.2 379.7V466M607.6 355.5V421.2M607.7 359.8V435.5M609 349.5V412.6M609.6 387.6V448.7M609.7 380.6V452M609.8 343.1V428.1M610.1 358.5V438.1M610.9 405.4V473.7M611.3 353.7V445M612.1 333.4V425.8M612.7 395.7V473.3M612.8 332.1V411.7M613.1 355.2V431.2M613.4 313.5V391.5M613.5 326.2V398.6M613.8 339.3V404M613.8 363.9V449.8M614.6 383.2V459.8M614.7 324.9V420.6M614.8 373.7V449.8M615.8 351.9V411M616.3 370V446.1M616.4 311V400.4M617.7 342.9V437.7M618.2 337.4V409.4M618.4 340.7V427.1M618.5 425.7V520.1M618.6 343.6V435.6M618.6 386.1V477.6M618.7 377.4V461.4M618.7 276.5V364.5M619.6 352.9V432.3M619.7 378.1V459.2M619.9 275V355.1M620.3 298.9V387.3M620.6 467.2V559.5M621 345.2V409.3M621.7 305.9V400.6M622.3 325.6V417.9M622.4 301.3V366.1M622.6 333.4V414.6M622.9 344.9V411.9M623 327.1V384.8M623.1 384.3V475.3M623.3 406.2V478.9M623.4 372.2V453.8M623.8 292V371.7M623.9 297.9V387.5M624.3 275.7V333M625.7 348.4V410.4M626.1 307V369M626.2 295.9V372M626.3 288.9V366.3M627.1 329.4V406.5M627.7 319.1V405.8M628.5 254.6V344.4M628.7 384.2V462.2M629.7 312.8V402.7M629.9 240.3V331.1M630.8 357.7V415.1M632.5 261.4V344.9M633.2 385.3V472.2M635.1 361.5V451.6M635.8 335.5V402.4M636.1 413.5V494.2M638 262.2V339.2M638.8 319V396.3M639.4 282.6V378.3M639.7 256.8V343.7M639.9 234.3V328.9M640.1 361V431.6M641.6 299.9V362.5M641.6 263.1V330.7M642.9 270.9V363.6M643.8 448.4V536.1M644.4 298.9V388.7M646 276.6V339.9M646.2 294.1V368.6M649.4 358.4V441.6M649.6 290.1V382.6M650.1 301.6V363.4M650.1 309.4V367.2M650.2 275.8V356.1M651.9 287.6V369.9M654.2 375.4V443.4M655 296.1V364.2M655.9 307V366.4M656.2 152V241.9M657.2 335.1V415.7M659.6 355.8V449M660.2 264.6V347.6M660.8 330.9V397.2M661.8 254.5V316.4M662.2 315.9V396.2M662.3 315.4V400.7M662.5 191.7V262.9M664.3 352.7V436.9M664.4 365.5V447.1M667 303.5V360.5M667.5 235.7V331.5M667.6 291.5V386.3M667.8 295.6V367.8M668.4 352.7V421.1M671.5 265V335M673 332V412M675.8 371V447M677 303V387M676.8 244V316" stroke="#ff00ff" stroke-opacity="0.5" stroke-width="1.7" fill="none"/>
<g fill="#ff14ff"><circle cx="472.1" cy="299.2" r="1.75"/><circle cx="472.2" cy="319" r="1.75"/><circle cx="472.7" cy="355.9" r="1.75"/><circle cx="473.4" cy="370.3" r="1.75"/><circle cx="474.8" cy="327.6" r="1.75"/><circle cx="475.8" cy="333.7" r="1.75"/><circle cx="476.2" cy="319.3" r="1.75"/><circle cx="476.5" cy="373.8" r="1.75"/><circle cx="477.2" cy="307.8" r="1.75"/><circle cx="479.4" cy="315" r="1.75"/><circle cx="480.2" cy="334.8" r="1.75"/><circle cx="481.4" cy="308.4" r="1.75"/><circle cx="481.9" cy="344" r="1.75"/><circle cx="482.8" cy="410.6" r="1.75"/><circle cx="483.1" cy="329.3" r="1.75"/><circle cx="484.3" cy="402.1" r="1.75"/><circle cx="484.6" cy="375.7" r="1.75"/><circle cx="485" cy="339.1" r="1.75"/><circle cx="485.1" cy="364.3" r="1.75"/><circle cx="485.1" cy="401.2" r="1.75"/><circle cx="485.2" cy="289" r="1.75"/><circle cx="486.2" cy="365.1" r="1.75"/><circle cx="486.2" cy="391.4" r="1.75"/><circle cx="486.4" cy="294.7" r="1.75"/><circle cx="486.6" cy="396.4" r="1.75"/><circle cx="487.6" cy="363.1" r="1.75"/><circle cx="488.2" cy="291.7" r="1.75"/><circle cx="489.3" cy="353.4" r="1.75"/><circle cx="490.8" cy="262.6" r="1.75"/><circle cx="491.6" cy="272" r="1.75"/><circle cx="494.3" cy="258.7" r="1.75"/><circle cx="496.3" cy="343.3" r="1.75"/><circle cx="496.9" cy="312.7" r="1.75"/><circle cx="497.1" cy="294.3" r="1.75"/><circle cx="497.1" cy="305" r="1.75"/><circle cx="499.6" cy="326.1" r="1.75"/><circle cx="500.5" cy="314.9" r="1.75"/><circle cx="500.5" cy="307" r="1.75"/><circle cx="501.6" cy="339.6" r="1.75"/><circle cx="501.6" cy="287.1" r="1.75"/><circle cx="503.1" cy="308.7" r="1.75"/><circle cx="503.6" cy="389.2" r="1.75"/><circle cx="505.1" cy="353.2" r="1.75"/><circle cx="505.1" cy="252.3" r="1.75"/><circle cx="505.3" cy="409.8" r="1.75"/><circle cx="505.6" cy="297.7" r="1.75"/><circle cx="505.7" cy="415.1" r="1.75"/><circle cx="506.2" cy="343" r="1.75"/><circle cx="506.5" cy="384" r="1.75"/><circle cx="506.7" cy="256.2" r="1.75"/><circle cx="506.7" cy="302.7" r="1.75"/><circle cx="507" cy="309" r="1.75"/><circle cx="507.4" cy="313.2" r="1.75"/><circle cx="508" cy="303.8" r="1.75"/><circle cx="508.4" cy="311.3" r="1.75"/><circle cx="508.7" cy="335.3" r="1.75"/><circle cx="509.5" cy="313.7" r="1.75"/><circle cx="510.1" cy="335.9" r="1.75"/><circle cx="510.5" cy="358.3" r="1.75"/><circle cx="510.5" cy="262.6" r="1.75"/><circle cx="510.9" cy="333" r="1.75"/><circle cx="510.9" cy="300" r="1.75"/><circle cx="511.2" cy="339.6" r="1.75"/><circle cx="513" cy="374" r="1.75"/><circle cx="514.7" cy="297.2" r="1.75"/><circle cx="514.8" cy="338.2" r="1.75"/><circle cx="515.4" cy="391.5" r="1.75"/><circle cx="516.2" cy="397.9" r="1.75"/><circle cx="516.2" cy="337.9" r="1.75"/><circle cx="516.3" cy="392.4" r="1.75"/><circle cx="517.1" cy="371.7" r="1.75"/><circle cx="517.5" cy="364" r="1.75"/><circle cx="517.7" cy="344.6" r="1.75"/><circle cx="518.1" cy="373.7" r="1.75"/><circle cx="518.2" cy="388.4" r="1.75"/><circle cx="519.2" cy="344.5" r="1.75"/><circle cx="519.6" cy="384.3" r="1.75"/><circle cx="519.6" cy="329.5" r="1.75"/><circle cx="520" cy="330.2" r="1.75"/><circle cx="520" cy="388" r="1.75"/><circle cx="520.1" cy="362.6" r="1.75"/><circle cx="520.8" cy="346.2" r="1.75"/><circle cx="520.9" cy="383.7" r="1.75"/><circle cx="521.4" cy="396.3" r="1.75"/><circle cx="521.5" cy="375.8" r="1.75"/><circle cx="521.6" cy="420.5" r="1.75"/><circle cx="522.1" cy="355" r="1.75"/><circle cx="522.3" cy="357.1" r="1.75"/><circle cx="522.8" cy="405.6" r="1.75"/><circle cx="523.3" cy="350.9" r="1.75"/><circle cx="523.4" cy="400.8" r="1.75"/><circle cx="523.4" cy="333.7" r="1.75"/><circle cx="523.7" cy="352.6" r="1.75"/><circle cx="523.7" cy="376.1" r="1.75"/><circle cx="523.8" cy="369.9" r="1.75"/><circle cx="524.3" cy="425.2" r="1.75"/><circle cx="524.6" cy="357.7" r="1.75"/><circle cx="525" cy="384.2" r="1.75"/><circle cx="525.5" cy="389.8" r="1.75"/><circle cx="526" cy="383.4" r="1.75"/><circle cx="526.1" cy="417" r="1.75"/><circle cx="526.2" cy="371.3" r="1.75"/><circle cx="526.3" cy="372.8" r="1.75"/><circle cx="526.6" cy="360.6" r="1.75"/><circle cx="526.9" cy="410.9" r="1.75"/><circle cx="527.4" cy="395" r="1.75"/><circle cx="527.4" cy="395.5" r="1.75"/><circle cx="528" cy="394.5" r="1.75"/><circle cx="528" cy="359" r="1.75"/><circle cx="528.1" cy="402.4" r="1.75"/><circle cx="528.9" cy="398.5" r="1.75"/><circle cx="529.4" cy="428.9" r="1.75"/><circle cx="530.1" cy="402.9" r="1.75"/><circle cx="530.2" cy="370.7" r="1.75"/><circle cx="530.9" cy="384.4" r="1.75"/><circle cx="531.5" cy="441.4" r="1.75"/><circle cx="531.6" cy="361.4" r="1.75"/><circle cx="531.7" cy="357.3" r="1.75"/><circle cx="532.1" cy="400.4" r="1.75"/><circle cx="532.2" cy="432.9" r="1.75"/><circle cx="532.5" cy="396.6" r="1.75"/><circle cx="532.7" cy="363.7" r="1.75"/><circle cx="533" cy="453.7" r="1.75"/><circle cx="533.1" cy="375.1" r="1.75"/><circle cx="533.6" cy="418" r="1.75"/><circle cx="533.6" cy="434.6" r="1.75"/><circle cx="533.9" cy="399" r="1.75"/><circle cx="534" cy="412.7" r="1.75"/><circle cx="534.1" cy="436.1" r="1.75"/><circle cx="534.1" cy="362.5" r="1.75"/><circle cx="534.1" cy="417.7" r="1.75"/><circle cx="534.4" cy="428.7" r="1.75"/><circle cx="534.5" cy="430.8" r="1.75"/><circle cx="534.6" cy="386.3" r="1.75"/><circle cx="535.2" cy="410.2" r="1.75"/><circle cx="535.3" cy="382.9" r="1.75"/><circle cx="535.7" cy="382.7" r="1.75"/><circle cx="535.9" cy="374.1" r="1.75"/><circle cx="536.2" cy="416.1" r="1.75"/><circle cx="536.3" cy="404.7" r="1.75"/><circle cx="536.8" cy="430.4" r="1.75"/><circle cx="538.2" cy="338.4" r="1.75"/><circle cx="539.1" cy="379.3" r="1.75"/><circle cx="539.5" cy="412.3" r="1.75"/><circle cx="540.1" cy="450.6" r="1.75"/><circle cx="540.4" cy="385.6" r="1.75"/><circle cx="540.5" cy="357.7" r="1.75"/><circle cx="540.5" cy="389.4" r="1.75"/><circle cx="540.9" cy="403.5" r="1.75"/><circle cx="541.1" cy="427.7" r="1.75"/><circle cx="541.2" cy="436.3" r="1.75"/><circle cx="541.9" cy="426.1" r="1.75"/><circle cx="542" cy="404.7" r="1.75"/><circle cx="543" cy="464.3" r="1.75"/><circle cx="543" cy="390.2" r="1.75"/><circle cx="543.5" cy="409.3" r="1.75"/><circle cx="543.8" cy="425.4" r="1.75"/><circle cx="544.2" cy="396.5" r="1.75"/><circle cx="544.3" cy="404.3" r="1.75"/><circle cx="544.7" cy="428" r="1.75"/><circle cx="545" cy="387.2" r="1.75"/><circle cx="545.6" cy="406.4" r="1.75"/><circle cx="546.8" cy="407.6" r="1.75"/><circle cx="547.2" cy="472.3" r="1.75"/><circle cx="548.1" cy="434" r="1.75"/><circle cx="548.3" cy="394" r="1.75"/><circle cx="548.5" cy="432.5" r="1.75"/><circle cx="549.2" cy="384.5" r="1.75"/><circle cx="549.2" cy="424" r="1.75"/><circle cx="549.3" cy="369.1" r="1.75"/><circle cx="549.7" cy="432.3" r="1.75"/><circle cx="550.2" cy="408.8" r="1.75"/><circle cx="550.7" cy="377.9" r="1.75"/><circle cx="551" cy="424.4" r="1.75"/><circle cx="551.2" cy="435.8" r="1.75"/><circle cx="552.4" cy="423.9" r="1.75"/><circle cx="552.6" cy="418.4" r="1.75"/><circle cx="553.1" cy="379" r="1.75"/><circle cx="554.1" cy="435.4" r="1.75"/><circle cx="554.3" cy="356.5" r="1.75"/><circle cx="555" cy="399" r="1.75"/><circle cx="555.1" cy="466.5" r="1.75"/><circle cx="555.2" cy="377.4" r="1.75"/><circle cx="555.6" cy="367" r="1.75"/><circle cx="556" cy="389.6" r="1.75"/><circle cx="556.2" cy="424.1" r="1.75"/><circle cx="556.6" cy="411.9" r="1.75"/><circle cx="556.7" cy="440.4" r="1.75"/><circle cx="556.8" cy="415.3" r="1.75"/><circle cx="557.5" cy="386.4" r="1.75"/><circle cx="558" cy="438.7" r="1.75"/><circle cx="558.2" cy="399.3" r="1.75"/><circle cx="558.9" cy="432" r="1.75"/><circle cx="559.1" cy="451.1" r="1.75"/><circle cx="559.5" cy="427.9" r="1.75"/><circle cx="559.8" cy="448.9" r="1.75"/><circle cx="560.1" cy="382.7" r="1.75"/><circle cx="560.1" cy="403.5" r="1.75"/><circle cx="560.2" cy="419.7" r="1.75"/><circle cx="560.2" cy="383.8" r="1.75"/><circle cx="560.5" cy="450" r="1.75"/><circle cx="560.8" cy="447.6" r="1.75"/><circle cx="560.9" cy="427.6" r="1.75"/><circle cx="561" cy="431.1" r="1.75"/><circle cx="561" cy="411.9" r="1.75"/><circle cx="561.4" cy="387.4" r="1.75"/><circle cx="561.4" cy="399.2" r="1.75"/><circle cx="561.6" cy="408.8" r="1.75"/><circle cx="562" cy="421.7" r="1.75"/><circle cx="562.4" cy="412.1" r="1.75"/><circle cx="562.6" cy="423.1" r="1.75"/><circle cx="562.8" cy="380.9" r="1.75"/><circle cx="562.8" cy="395.9" r="1.75"/><circle cx="563" cy="420.3" r="1.75"/><circle cx="563" cy="441.2" r="1.75"/><circle cx="563.2" cy="373" r="1.75"/><circle cx="563.6" cy="424.8" r="1.75"/><circle cx="563.9" cy="435.3" r="1.75"/><circle cx="564.4" cy="414.5" r="1.75"/><circle cx="564.5" cy="418.4" r="1.75"/><circle cx="564.6" cy="405.7" r="1.75"/><circle cx="564.9" cy="415.3" r="1.75"/><circle cx="565.1" cy="406.5" r="1.75"/><circle cx="565.2" cy="376.7" r="1.75"/><circle cx="565.3" cy="452" r="1.75"/><circle cx="565.5" cy="424.8" r="1.75"/><circle cx="565.6" cy="402.7" r="1.75"/><circle cx="566.6" cy="451.5" r="1.75"/><circle cx="567.1" cy="409.5" r="1.75"/><circle cx="567.6" cy="433.5" r="1.75"/><circle cx="568.1" cy="372.7" r="1.75"/><circle cx="569" cy="400.7" r="1.75"/><circle cx="571.8" cy="444.4" r="1.75"/><circle cx="571.9" cy="454.6" r="1.75"/><circle cx="572" cy="465.4" r="1.75"/><circle cx="572.1" cy="453.6" r="1.75"/><circle cx="572.6" cy="463.4" r="1.75"/><circle cx="572.9" cy="397.8" r="1.75"/><circle cx="573.3" cy="378.8" r="1.75"/><circle cx="573.9" cy="352.3" r="1.75"/><circle cx="574" cy="418.5" r="1.75"/><circle cx="575.3" cy="409.2" r="1.75"/><circle cx="575.4" cy="456.1" r="1.75"/><circle cx="575.5" cy="409.5" r="1.75"/><circle cx="575.6" cy="458.8" r="1.75"/><circle cx="576.1" cy="373.8" r="1.75"/><circle cx="577.9" cy="462.1" r="1.75"/><circle cx="578.3" cy="413.3" r="1.75"/><circle cx="578.4" cy="451.7" r="1.75"/><circle cx="578.4" cy="441.6" r="1.75"/><circle cx="578.5" cy="392.2" r="1.75"/><circle cx="580.1" cy="439.1" r="1.75"/><circle cx="580.2" cy="399" r="1.75"/><circle cx="580.7" cy="438.9" r="1.75"/><circle cx="581.9" cy="430.6" r="1.75"/><circle cx="582" cy="426.3" r="1.75"/><circle cx="582.7" cy="410.5" r="1.75"/><circle cx="582.8" cy="408.3" r="1.75"/><circle cx="583.7" cy="416.4" r="1.75"/><circle cx="583.7" cy="350.4" r="1.75"/><circle cx="583.9" cy="440.9" r="1.75"/><circle cx="584.1" cy="412.6" r="1.75"/><circle cx="584.2" cy="420.5" r="1.75"/><circle cx="584.4" cy="389.7" r="1.75"/><circle cx="584.5" cy="422.7" r="1.75"/><circle cx="585.2" cy="402" r="1.75"/><circle cx="585.3" cy="456.9" r="1.75"/><circle cx="585.4" cy="376.6" r="1.75"/><circle cx="586.1" cy="447.6" r="1.75"/><circle cx="586.6" cy="392.6" r="1.75"/><circle cx="586.7" cy="423.8" r="1.75"/><circle cx="587.5" cy="407.1" r="1.75"/><circle cx="588" cy="387.8" r="1.75"/><circle cx="588" cy="358.5" r="1.75"/><circle cx="588.3" cy="433.6" r="1.75"/><circle cx="589.1" cy="367.3" r="1.75"/><circle cx="589.4" cy="400.9" r="1.75"/><circle cx="589.9" cy="448.4" r="1.75"/><circle cx="590.6" cy="448.8" r="1.75"/><circle cx="591.3" cy="420.2" r="1.75"/><circle cx="591.3" cy="368.7" r="1.75"/><circle cx="592.5" cy="408.1" r="1.75"/><circle cx="592.7" cy="413.3" r="1.75"/><circle cx="593.3" cy="389.4" r="1.75"/><circle cx="594.1" cy="446.6" r="1.75"/><circle cx="594.8" cy="416.5" r="1.75"/><circle cx="594.9" cy="418.5" r="1.75"/><circle cx="595.3" cy="406.9" r="1.75"/><circle cx="595.4" cy="373" r="1.75"/><circle cx="595.5" cy="384.5" r="1.75"/><circle cx="596.3" cy="382.7" r="1.75"/><circle cx="596.3" cy="441.8" r="1.75"/><circle cx="596.3" cy="410.1" r="1.75"/><circle cx="596.3" cy="421.2" r="1.75"/><circle cx="596.6" cy="420" r="1.75"/><circle cx="596.8" cy="419.6" r="1.75"/><circle cx="597.2" cy="453.5" r="1.75"/><circle cx="597.5" cy="431.2" r="1.75"/><circle cx="597.8" cy="416.3" r="1.75"/><circle cx="598.3" cy="412" r="1.75"/><circle cx="598.3" cy="447.2" r="1.75"/><circle cx="599" cy="359" r="1.75"/><circle cx="599.2" cy="443.5" r="1.75"/><circle cx="599.4" cy="393.2" r="1.75"/><circle cx="599.5" cy="420.4" r="1.75"/><circle cx="599.9" cy="399.7" r="1.75"/><circle cx="600" cy="407.8" r="1.75"/><circle cx="600.7" cy="399.9" r="1.75"/><circle cx="601.2" cy="308.4" r="1.75"/><circle cx="601.4" cy="375.2" r="1.75"/><circle cx="601.7" cy="383.1" r="1.75"/><circle cx="601.8" cy="369.1" r="1.75"/><circle cx="602.1" cy="354" r="1.75"/><circle cx="602.4" cy="418.2" r="1.75"/><circle cx="602.5" cy="376.3" r="1.75"/><circle cx="602.5" cy="406.7" r="1.75"/><circle cx="603.1" cy="435.7" r="1.75"/><circle cx="604.6" cy="373.3" r="1.75"/><circle cx="604.6" cy="397.5" r="1.75"/><circle cx="604.8" cy="432.9" r="1.75"/><circle cx="605.3" cy="393.5" r="1.75"/><circle cx="605.6" cy="391.5" r="1.75"/><circle cx="606.7" cy="343.5" r="1.75"/><circle cx="607" cy="436.9" r="1.75"/><circle cx="607.1" cy="393.7" r="1.75"/><circle cx="607.1" cy="364" r="1.75"/><circle cx="607.2" cy="422.9" r="1.75"/><circle cx="607.6" cy="388.3" r="1.75"/><circle cx="607.7" cy="397.6" r="1.75"/><circle cx="609" cy="381" r="1.75"/><circle cx="609.6" cy="418.2" r="1.75"/><circle cx="609.7" cy="416.3" r="1.75"/><circle cx="609.8" cy="385.6" r="1.75"/><circle cx="610.1" cy="398.3" r="1.75"/><circle cx="610.9" cy="439.5" r="1.75"/><circle cx="611.3" cy="399.4" r="1.75"/><circle cx="612.1" cy="379.6" r="1.75"/><circle cx="612.7" cy="434.5" r="1.75"/><circle cx="612.8" cy="371.9" r="1.75"/><circle cx="613.1" cy="393.2" r="1.75"/><circle cx="613.4" cy="352.5" r="1.75"/><circle cx="613.5" cy="362.4" r="1.75"/><circle cx="613.8" cy="371.7" r="1.75"/><circle cx="613.8" cy="406.8" r="1.75"/><circle cx="614.6" cy="421.5" r="1.75"/><circle cx="614.7" cy="372.7" r="1.75"/><circle cx="614.8" cy="411.7" r="1.75"/><circle cx="615.8" cy="381.5" r="1.75"/><circle cx="616.3" cy="408.1" r="1.75"/><circle cx="616.4" cy="355.7" r="1.75"/><circle cx="617.7" cy="390.3" r="1.75"/><circle cx="618.2" cy="373.4" r="1.75"/><circle cx="618.4" cy="383.9" r="1.75"/><circle cx="618.5" cy="472.9" r="1.75"/><circle cx="618.6" cy="389.6" r="1.75"/><circle cx="618.6" cy="431.9" r="1.75"/><circle cx="618.7" cy="419.4" r="1.75"/><circle cx="618.7" cy="320.5" r="1.75"/><circle cx="619.6" cy="392.6" r="1.75"/><circle cx="619.7" cy="418.6" r="1.75"/><circle cx="619.9" cy="315" r="1.75"/><circle cx="620.3" cy="343.1" r="1.75"/><circle cx="620.6" cy="513.3" r="1.75"/><circle cx="621" cy="377.3" r="1.75"/><circle cx="621.7" cy="353.2" r="1.75"/><circle cx="622.3" cy="371.7" r="1.75"/><circle cx="622.4" cy="333.7" r="1.75"/><circle cx="622.6" cy="374" r="1.75"/><circle cx="622.9" cy="378.4" r="1.75"/><circle cx="623" cy="355.9" r="1.75"/><circle cx="623.1" cy="429.8" r="1.75"/><circle cx="623.3" cy="442.5" r="1.75"/><circle cx="623.4" cy="413" r="1.75"/><circle cx="623.8" cy="331.9" r="1.75"/><circle cx="623.9" cy="342.7" r="1.75"/><circle cx="624.3" cy="304.4" r="1.75"/><circle cx="625.7" cy="379.4" r="1.75"/><circle cx="626.1" cy="338" r="1.75"/><circle cx="626.2" cy="334" r="1.75"/><circle cx="626.3" cy="327.6" r="1.75"/><circle cx="627.1" cy="367.9" r="1.75"/><circle cx="627.7" cy="362.4" r="1.75"/><circle cx="628.5" cy="299.5" r="1.75"/><circle cx="628.7" cy="423.2" r="1.75"/><circle cx="629.7" cy="357.7" r="1.75"/><circle cx="629.9" cy="285.7" r="1.75"/><circle cx="630.8" cy="386.4" r="1.75"/><circle cx="632.5" cy="303.2" r="1.75"/><circle cx="633.2" cy="428.8" r="1.75"/><circle cx="635.1" cy="406.6" r="1.75"/><circle cx="635.8" cy="368.9" r="1.75"/><circle cx="636.1" cy="453.9" r="1.75"/><circle cx="638" cy="300.7" r="1.75"/><circle cx="638.8" cy="357.6" r="1.75"/><circle cx="639.4" cy="330.5" r="1.75"/><circle cx="639.7" cy="300.2" r="1.75"/><circle cx="639.9" cy="281.6" r="1.75"/><circle cx="640.1" cy="396.3" r="1.75"/><circle cx="641.6" cy="331.2" r="1.75"/><circle cx="641.6" cy="296.9" r="1.75"/><circle cx="642.9" cy="317.3" r="1.75"/><circle cx="643.8" cy="492.3" r="1.75"/><circle cx="644.4" cy="343.8" r="1.75"/><circle cx="646" cy="308.2" r="1.75"/><circle cx="646.2" cy="331.4" r="1.75"/><circle cx="649.4" cy="400" r="1.75"/><circle cx="649.6" cy="336.4" r="1.75"/><circle cx="650.1" cy="332.5" r="1.75"/><circle cx="650.1" cy="338.3" r="1.75"/><circle cx="650.2" cy="316" r="1.75"/><circle cx="651.9" cy="328.7" r="1.75"/><circle cx="654.2" cy="409.4" r="1.75"/><circle cx="655" cy="330.1" r="1.75"/><circle cx="655.9" cy="336.7" r="1.75"/><circle cx="656.2" cy="197" r="1.75"/><circle cx="657.2" cy="375.4" r="1.75"/><circle cx="659.6" cy="402.4" r="1.75"/><circle cx="660.2" cy="306.1" r="1.75"/><circle cx="660.8" cy="364.1" r="1.75"/><circle cx="661.8" cy="285.4" r="1.75"/><circle cx="662.2" cy="356" r="1.75"/><circle cx="662.3" cy="358" r="1.75"/><circle cx="662.5" cy="227.3" r="1.75"/><circle cx="664.3" cy="394.8" r="1.75"/><circle cx="664.4" cy="406.3" r="1.75"/><circle cx="667" cy="332" r="1.75"/><circle cx="667.5" cy="283.6" r="1.75"/><circle cx="667.6" cy="338.9" r="1.75"/><circle cx="667.8" cy="331.7" r="1.75"/><circle cx="668.4" cy="386.9" r="1.75"/><circle cx="671.5" cy="300" r="1.75"/><circle cx="673" cy="372" r="1.75"/><circle cx="675.8" cy="409" r="1.75"/><circle cx="677" cy="345" r="1.75"/><circle cx="676.8" cy="280" r="1.75"/></g>
<path d="M404.0 344.30 L404.8 344.30 L405.6 344.30 L406.4 344.30 L407.2 344.30 L408.0 344.30 L408.8 344.30 L409.6 344.30 L410.4 344.30 L411.2 344.30 L412.0 344.30 L412.8 344.30 L413.6 344.30 L414.4 344.30 L415.2 344.30 L416.0 344.30 L416.8 344.30 L417.6 344.30 L418.4 344.30 L419.2 344.30 L420.0 344.30 L420.8 344.30 L421.6 344.30 L422.4 344.30 L423.2 344.30 L424.1 344.30 L424.9 344.30 L425.7 344.30 L426.5 344.30 L427.3 344.30 L428.1 344.30 L428.9 344.30 L429.7 344.30 L430.5 344.30 L431.3 344.30 L432.1 344.30 L432.9 344.30 L433.7 344.30 L434.5 344.30 L435.3 344.30 L436.1 344.30 L436.9 344.30 L437.7 344.30 L438.5 344.30 L439.3 344.30 L440.1 344.30 L440.9 344.30 L441.7 344.30 L442.5 344.30 L443.3 344.30 L444.1 344.30 L444.9 344.30 L445.7 344.30 L446.5 344.30 L447.3 344.30 L448.1 344.30 L448.9 344.30 L449.7 344.30 L450.5 344.30 L451.3 344.30 L452.1 344.30 L452.9 344.30 L453.7 344.30 L454.5 344.30 L455.3 344.30 L456.1 344.30 L456.9 344.30 L457.7 344.30 L458.5 344.30 L459.3 344.30 L460.1 344.30 L460.9 344.30 L461.7 344.30 L462.5 344.30 L463.3 344.30 L464.2 344.30 L465.0 344.30 L465.8 344.30 L466.6 344.30 L467.4 344.30 L468.2 344.30 L469.0 344.30 L469.8 344.30 L470.6 344.30 L471.4 344.30 L472.2 344.30 L473.0 344.30 L473.8 344.30 L474.6 344.30 L475.4 344.30 L476.2 344.30 L477.0 344.30 L477.8 344.30 L478.6 344.30 L479.4 344.30 L480.2 344.30 L481.0 344.30 L481.8 344.30 L482.6 344.30 L483.4 344.30 L484.2 344.30 L485.0 344.30 L485.8 344.30 L486.6 344.30 L487.4 344.30 L488.2 344.30 L489.0 344.30 L489.8 344.30 L490.6 344.30 L491.4 344.30 L492.2 344.30 L493.0 344.30 L493.8 344.30 L494.6 344.30 L495.4 344.30 L496.2 344.30 L497.0 344.30 L497.8 344.30 L498.6 344.30 L499.4 344.30 L500.2 344.30 L501.0 344.30 L501.8 344.30 L502.6 344.30 L503.4 344.30 L504.3 344.30 L505.1 344.30 L505.9 344.30 L506.7 344.30 L507.5 344.30 L508.3 344.30 L509.1 344.30 L509.9 344.30 L510.7 344.30 L511.5 344.42 L512.3 347.06 L513.1 351.71 L513.9 357.64 L514.7 364.28 L515.5 371.02 L516.3 377.04 L517.1 380.60 L517.9 382.68 L518.7 384.47 L519.5 386.06 L520.3 387.47 L521.1 388.75 L521.9 389.92 L522.7 390.99 L523.5 391.98 L524.3 392.89 L525.1 393.74 L525.9 394.54 L526.7 395.28 L527.5 395.98 L528.3 396.64 L529.1 397.26 L529.9 397.84 L530.7 398.39 L531.5 398.92 L532.3 399.41 L533.1 399.88 L533.9 400.32 L534.7 400.74 L535.5 401.14 L536.3 401.52 L537.1 401.88 L537.9 402.22 L538.7 402.55 L539.5 402.86 L540.3 403.15 L541.1 403.43 L541.9 403.70 L542.7 403.95 L543.5 404.19 L544.4 404.42 L545.2 404.63 L546.0 404.84 L546.8 405.03 L547.6 405.22 L548.4 405.39 L549.2 405.55 L550.0 405.71 L550.8 405.86 L551.6 405.99 L552.4 406.12 L553.2 406.24 L554.0 406.36 L554.8 406.46 L555.6 406.56 L556.4 406.65 L557.2 406.73 L558.0 406.81 L558.8 406.87 L559.6 406.94 L560.4 406.99 L561.2 407.04 L562.0 407.08 L562.8 407.11 L563.6 407.14 L564.4 407.16 L565.2 407.18 L566.0 407.19 L566.8 407.19 L567.6 407.19 L568.4 407.18 L569.2 407.16 L570.0 407.14 L570.8 407.11 L571.6 407.07 L572.4 407.03 L573.2 406.98 L574.0 406.92 L574.8 406.86 L575.6 406.79 L576.4 406.71 L577.2 406.62 L578.0 406.53 L578.8 406.43 L579.6 406.33 L580.4 406.21 L581.2 406.09 L582.0 405.96 L582.8 405.82 L583.6 405.67 L584.5 405.51 L585.3 405.34 L586.1 405.17 L586.9 404.98 L587.7 404.78 L588.5 404.58 L589.3 404.36 L590.1 404.13 L590.9 403.88 L591.7 403.63 L592.5 403.36 L593.3 403.07 L594.1 402.78 L594.9 402.46 L595.7 402.13 L596.5 401.78 L597.3 401.42 L598.1 401.04 L598.9 400.63 L599.7 400.20 L600.5 399.75 L601.3 399.28 L602.1 398.78 L602.9 398.25 L603.7 397.69 L604.5 397.10 L605.3 396.47 L606.1 395.80 L606.9 395.09 L607.7 394.33 L608.5 393.52 L609.3 392.65 L610.1 391.72 L610.9 390.71 L611.7 389.61 L612.5 388.42 L613.3 387.11 L614.1 385.65 L614.9 384.02 L615.7 382.16 L616.5 379.99 L617.3 375.57 L618.1 369.25 L618.9 362.47 L619.7 355.97 L620.5 350.32 L621.3 346.12 L622.1 344.30 L622.9 344.30 L623.7 344.30 L624.6 344.30 L625.4 344.30 L626.2 344.30 L627.0 344.30 L627.8 344.30 L628.6 344.30 L629.4 344.30 L630.2 344.30 L631.0 344.30 L631.8 344.30 L632.6 344.30 L633.4 344.30 L634.2 344.30 L635.0 344.30 L635.8 344.30 L636.6 344.30 L637.4 344.30 L638.2 344.30 L639.0 344.30 L639.8 344.30 L640.6 344.30 L641.4 344.30 L642.2 344.30 L643.0 344.30 L643.8 344.30 L644.6 344.30 L645.4 344.30 L646.2 344.30 L647.0 344.30 L647.8 344.30 L648.6 344.30 L649.4 344.30 L650.2 344.30 L651.0 344.30 L651.8 344.30 L652.6 344.30 L653.4 344.30 L654.2 344.30 L655.0 344.30 L655.8 344.30 L656.6 344.30 L657.4 344.30 L658.2 344.30 L659.0 344.30 L659.8 344.30 L660.6 344.30 L661.4 344.30 L662.2 344.30 L663.0 344.30 L663.8 344.30 L664.7 344.30 L665.5 344.30 L666.3 344.30 L667.1 344.30 L667.9 344.30 L668.7 344.30 L669.5 344.30 L670.3 344.30 L671.1 344.30 L671.9 344.30 L672.7 344.30 L673.5 344.30 L674.3 344.30 L675.1 344.30 L675.9 344.30 L676.7 344.30 L677.5 344.30 L678.3 344.30 L679.1 344.30 L679.9 344.30 L680.7 344.30 L681.5 344.30 L682.3 344.30 L683.1 344.30 L683.9 344.30 L684.7 344.30 L685.5 344.30 L686.3 344.30 L687.1 344.30 L687.9 344.30 L688.7 344.30 L689.5 344.30 L690.3 344.30 L691.1 344.30 L691.9 344.30 L692.7 344.30 L693.5 344.30 L694.3 344.30 L695.1 344.30 L695.9 344.30 L696.7 344.30 L697.5 344.30 L698.3 344.30 L699.1 344.30 L699.9 344.30 L700.7 344.30 L701.5 344.30 L702.3 344.30 L703.1 344.30 L703.9 344.30 L704.8 344.30 L705.6 344.30 L706.4 344.30 L707.2 344.30 L708.0 344.30 L708.8 344.30 L709.6 344.30 L710.4 344.30 L711.2 344.30 L712.0 344.30 L712.8 344.30 L713.6 344.30 L714.4 344.30 L715.2 344.30 L716.0 344.30 L716.8 344.30 L717.6 344.30 L718.4 344.30 L719.2 344.30 L720.0 344.30 L720.8 344.30 L721.6 344.30 L722.4 344.30 L723.2 344.30 L724.0 344.30" stroke="#1a1a1a" stroke-width="1.9" fill="none" stroke-linejoin="round"/>
</g>
<path d="M403.3 253.2H724.7" stroke="#8a8a8a" stroke-width="1.6" fill="none"/>
<path d="M404.0 254.0V460.0" stroke="#555" stroke-width="1.4" fill="none"/>
<path d="M724.0 254.0V460.0" stroke="#555" stroke-width="1.4" fill="none"/>
<path d="M403.2 460.0H724.8" stroke="#424242" stroke-width="1.5" fill="none"/>
<path d="M439.3 460.0v-3.5M439.3 253.2v3.5M503.0 460.0v-3.5M503.0 253.2v3.5M566.7 460.0v-3.5M566.7 253.2v3.5M630.4 460.0v-3.5M630.4 253.2v3.5M694.1 460.0v-3.5M694.1 253.2v3.5M404.0 442.3h2.5M724.0 442.3h-2.5M404.0 422.7h2.5M724.0 422.7h-2.5M404.0 403.1h2.5M724.0 403.1h-2.5M404.0 383.5h2.5M724.0 383.5h-2.5M404.0 363.9h2.5M724.0 363.9h-2.5M404.0 344.3h2.5M724.0 344.3h-2.5M404.0 324.7h2.5M724.0 324.7h-2.5M404.0 305.1h2.5M724.0 305.1h-2.5M404.0 285.5h2.5M724.0 285.5h-2.5M404.0 265.9h2.5M724.0 265.9h-2.5" stroke="#666" stroke-width="0.9" fill="none"/>
<g fill="#2b2b2b" stroke="#2b2b2b" stroke-width="0.28" style="will-change:transform"><text x="439.3" y="475.6" font-size="9" text-anchor="middle" textLength="13.3" lengthAdjust="spacingAndGlyphs">-0.2</text><text x="503.0" y="475.6" font-size="9" text-anchor="middle" textLength="13.3" lengthAdjust="spacingAndGlyphs">-0.1</text><text x="566.7" y="475.6" font-size="9" text-anchor="middle" textLength="11.6" lengthAdjust="spacingAndGlyphs">0.0</text><text x="630.4" y="475.6" font-size="9" text-anchor="middle" textLength="11.6" lengthAdjust="spacingAndGlyphs">0.1</text><text x="694.1" y="475.6" font-size="9" text-anchor="middle" textLength="11.6" lengthAdjust="spacingAndGlyphs">0.2</text><text x="395.0" y="269.0" font-size="9" text-anchor="end" textLength="19.5" lengthAdjust="spacingAndGlyphs">1.004</text><text x="395.0" y="308.2" font-size="9" text-anchor="end" textLength="19.5" lengthAdjust="spacingAndGlyphs">1.002</text><text x="395.0" y="347.4" font-size="9" text-anchor="end" textLength="15.1" lengthAdjust="spacingAndGlyphs">1.00</text><text x="395.0" y="386.6" font-size="9" text-anchor="end" textLength="19.8" lengthAdjust="spacingAndGlyphs">0.998</text><text x="395.0" y="425.8" font-size="9" text-anchor="end" textLength="19.8" lengthAdjust="spacingAndGlyphs">0.996</text><text x="565.5" y="492.1" font-size="8.4" text-anchor="middle" textLength="45.8" lengthAdjust="spacingAndGlyphs">phase [days]</text><text transform="translate(377.1 356.6) rotate(-90)" font-size="8.2" text-anchor="middle" textLength="32.3" lengthAdjust="spacingAndGlyphs">Rel. Flux</text></g></g></svg>
</body></html>
